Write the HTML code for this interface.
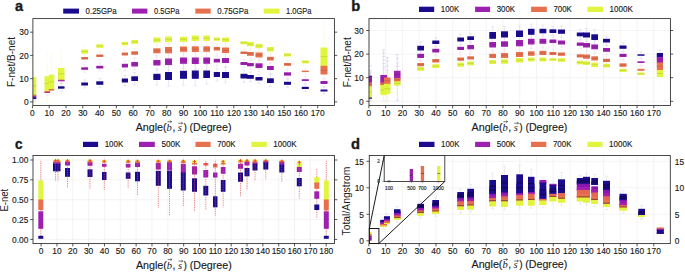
<!DOCTYPE html>
<html><head><meta charset="utf-8"><style>html,body{margin:0;padding:0;background:#fff;width:685px;height:272px;overflow:hidden}svg{display:block}</style></head><body>
<svg width="685" height="272" viewBox="0 0 685 272">
<rect width="685" height="272" fill="#ffffff"/>
<text x="15.10" y="10.90" font-family="Liberation Sans, sans-serif" font-size="13.8" text-anchor="start" fill="#1a1a1a" stroke="#1a1a1a" stroke-width="0.35" font-weight="bold" textLength="8.1" lengthAdjust="spacingAndGlyphs">a</text>
<text x="351.30" y="11.00" font-family="Liberation Sans, sans-serif" font-size="13.8" text-anchor="start" fill="#1a1a1a" stroke="#1a1a1a" stroke-width="0.35" font-weight="bold" textLength="9.0" lengthAdjust="spacingAndGlyphs">b</text>
<text x="15.10" y="148.90" font-family="Liberation Sans, sans-serif" font-size="13.8" text-anchor="start" fill="#1a1a1a" stroke="#1a1a1a" stroke-width="0.35" font-weight="bold" textLength="7.5" lengthAdjust="spacingAndGlyphs">c</text>
<text x="350.90" y="148.60" font-family="Liberation Sans, sans-serif" font-size="13.8" text-anchor="start" fill="#1a1a1a" stroke="#1a1a1a" stroke-width="0.35" font-weight="bold" textLength="9.0" lengthAdjust="spacingAndGlyphs">d</text>
<rect x="63.20" y="8.60" width="15.80" height="5.00" fill="#1b0c8f" />
<text x="85.60" y="13.50" font-family="Liberation Sans, sans-serif" font-size="8.4" text-anchor="start" fill="#1a1a1a" stroke="#1a1a1a" stroke-width="0.14" textLength="31.0" lengthAdjust="spacingAndGlyphs">0.25GPa</text>
<rect x="132.00" y="8.60" width="15.40" height="5.00" fill="#9d21b0" />
<text x="154.00" y="13.50" font-family="Liberation Sans, sans-serif" font-size="8.4" text-anchor="start" fill="#1a1a1a" stroke="#1a1a1a" stroke-width="0.14" textLength="25.4" lengthAdjust="spacingAndGlyphs">0.5GPa</text>
<rect x="195.30" y="8.60" width="15.40" height="5.00" fill="#e7714f" />
<text x="217.30" y="13.50" font-family="Liberation Sans, sans-serif" font-size="8.4" text-anchor="start" fill="#1a1a1a" stroke="#1a1a1a" stroke-width="0.14" textLength="31.0" lengthAdjust="spacingAndGlyphs">0.75GPa</text>
<rect x="263.70" y="8.60" width="15.80" height="5.00" fill="#e2f53e" />
<text x="286.10" y="13.50" font-family="Liberation Sans, sans-serif" font-size="8.4" text-anchor="start" fill="#1a1a1a" stroke="#1a1a1a" stroke-width="0.14" textLength="25.4" lengthAdjust="spacingAndGlyphs">1.0GPa</text>
<rect x="419.00" y="6.70" width="15.20" height="5.30" fill="#1b0c8f" />
<text x="440.80" y="12.30" font-family="Liberation Sans, sans-serif" font-size="8.4" text-anchor="start" fill="#1a1a1a" stroke="#1a1a1a" stroke-width="0.14" textLength="18.4" lengthAdjust="spacingAndGlyphs">100K</text>
<rect x="475.10" y="6.70" width="15.00" height="5.30" fill="#9d21b0" />
<text x="496.70" y="12.30" font-family="Liberation Sans, sans-serif" font-size="8.4" text-anchor="start" fill="#1a1a1a" stroke="#1a1a1a" stroke-width="0.14" textLength="18.4" lengthAdjust="spacingAndGlyphs">300K</text>
<rect x="531.10" y="6.70" width="15.70" height="5.30" fill="#e7714f" />
<text x="553.40" y="12.30" font-family="Liberation Sans, sans-serif" font-size="8.4" text-anchor="start" fill="#1a1a1a" stroke="#1a1a1a" stroke-width="0.14" textLength="18.4" lengthAdjust="spacingAndGlyphs">700K</text>
<rect x="587.40" y="6.70" width="15.60" height="5.30" fill="#e2f53e" />
<text x="609.60" y="12.30" font-family="Liberation Sans, sans-serif" font-size="8.4" text-anchor="start" fill="#1a1a1a" stroke="#1a1a1a" stroke-width="0.14" textLength="23.4" lengthAdjust="spacingAndGlyphs">1000K</text>
<rect x="83.00" y="141.80" width="15.10" height="5.20" fill="#1b0c8f" />
<text x="104.70" y="147.30" font-family="Liberation Sans, sans-serif" font-size="8.4" text-anchor="start" fill="#1a1a1a" stroke="#1a1a1a" stroke-width="0.14" textLength="18.6" lengthAdjust="spacingAndGlyphs">100K</text>
<rect x="139.00" y="141.80" width="15.80" height="5.20" fill="#9d21b0" />
<text x="161.40" y="147.30" font-family="Liberation Sans, sans-serif" font-size="8.4" text-anchor="start" fill="#1a1a1a" stroke="#1a1a1a" stroke-width="0.14" textLength="19.0" lengthAdjust="spacingAndGlyphs">500K</text>
<rect x="195.50" y="141.80" width="15.10" height="5.20" fill="#e7714f" />
<text x="217.20" y="147.30" font-family="Liberation Sans, sans-serif" font-size="8.4" text-anchor="start" fill="#1a1a1a" stroke="#1a1a1a" stroke-width="0.14" textLength="18.4" lengthAdjust="spacingAndGlyphs">700K</text>
<rect x="251.40" y="141.80" width="15.30" height="5.20" fill="#e2f53e" />
<text x="273.30" y="147.30" font-family="Liberation Sans, sans-serif" font-size="8.4" text-anchor="start" fill="#1a1a1a" stroke="#1a1a1a" stroke-width="0.14" textLength="23.3" lengthAdjust="spacingAndGlyphs">1000K</text>
<rect x="419.00" y="141.80" width="15.50" height="5.20" fill="#1b0c8f" />
<text x="441.10" y="147.30" font-family="Liberation Sans, sans-serif" font-size="8.4" text-anchor="start" fill="#1a1a1a" stroke="#1a1a1a" stroke-width="0.14" textLength="18.4" lengthAdjust="spacingAndGlyphs">100K</text>
<rect x="475.10" y="141.80" width="15.00" height="5.20" fill="#9d21b0" />
<text x="496.70" y="147.30" font-family="Liberation Sans, sans-serif" font-size="8.4" text-anchor="start" fill="#1a1a1a" stroke="#1a1a1a" stroke-width="0.14" textLength="18.8" lengthAdjust="spacingAndGlyphs">500K</text>
<rect x="531.00" y="141.80" width="15.30" height="5.20" fill="#e7714f" />
<text x="552.90" y="147.30" font-family="Liberation Sans, sans-serif" font-size="8.4" text-anchor="start" fill="#1a1a1a" stroke="#1a1a1a" stroke-width="0.14" textLength="18.6" lengthAdjust="spacingAndGlyphs">700K</text>
<rect x="587.50" y="141.80" width="15.00" height="5.20" fill="#e2f53e" />
<text x="609.10" y="147.30" font-family="Liberation Sans, sans-serif" font-size="8.4" text-anchor="start" fill="#1a1a1a" stroke="#1a1a1a" stroke-width="0.14" textLength="23.2" lengthAdjust="spacingAndGlyphs">1000K</text>
<line x1="368.90" y1="18.60" x2="368.90" y2="105.50" stroke="#ececec" stroke-width="0.6" />
<line x1="385.66" y1="18.60" x2="385.66" y2="105.50" stroke="#ececec" stroke-width="0.6" />
<line x1="402.42" y1="18.60" x2="402.42" y2="105.50" stroke="#ececec" stroke-width="0.6" />
<line x1="419.18" y1="18.60" x2="419.18" y2="105.50" stroke="#ececec" stroke-width="0.6" />
<line x1="435.94" y1="18.60" x2="435.94" y2="105.50" stroke="#ececec" stroke-width="0.6" />
<line x1="452.70" y1="18.60" x2="452.70" y2="105.50" stroke="#ececec" stroke-width="0.6" />
<line x1="469.46" y1="18.60" x2="469.46" y2="105.50" stroke="#ececec" stroke-width="0.6" />
<line x1="486.22" y1="18.60" x2="486.22" y2="105.50" stroke="#ececec" stroke-width="0.6" />
<line x1="502.98" y1="18.60" x2="502.98" y2="105.50" stroke="#ececec" stroke-width="0.6" />
<line x1="519.74" y1="18.60" x2="519.74" y2="105.50" stroke="#ececec" stroke-width="0.6" />
<line x1="536.50" y1="18.60" x2="536.50" y2="105.50" stroke="#ececec" stroke-width="0.6" />
<line x1="553.26" y1="18.60" x2="553.26" y2="105.50" stroke="#ececec" stroke-width="0.6" />
<line x1="570.02" y1="18.60" x2="570.02" y2="105.50" stroke="#ececec" stroke-width="0.6" />
<line x1="586.78" y1="18.60" x2="586.78" y2="105.50" stroke="#ececec" stroke-width="0.6" />
<line x1="603.54" y1="18.60" x2="603.54" y2="105.50" stroke="#ececec" stroke-width="0.6" />
<line x1="620.30" y1="18.60" x2="620.30" y2="105.50" stroke="#ececec" stroke-width="0.6" />
<line x1="637.06" y1="18.60" x2="637.06" y2="105.50" stroke="#ececec" stroke-width="0.6" />
<line x1="653.82" y1="18.60" x2="653.82" y2="105.50" stroke="#ececec" stroke-width="0.6" />
<line x1="369.00" y1="101.30" x2="670.40" y2="101.30" stroke="#ececec" stroke-width="0.6" />
<line x1="369.00" y1="77.70" x2="670.40" y2="77.70" stroke="#ececec" stroke-width="0.6" />
<line x1="369.00" y1="54.10" x2="670.40" y2="54.10" stroke="#ececec" stroke-width="0.6" />
<line x1="369.00" y1="30.50" x2="670.40" y2="30.50" stroke="#ececec" stroke-width="0.6" />
<line x1="41.10" y1="155.50" x2="41.10" y2="243.60" stroke="#ececec" stroke-width="0.6" />
<line x1="56.94" y1="155.50" x2="56.94" y2="243.60" stroke="#ececec" stroke-width="0.6" />
<line x1="72.78" y1="155.50" x2="72.78" y2="243.60" stroke="#ececec" stroke-width="0.6" />
<line x1="88.62" y1="155.50" x2="88.62" y2="243.60" stroke="#ececec" stroke-width="0.6" />
<line x1="104.46" y1="155.50" x2="104.46" y2="243.60" stroke="#ececec" stroke-width="0.6" />
<line x1="120.30" y1="155.50" x2="120.30" y2="243.60" stroke="#ececec" stroke-width="0.6" />
<line x1="136.14" y1="155.50" x2="136.14" y2="243.60" stroke="#ececec" stroke-width="0.6" />
<line x1="151.98" y1="155.50" x2="151.98" y2="243.60" stroke="#ececec" stroke-width="0.6" />
<line x1="167.82" y1="155.50" x2="167.82" y2="243.60" stroke="#ececec" stroke-width="0.6" />
<line x1="183.66" y1="155.50" x2="183.66" y2="243.60" stroke="#ececec" stroke-width="0.6" />
<line x1="199.50" y1="155.50" x2="199.50" y2="243.60" stroke="#ececec" stroke-width="0.6" />
<line x1="215.34" y1="155.50" x2="215.34" y2="243.60" stroke="#ececec" stroke-width="0.6" />
<line x1="231.18" y1="155.50" x2="231.18" y2="243.60" stroke="#ececec" stroke-width="0.6" />
<line x1="247.02" y1="155.50" x2="247.02" y2="243.60" stroke="#ececec" stroke-width="0.6" />
<line x1="262.86" y1="155.50" x2="262.86" y2="243.60" stroke="#ececec" stroke-width="0.6" />
<line x1="278.70" y1="155.50" x2="278.70" y2="243.60" stroke="#ececec" stroke-width="0.6" />
<line x1="294.54" y1="155.50" x2="294.54" y2="243.60" stroke="#ececec" stroke-width="0.6" />
<line x1="310.38" y1="155.50" x2="310.38" y2="243.60" stroke="#ececec" stroke-width="0.6" />
<line x1="326.22" y1="155.50" x2="326.22" y2="243.60" stroke="#ececec" stroke-width="0.6" />
<line x1="33.00" y1="239.40" x2="334.50" y2="239.40" stroke="#ececec" stroke-width="0.6" />
<line x1="33.00" y1="219.55" x2="334.50" y2="219.55" stroke="#ececec" stroke-width="0.6" />
<line x1="33.00" y1="199.70" x2="334.50" y2="199.70" stroke="#ececec" stroke-width="0.6" />
<line x1="33.00" y1="179.85" x2="334.50" y2="179.85" stroke="#ececec" stroke-width="0.6" />
<line x1="33.00" y1="160.00" x2="334.50" y2="160.00" stroke="#ececec" stroke-width="0.6" />
<line x1="368.90" y1="155.50" x2="368.90" y2="243.60" stroke="#ececec" stroke-width="0.6" />
<line x1="385.66" y1="155.50" x2="385.66" y2="243.60" stroke="#ececec" stroke-width="0.6" />
<line x1="402.42" y1="155.50" x2="402.42" y2="243.60" stroke="#ececec" stroke-width="0.6" />
<line x1="419.18" y1="155.50" x2="419.18" y2="243.60" stroke="#ececec" stroke-width="0.6" />
<line x1="435.94" y1="155.50" x2="435.94" y2="243.60" stroke="#ececec" stroke-width="0.6" />
<line x1="452.70" y1="155.50" x2="452.70" y2="243.60" stroke="#ececec" stroke-width="0.6" />
<line x1="469.46" y1="155.50" x2="469.46" y2="243.60" stroke="#ececec" stroke-width="0.6" />
<line x1="486.22" y1="155.50" x2="486.22" y2="243.60" stroke="#ececec" stroke-width="0.6" />
<line x1="502.98" y1="155.50" x2="502.98" y2="243.60" stroke="#ececec" stroke-width="0.6" />
<line x1="519.74" y1="155.50" x2="519.74" y2="243.60" stroke="#ececec" stroke-width="0.6" />
<line x1="536.50" y1="155.50" x2="536.50" y2="243.60" stroke="#ececec" stroke-width="0.6" />
<line x1="553.26" y1="155.50" x2="553.26" y2="243.60" stroke="#ececec" stroke-width="0.6" />
<line x1="570.02" y1="155.50" x2="570.02" y2="243.60" stroke="#ececec" stroke-width="0.6" />
<line x1="586.78" y1="155.50" x2="586.78" y2="243.60" stroke="#ececec" stroke-width="0.6" />
<line x1="603.54" y1="155.50" x2="603.54" y2="243.60" stroke="#ececec" stroke-width="0.6" />
<line x1="620.30" y1="155.50" x2="620.30" y2="243.60" stroke="#ececec" stroke-width="0.6" />
<line x1="637.06" y1="155.50" x2="637.06" y2="243.60" stroke="#ececec" stroke-width="0.6" />
<line x1="653.82" y1="155.50" x2="653.82" y2="243.60" stroke="#ececec" stroke-width="0.6" />
<line x1="369.30" y1="240.80" x2="670.30" y2="240.80" stroke="#ececec" stroke-width="0.6" />
<line x1="369.30" y1="214.30" x2="670.30" y2="214.30" stroke="#ececec" stroke-width="0.6" />
<line x1="369.30" y1="187.80" x2="670.30" y2="187.80" stroke="#ececec" stroke-width="0.6" />
<line x1="369.30" y1="161.30" x2="670.30" y2="161.30" stroke="#ececec" stroke-width="0.6" />
<line x1="34.60" y1="62.92" x2="34.60" y2="77.00" stroke="#fafde0" stroke-width="0.6" />
<line x1="34.60" y1="94.60" x2="34.60" y2="108.68" stroke="#fafde0" stroke-width="0.6" />
<line x1="33.00" y1="62.92" x2="36.20" y2="62.92" stroke="#fafde0" stroke-width="0.6" />
<line x1="33.00" y1="108.68" x2="36.20" y2="108.68" stroke="#fafde0" stroke-width="0.6" />
<line x1="34.60" y1="92.10" x2="34.60" y2="94.60" stroke="#fbe8e3" stroke-width="0.6" />
<line x1="34.60" y1="96.20" x2="34.60" y2="98.70" stroke="#fbe8e3" stroke-width="0.6" />
<line x1="33.00" y1="92.10" x2="36.20" y2="92.10" stroke="#fbe8e3" stroke-width="0.6" />
<line x1="33.00" y1="98.70" x2="36.20" y2="98.70" stroke="#fbe8e3" stroke-width="0.6" />
<line x1="34.60" y1="93.70" x2="34.60" y2="96.20" stroke="#efdbf2" stroke-width="0.6" />
<line x1="34.60" y1="97.50" x2="34.60" y2="100.00" stroke="#efdbf2" stroke-width="0.6" />
<line x1="33.00" y1="93.70" x2="36.20" y2="93.70" stroke="#efdbf2" stroke-width="0.6" />
<line x1="33.00" y1="100.00" x2="36.20" y2="100.00" stroke="#efdbf2" stroke-width="0.6" />
<line x1="34.60" y1="95.00" x2="34.60" y2="97.50" stroke="#dbd8ed" stroke-width="0.6" />
<line x1="34.60" y1="99.00" x2="34.60" y2="101.50" stroke="#dbd8ed" stroke-width="0.6" />
<line x1="33.00" y1="95.00" x2="36.20" y2="95.00" stroke="#dbd8ed" stroke-width="0.6" />
<line x1="33.00" y1="101.50" x2="36.20" y2="101.50" stroke="#dbd8ed" stroke-width="0.6" />
<line x1="47.25" y1="64.36" x2="47.25" y2="76.20" stroke="#fafde0" stroke-width="0.6" />
<line x1="47.25" y1="91.00" x2="47.25" y2="102.84" stroke="#fafde0" stroke-width="0.6" />
<line x1="45.65" y1="64.36" x2="48.85" y2="64.36" stroke="#fafde0" stroke-width="0.6" />
<line x1="45.65" y1="102.84" x2="48.85" y2="102.84" stroke="#fafde0" stroke-width="0.6" />
<line x1="47.25" y1="88.50" x2="47.25" y2="91.00" stroke="#fbe8e3" stroke-width="0.6" />
<line x1="47.25" y1="92.00" x2="47.25" y2="94.50" stroke="#fbe8e3" stroke-width="0.6" />
<line x1="45.65" y1="88.50" x2="48.85" y2="88.50" stroke="#fbe8e3" stroke-width="0.6" />
<line x1="45.65" y1="94.50" x2="48.85" y2="94.50" stroke="#fbe8e3" stroke-width="0.6" />
<line x1="47.25" y1="89.50" x2="47.25" y2="92.00" stroke="#efdbf2" stroke-width="0.6" />
<line x1="47.25" y1="92.80" x2="47.25" y2="95.30" stroke="#efdbf2" stroke-width="0.6" />
<line x1="45.65" y1="89.50" x2="48.85" y2="89.50" stroke="#efdbf2" stroke-width="0.6" />
<line x1="45.65" y1="95.30" x2="48.85" y2="95.30" stroke="#efdbf2" stroke-width="0.6" />
<line x1="51.55" y1="63.08" x2="51.55" y2="74.60" stroke="#fafde0" stroke-width="0.6" />
<line x1="51.55" y1="89.00" x2="51.55" y2="100.52" stroke="#fafde0" stroke-width="0.6" />
<line x1="49.95" y1="63.08" x2="53.15" y2="63.08" stroke="#fafde0" stroke-width="0.6" />
<line x1="49.95" y1="100.52" x2="53.15" y2="100.52" stroke="#fafde0" stroke-width="0.6" />
<line x1="51.55" y1="86.50" x2="51.55" y2="89.00" stroke="#fbe8e3" stroke-width="0.6" />
<line x1="51.55" y1="90.60" x2="51.55" y2="93.10" stroke="#fbe8e3" stroke-width="0.6" />
<line x1="49.95" y1="86.50" x2="53.15" y2="86.50" stroke="#fbe8e3" stroke-width="0.6" />
<line x1="49.95" y1="93.10" x2="53.15" y2="93.10" stroke="#fbe8e3" stroke-width="0.6" />
<line x1="61.25" y1="58.72" x2="61.25" y2="68.00" stroke="#fafde0" stroke-width="0.6" />
<line x1="61.25" y1="79.60" x2="61.25" y2="88.88" stroke="#fafde0" stroke-width="0.6" />
<line x1="59.65" y1="58.72" x2="62.85" y2="58.72" stroke="#fafde0" stroke-width="0.6" />
<line x1="59.65" y1="88.88" x2="62.85" y2="88.88" stroke="#fafde0" stroke-width="0.6" />
<line x1="61.25" y1="77.10" x2="61.25" y2="79.60" stroke="#fbe8e3" stroke-width="0.6" />
<line x1="61.25" y1="80.20" x2="61.25" y2="82.70" stroke="#fbe8e3" stroke-width="0.6" />
<line x1="59.65" y1="77.10" x2="62.85" y2="77.10" stroke="#fbe8e3" stroke-width="0.6" />
<line x1="59.65" y1="82.70" x2="62.85" y2="82.70" stroke="#fbe8e3" stroke-width="0.6" />
<line x1="61.25" y1="77.70" x2="61.25" y2="80.20" stroke="#efdbf2" stroke-width="0.6" />
<line x1="61.25" y1="81.30" x2="61.25" y2="83.80" stroke="#efdbf2" stroke-width="0.6" />
<line x1="59.65" y1="77.70" x2="62.85" y2="77.70" stroke="#efdbf2" stroke-width="0.6" />
<line x1="59.65" y1="83.80" x2="62.85" y2="83.80" stroke="#efdbf2" stroke-width="0.6" />
<line x1="61.25" y1="83.80" x2="61.25" y2="86.30" stroke="#dbd8ed" stroke-width="0.6" />
<line x1="61.25" y1="88.70" x2="61.25" y2="91.20" stroke="#dbd8ed" stroke-width="0.6" />
<line x1="59.65" y1="83.80" x2="62.85" y2="83.80" stroke="#dbd8ed" stroke-width="0.6" />
<line x1="59.65" y1="91.20" x2="62.85" y2="91.20" stroke="#dbd8ed" stroke-width="0.6" />
<line x1="84.65" y1="46.14" x2="84.65" y2="49.50" stroke="#fafde0" stroke-width="0.6" />
<line x1="84.65" y1="53.70" x2="84.65" y2="57.06" stroke="#fafde0" stroke-width="0.6" />
<line x1="83.05" y1="46.14" x2="86.25" y2="46.14" stroke="#fafde0" stroke-width="0.6" />
<line x1="83.05" y1="57.06" x2="86.25" y2="57.06" stroke="#fafde0" stroke-width="0.6" />
<line x1="84.65" y1="54.50" x2="84.65" y2="57.00" stroke="#fbe8e3" stroke-width="0.6" />
<line x1="84.65" y1="59.50" x2="84.65" y2="62.00" stroke="#fbe8e3" stroke-width="0.6" />
<line x1="83.05" y1="54.50" x2="86.25" y2="54.50" stroke="#fbe8e3" stroke-width="0.6" />
<line x1="83.05" y1="62.00" x2="86.25" y2="62.00" stroke="#fbe8e3" stroke-width="0.6" />
<line x1="84.65" y1="64.80" x2="84.65" y2="67.30" stroke="#efdbf2" stroke-width="0.6" />
<line x1="84.65" y1="69.80" x2="84.65" y2="72.30" stroke="#efdbf2" stroke-width="0.6" />
<line x1="83.05" y1="64.80" x2="86.25" y2="64.80" stroke="#efdbf2" stroke-width="0.6" />
<line x1="83.05" y1="72.30" x2="86.25" y2="72.30" stroke="#efdbf2" stroke-width="0.6" />
<line x1="84.65" y1="80.00" x2="84.65" y2="82.50" stroke="#dbd8ed" stroke-width="0.6" />
<line x1="84.65" y1="85.50" x2="84.65" y2="88.00" stroke="#dbd8ed" stroke-width="0.6" />
<line x1="83.05" y1="80.00" x2="86.25" y2="80.00" stroke="#dbd8ed" stroke-width="0.6" />
<line x1="83.05" y1="88.00" x2="86.25" y2="88.00" stroke="#dbd8ed" stroke-width="0.6" />
<line x1="99.80" y1="41.50" x2="99.80" y2="44.30" stroke="#fafde0" stroke-width="0.6" />
<line x1="99.80" y1="47.80" x2="99.80" y2="50.60" stroke="#fafde0" stroke-width="0.6" />
<line x1="98.20" y1="41.50" x2="101.40" y2="41.50" stroke="#fafde0" stroke-width="0.6" />
<line x1="98.20" y1="50.60" x2="101.40" y2="50.60" stroke="#fafde0" stroke-width="0.6" />
<line x1="99.80" y1="52.00" x2="99.80" y2="54.50" stroke="#fbe8e3" stroke-width="0.6" />
<line x1="99.80" y1="57.00" x2="99.80" y2="59.50" stroke="#fbe8e3" stroke-width="0.6" />
<line x1="98.20" y1="52.00" x2="101.40" y2="52.00" stroke="#fbe8e3" stroke-width="0.6" />
<line x1="98.20" y1="59.50" x2="101.40" y2="59.50" stroke="#fbe8e3" stroke-width="0.6" />
<line x1="99.80" y1="63.30" x2="99.80" y2="65.80" stroke="#efdbf2" stroke-width="0.6" />
<line x1="99.80" y1="68.50" x2="99.80" y2="71.00" stroke="#efdbf2" stroke-width="0.6" />
<line x1="98.20" y1="63.30" x2="101.40" y2="63.30" stroke="#efdbf2" stroke-width="0.6" />
<line x1="98.20" y1="71.00" x2="101.40" y2="71.00" stroke="#efdbf2" stroke-width="0.6" />
<line x1="99.80" y1="78.50" x2="99.80" y2="81.30" stroke="#dbd8ed" stroke-width="0.6" />
<line x1="99.80" y1="84.80" x2="99.80" y2="87.60" stroke="#dbd8ed" stroke-width="0.6" />
<line x1="98.20" y1="78.50" x2="101.40" y2="78.50" stroke="#dbd8ed" stroke-width="0.6" />
<line x1="98.20" y1="87.60" x2="101.40" y2="87.60" stroke="#dbd8ed" stroke-width="0.6" />
<line x1="124.90" y1="39.00" x2="124.90" y2="41.80" stroke="#fafde0" stroke-width="0.6" />
<line x1="124.90" y1="45.30" x2="124.90" y2="48.10" stroke="#fafde0" stroke-width="0.6" />
<line x1="123.30" y1="39.00" x2="126.50" y2="39.00" stroke="#fafde0" stroke-width="0.6" />
<line x1="123.30" y1="48.10" x2="126.50" y2="48.10" stroke="#fafde0" stroke-width="0.6" />
<line x1="124.90" y1="50.00" x2="124.90" y2="52.50" stroke="#fbe8e3" stroke-width="0.6" />
<line x1="124.90" y1="55.50" x2="124.90" y2="58.00" stroke="#fbe8e3" stroke-width="0.6" />
<line x1="123.30" y1="50.00" x2="126.50" y2="50.00" stroke="#fbe8e3" stroke-width="0.6" />
<line x1="123.30" y1="58.00" x2="126.50" y2="58.00" stroke="#fbe8e3" stroke-width="0.6" />
<line x1="124.90" y1="60.84" x2="124.90" y2="63.80" stroke="#efdbf2" stroke-width="0.6" />
<line x1="124.90" y1="67.50" x2="124.90" y2="70.46" stroke="#efdbf2" stroke-width="0.6" />
<line x1="123.30" y1="60.84" x2="126.50" y2="60.84" stroke="#efdbf2" stroke-width="0.6" />
<line x1="123.30" y1="70.46" x2="126.50" y2="70.46" stroke="#efdbf2" stroke-width="0.6" />
<line x1="124.90" y1="75.30" x2="124.90" y2="78.50" stroke="#dbd8ed" stroke-width="0.6" />
<line x1="124.90" y1="82.50" x2="124.90" y2="85.70" stroke="#dbd8ed" stroke-width="0.6" />
<line x1="123.30" y1="75.30" x2="126.50" y2="75.30" stroke="#dbd8ed" stroke-width="0.6" />
<line x1="123.30" y1="85.70" x2="126.50" y2="85.70" stroke="#dbd8ed" stroke-width="0.6" />
<line x1="134.65" y1="36.96" x2="134.65" y2="40.00" stroke="#fafde0" stroke-width="0.6" />
<line x1="134.65" y1="43.80" x2="134.65" y2="46.84" stroke="#fafde0" stroke-width="0.6" />
<line x1="133.05" y1="36.96" x2="136.25" y2="36.96" stroke="#fafde0" stroke-width="0.6" />
<line x1="133.05" y1="46.84" x2="136.25" y2="46.84" stroke="#fafde0" stroke-width="0.6" />
<line x1="134.65" y1="48.50" x2="134.65" y2="51.30" stroke="#fbe8e3" stroke-width="0.6" />
<line x1="134.65" y1="54.80" x2="134.65" y2="57.60" stroke="#fbe8e3" stroke-width="0.6" />
<line x1="133.05" y1="48.50" x2="136.25" y2="48.50" stroke="#fbe8e3" stroke-width="0.6" />
<line x1="133.05" y1="57.60" x2="136.25" y2="57.60" stroke="#fbe8e3" stroke-width="0.6" />
<line x1="134.65" y1="58.40" x2="134.65" y2="62.00" stroke="#efdbf2" stroke-width="0.6" />
<line x1="134.65" y1="66.50" x2="134.65" y2="70.10" stroke="#efdbf2" stroke-width="0.6" />
<line x1="133.05" y1="58.40" x2="136.25" y2="58.40" stroke="#efdbf2" stroke-width="0.6" />
<line x1="133.05" y1="70.10" x2="136.25" y2="70.10" stroke="#efdbf2" stroke-width="0.6" />
<line x1="134.65" y1="72.54" x2="134.65" y2="76.30" stroke="#dbd8ed" stroke-width="0.6" />
<line x1="134.65" y1="81.00" x2="134.65" y2="84.76" stroke="#dbd8ed" stroke-width="0.6" />
<line x1="133.05" y1="72.54" x2="136.25" y2="72.54" stroke="#dbd8ed" stroke-width="0.6" />
<line x1="133.05" y1="84.76" x2="136.25" y2="84.76" stroke="#dbd8ed" stroke-width="0.6" />
<line x1="156.90" y1="33.50" x2="156.90" y2="37.50" stroke="#fafde0" stroke-width="0.6" />
<line x1="156.90" y1="42.50" x2="156.90" y2="46.50" stroke="#fafde0" stroke-width="0.6" />
<line x1="155.30" y1="33.50" x2="158.50" y2="33.50" stroke="#fafde0" stroke-width="0.6" />
<line x1="155.30" y1="46.50" x2="158.50" y2="46.50" stroke="#fafde0" stroke-width="0.6" />
<line x1="156.90" y1="44.30" x2="156.90" y2="48.30" stroke="#fbe8e3" stroke-width="0.6" />
<line x1="156.90" y1="53.30" x2="156.90" y2="57.30" stroke="#fbe8e3" stroke-width="0.6" />
<line x1="155.30" y1="44.30" x2="158.50" y2="44.30" stroke="#fbe8e3" stroke-width="0.6" />
<line x1="155.30" y1="57.30" x2="158.50" y2="57.30" stroke="#fbe8e3" stroke-width="0.6" />
<line x1="156.90" y1="55.60" x2="156.90" y2="60.00" stroke="#efdbf2" stroke-width="0.6" />
<line x1="156.90" y1="65.50" x2="156.90" y2="69.90" stroke="#efdbf2" stroke-width="0.6" />
<line x1="155.30" y1="55.60" x2="158.50" y2="55.60" stroke="#efdbf2" stroke-width="0.6" />
<line x1="155.30" y1="69.90" x2="158.50" y2="69.90" stroke="#efdbf2" stroke-width="0.6" />
<line x1="156.90" y1="68.84" x2="156.90" y2="73.80" stroke="#dbd8ed" stroke-width="0.6" />
<line x1="156.90" y1="80.00" x2="156.90" y2="84.96" stroke="#dbd8ed" stroke-width="0.6" />
<line x1="155.30" y1="68.84" x2="158.50" y2="68.84" stroke="#dbd8ed" stroke-width="0.6" />
<line x1="155.30" y1="84.96" x2="158.50" y2="84.96" stroke="#dbd8ed" stroke-width="0.6" />
<line x1="168.50" y1="32.10" x2="168.50" y2="36.50" stroke="#fafde0" stroke-width="0.6" />
<line x1="168.50" y1="42.00" x2="168.50" y2="46.40" stroke="#fafde0" stroke-width="0.6" />
<line x1="166.90" y1="32.10" x2="170.10" y2="32.10" stroke="#fafde0" stroke-width="0.6" />
<line x1="166.90" y1="46.40" x2="170.10" y2="46.40" stroke="#fafde0" stroke-width="0.6" />
<line x1="168.50" y1="41.96" x2="168.50" y2="47.00" stroke="#fbe8e3" stroke-width="0.6" />
<line x1="168.50" y1="53.30" x2="168.50" y2="58.34" stroke="#fbe8e3" stroke-width="0.6" />
<line x1="166.90" y1="41.96" x2="170.10" y2="41.96" stroke="#fbe8e3" stroke-width="0.6" />
<line x1="166.90" y1="58.34" x2="170.10" y2="58.34" stroke="#fbe8e3" stroke-width="0.6" />
<line x1="168.50" y1="53.30" x2="168.50" y2="58.50" stroke="#efdbf2" stroke-width="0.6" />
<line x1="168.50" y1="65.00" x2="168.50" y2="70.20" stroke="#efdbf2" stroke-width="0.6" />
<line x1="166.90" y1="53.30" x2="170.10" y2="53.30" stroke="#efdbf2" stroke-width="0.6" />
<line x1="166.90" y1="70.20" x2="170.10" y2="70.20" stroke="#efdbf2" stroke-width="0.6" />
<line x1="168.50" y1="65.60" x2="168.50" y2="72.00" stroke="#dbd8ed" stroke-width="0.6" />
<line x1="168.50" y1="80.00" x2="168.50" y2="86.40" stroke="#dbd8ed" stroke-width="0.6" />
<line x1="166.90" y1="65.60" x2="170.10" y2="65.60" stroke="#dbd8ed" stroke-width="0.6" />
<line x1="166.90" y1="86.40" x2="170.10" y2="86.40" stroke="#dbd8ed" stroke-width="0.6" />
<line x1="183.50" y1="32.80" x2="183.50" y2="36.80" stroke="#fafde0" stroke-width="0.6" />
<line x1="183.50" y1="41.80" x2="183.50" y2="45.80" stroke="#fafde0" stroke-width="0.6" />
<line x1="181.90" y1="32.80" x2="185.10" y2="32.80" stroke="#fafde0" stroke-width="0.6" />
<line x1="181.90" y1="45.80" x2="185.10" y2="45.80" stroke="#fafde0" stroke-width="0.6" />
<line x1="183.50" y1="42.26" x2="183.50" y2="46.50" stroke="#fbe8e3" stroke-width="0.6" />
<line x1="183.50" y1="51.80" x2="183.50" y2="56.04" stroke="#fbe8e3" stroke-width="0.6" />
<line x1="181.90" y1="42.26" x2="185.10" y2="42.26" stroke="#fbe8e3" stroke-width="0.6" />
<line x1="181.90" y1="56.04" x2="185.10" y2="56.04" stroke="#fbe8e3" stroke-width="0.6" />
<line x1="183.50" y1="52.46" x2="183.50" y2="57.50" stroke="#efdbf2" stroke-width="0.6" />
<line x1="183.50" y1="63.80" x2="183.50" y2="68.84" stroke="#efdbf2" stroke-width="0.6" />
<line x1="181.90" y1="52.46" x2="185.10" y2="52.46" stroke="#efdbf2" stroke-width="0.6" />
<line x1="181.90" y1="68.84" x2="185.10" y2="68.84" stroke="#efdbf2" stroke-width="0.6" />
<line x1="183.50" y1="64.40" x2="183.50" y2="70.80" stroke="#dbd8ed" stroke-width="0.6" />
<line x1="183.50" y1="78.80" x2="183.50" y2="85.20" stroke="#dbd8ed" stroke-width="0.6" />
<line x1="181.90" y1="64.40" x2="185.10" y2="64.40" stroke="#dbd8ed" stroke-width="0.6" />
<line x1="181.90" y1="85.20" x2="185.10" y2="85.20" stroke="#dbd8ed" stroke-width="0.6" />
<line x1="195.30" y1="31.10" x2="195.30" y2="35.50" stroke="#fafde0" stroke-width="0.6" />
<line x1="195.30" y1="41.00" x2="195.30" y2="45.40" stroke="#fafde0" stroke-width="0.6" />
<line x1="193.70" y1="31.10" x2="196.90" y2="31.10" stroke="#fafde0" stroke-width="0.6" />
<line x1="193.70" y1="45.40" x2="196.90" y2="45.40" stroke="#fafde0" stroke-width="0.6" />
<line x1="195.30" y1="41.74" x2="195.30" y2="46.30" stroke="#fbe8e3" stroke-width="0.6" />
<line x1="195.30" y1="52.00" x2="195.30" y2="56.56" stroke="#fbe8e3" stroke-width="0.6" />
<line x1="193.70" y1="41.74" x2="196.90" y2="41.74" stroke="#fbe8e3" stroke-width="0.6" />
<line x1="193.70" y1="56.56" x2="196.90" y2="56.56" stroke="#fbe8e3" stroke-width="0.6" />
<line x1="195.30" y1="52.30" x2="195.30" y2="57.50" stroke="#efdbf2" stroke-width="0.6" />
<line x1="195.30" y1="64.00" x2="195.30" y2="69.20" stroke="#efdbf2" stroke-width="0.6" />
<line x1="193.70" y1="52.30" x2="196.90" y2="52.30" stroke="#efdbf2" stroke-width="0.6" />
<line x1="193.70" y1="69.20" x2="196.90" y2="69.20" stroke="#efdbf2" stroke-width="0.6" />
<line x1="195.30" y1="63.86" x2="195.30" y2="70.50" stroke="#dbd8ed" stroke-width="0.6" />
<line x1="195.30" y1="78.80" x2="195.30" y2="85.44" stroke="#dbd8ed" stroke-width="0.6" />
<line x1="193.70" y1="63.86" x2="196.90" y2="63.86" stroke="#dbd8ed" stroke-width="0.6" />
<line x1="193.70" y1="85.44" x2="196.90" y2="85.44" stroke="#dbd8ed" stroke-width="0.6" />
<line x1="206.65" y1="31.10" x2="206.65" y2="35.50" stroke="#fafde0" stroke-width="0.6" />
<line x1="206.65" y1="41.00" x2="206.65" y2="45.40" stroke="#fafde0" stroke-width="0.6" />
<line x1="205.05" y1="31.10" x2="208.25" y2="31.10" stroke="#fafde0" stroke-width="0.6" />
<line x1="205.05" y1="45.40" x2="208.25" y2="45.40" stroke="#fafde0" stroke-width="0.6" />
<line x1="206.65" y1="41.90" x2="206.65" y2="46.30" stroke="#fbe8e3" stroke-width="0.6" />
<line x1="206.65" y1="51.80" x2="206.65" y2="56.20" stroke="#fbe8e3" stroke-width="0.6" />
<line x1="205.05" y1="41.90" x2="208.25" y2="41.90" stroke="#fbe8e3" stroke-width="0.6" />
<line x1="205.05" y1="56.20" x2="208.25" y2="56.20" stroke="#fbe8e3" stroke-width="0.6" />
<line x1="206.65" y1="52.46" x2="206.65" y2="57.50" stroke="#efdbf2" stroke-width="0.6" />
<line x1="206.65" y1="63.80" x2="206.65" y2="68.84" stroke="#efdbf2" stroke-width="0.6" />
<line x1="205.05" y1="52.46" x2="208.25" y2="52.46" stroke="#efdbf2" stroke-width="0.6" />
<line x1="205.05" y1="68.84" x2="208.25" y2="68.84" stroke="#efdbf2" stroke-width="0.6" />
<line x1="206.65" y1="64.50" x2="206.65" y2="70.50" stroke="#dbd8ed" stroke-width="0.6" />
<line x1="206.65" y1="78.00" x2="206.65" y2="84.00" stroke="#dbd8ed" stroke-width="0.6" />
<line x1="205.05" y1="64.50" x2="208.25" y2="64.50" stroke="#dbd8ed" stroke-width="0.6" />
<line x1="205.05" y1="84.00" x2="208.25" y2="84.00" stroke="#dbd8ed" stroke-width="0.6" />
<line x1="216.90" y1="34.86" x2="216.90" y2="37.50" stroke="#fafde0" stroke-width="0.6" />
<line x1="216.90" y1="40.80" x2="216.90" y2="43.44" stroke="#fafde0" stroke-width="0.6" />
<line x1="215.30" y1="34.86" x2="218.50" y2="34.86" stroke="#fafde0" stroke-width="0.6" />
<line x1="215.30" y1="43.44" x2="218.50" y2="43.44" stroke="#fafde0" stroke-width="0.6" />
<line x1="216.90" y1="44.20" x2="216.90" y2="47.00" stroke="#fbe8e3" stroke-width="0.6" />
<line x1="216.90" y1="50.50" x2="216.90" y2="53.30" stroke="#fbe8e3" stroke-width="0.6" />
<line x1="215.30" y1="44.20" x2="218.50" y2="44.20" stroke="#fbe8e3" stroke-width="0.6" />
<line x1="215.30" y1="53.30" x2="218.50" y2="53.30" stroke="#fbe8e3" stroke-width="0.6" />
<line x1="216.90" y1="55.84" x2="216.90" y2="58.80" stroke="#efdbf2" stroke-width="0.6" />
<line x1="216.90" y1="62.50" x2="216.90" y2="65.46" stroke="#efdbf2" stroke-width="0.6" />
<line x1="215.30" y1="55.84" x2="218.50" y2="55.84" stroke="#efdbf2" stroke-width="0.6" />
<line x1="215.30" y1="65.46" x2="218.50" y2="65.46" stroke="#efdbf2" stroke-width="0.6" />
<line x1="216.90" y1="68.00" x2="216.90" y2="72.00" stroke="#dbd8ed" stroke-width="0.6" />
<line x1="216.90" y1="77.00" x2="216.90" y2="81.00" stroke="#dbd8ed" stroke-width="0.6" />
<line x1="215.30" y1="68.00" x2="218.50" y2="68.00" stroke="#dbd8ed" stroke-width="0.6" />
<line x1="215.30" y1="81.00" x2="218.50" y2="81.00" stroke="#dbd8ed" stroke-width="0.6" />
<line x1="225.50" y1="33.90" x2="225.50" y2="37.50" stroke="#fafde0" stroke-width="0.6" />
<line x1="225.50" y1="42.00" x2="225.50" y2="45.60" stroke="#fafde0" stroke-width="0.6" />
<line x1="223.90" y1="33.90" x2="227.10" y2="33.90" stroke="#fafde0" stroke-width="0.6" />
<line x1="223.90" y1="45.60" x2="227.10" y2="45.60" stroke="#fafde0" stroke-width="0.6" />
<line x1="225.50" y1="43.10" x2="225.50" y2="47.50" stroke="#fbe8e3" stroke-width="0.6" />
<line x1="225.50" y1="53.00" x2="225.50" y2="57.40" stroke="#fbe8e3" stroke-width="0.6" />
<line x1="223.90" y1="43.10" x2="227.10" y2="43.10" stroke="#fbe8e3" stroke-width="0.6" />
<line x1="223.90" y1="57.40" x2="227.10" y2="57.40" stroke="#fbe8e3" stroke-width="0.6" />
<line x1="225.50" y1="54.00" x2="225.50" y2="58.00" stroke="#efdbf2" stroke-width="0.6" />
<line x1="225.50" y1="63.00" x2="225.50" y2="67.00" stroke="#efdbf2" stroke-width="0.6" />
<line x1="223.90" y1="54.00" x2="227.10" y2="54.00" stroke="#efdbf2" stroke-width="0.6" />
<line x1="223.90" y1="67.00" x2="227.10" y2="67.00" stroke="#efdbf2" stroke-width="0.6" />
<line x1="225.50" y1="67.20" x2="225.50" y2="72.00" stroke="#dbd8ed" stroke-width="0.6" />
<line x1="225.50" y1="78.00" x2="225.50" y2="82.80" stroke="#dbd8ed" stroke-width="0.6" />
<line x1="223.90" y1="67.20" x2="227.10" y2="67.20" stroke="#dbd8ed" stroke-width="0.6" />
<line x1="223.90" y1="82.80" x2="227.10" y2="82.80" stroke="#dbd8ed" stroke-width="0.6" />
<line x1="244.00" y1="38.80" x2="244.00" y2="41.30" stroke="#fafde0" stroke-width="0.6" />
<line x1="244.00" y1="44.30" x2="244.00" y2="46.80" stroke="#fafde0" stroke-width="0.6" />
<line x1="242.40" y1="38.80" x2="245.60" y2="38.80" stroke="#fafde0" stroke-width="0.6" />
<line x1="242.40" y1="46.80" x2="245.60" y2="46.80" stroke="#fafde0" stroke-width="0.6" />
<line x1="244.00" y1="49.00" x2="244.00" y2="51.50" stroke="#fbe8e3" stroke-width="0.6" />
<line x1="244.00" y1="54.00" x2="244.00" y2="56.50" stroke="#fbe8e3" stroke-width="0.6" />
<line x1="242.40" y1="49.00" x2="245.60" y2="49.00" stroke="#fbe8e3" stroke-width="0.6" />
<line x1="242.40" y1="56.50" x2="245.60" y2="56.50" stroke="#fbe8e3" stroke-width="0.6" />
<line x1="244.00" y1="59.50" x2="244.00" y2="62.00" stroke="#efdbf2" stroke-width="0.6" />
<line x1="244.00" y1="65.00" x2="244.00" y2="67.50" stroke="#efdbf2" stroke-width="0.6" />
<line x1="242.40" y1="59.50" x2="245.60" y2="59.50" stroke="#efdbf2" stroke-width="0.6" />
<line x1="242.40" y1="67.50" x2="245.60" y2="67.50" stroke="#efdbf2" stroke-width="0.6" />
<line x1="244.00" y1="70.04" x2="244.00" y2="73.80" stroke="#dbd8ed" stroke-width="0.6" />
<line x1="244.00" y1="78.50" x2="244.00" y2="82.26" stroke="#dbd8ed" stroke-width="0.6" />
<line x1="242.40" y1="70.04" x2="245.60" y2="70.04" stroke="#dbd8ed" stroke-width="0.6" />
<line x1="242.40" y1="82.26" x2="245.60" y2="82.26" stroke="#dbd8ed" stroke-width="0.6" />
<line x1="250.40" y1="38.56" x2="250.40" y2="42.00" stroke="#fafde0" stroke-width="0.6" />
<line x1="250.40" y1="46.30" x2="250.40" y2="49.74" stroke="#fafde0" stroke-width="0.6" />
<line x1="248.80" y1="38.56" x2="252.00" y2="38.56" stroke="#fafde0" stroke-width="0.6" />
<line x1="248.80" y1="49.74" x2="252.00" y2="49.74" stroke="#fafde0" stroke-width="0.6" />
<line x1="250.40" y1="48.96" x2="250.40" y2="52.00" stroke="#fbe8e3" stroke-width="0.6" />
<line x1="250.40" y1="55.80" x2="250.40" y2="58.84" stroke="#fbe8e3" stroke-width="0.6" />
<line x1="248.80" y1="48.96" x2="252.00" y2="48.96" stroke="#fbe8e3" stroke-width="0.6" />
<line x1="248.80" y1="58.84" x2="252.00" y2="58.84" stroke="#fbe8e3" stroke-width="0.6" />
<line x1="250.40" y1="60.36" x2="250.40" y2="63.00" stroke="#efdbf2" stroke-width="0.6" />
<line x1="250.40" y1="66.30" x2="250.40" y2="68.94" stroke="#efdbf2" stroke-width="0.6" />
<line x1="248.80" y1="60.36" x2="252.00" y2="60.36" stroke="#efdbf2" stroke-width="0.6" />
<line x1="248.80" y1="68.94" x2="252.00" y2="68.94" stroke="#efdbf2" stroke-width="0.6" />
<line x1="250.40" y1="71.96" x2="250.40" y2="75.00" stroke="#dbd8ed" stroke-width="0.6" />
<line x1="250.40" y1="78.80" x2="250.40" y2="81.84" stroke="#dbd8ed" stroke-width="0.6" />
<line x1="248.80" y1="71.96" x2="252.00" y2="71.96" stroke="#dbd8ed" stroke-width="0.6" />
<line x1="248.80" y1="81.84" x2="252.00" y2="81.84" stroke="#dbd8ed" stroke-width="0.6" />
<line x1="259.00" y1="40.44" x2="259.00" y2="43.80" stroke="#fafde0" stroke-width="0.6" />
<line x1="259.00" y1="48.00" x2="259.00" y2="51.36" stroke="#fafde0" stroke-width="0.6" />
<line x1="257.40" y1="40.44" x2="260.60" y2="40.44" stroke="#fafde0" stroke-width="0.6" />
<line x1="257.40" y1="51.36" x2="260.60" y2="51.36" stroke="#fafde0" stroke-width="0.6" />
<line x1="259.00" y1="48.50" x2="259.00" y2="52.50" stroke="#fbe8e3" stroke-width="0.6" />
<line x1="259.00" y1="57.50" x2="259.00" y2="61.50" stroke="#fbe8e3" stroke-width="0.6" />
<line x1="257.40" y1="48.50" x2="260.60" y2="48.50" stroke="#fbe8e3" stroke-width="0.6" />
<line x1="257.40" y1="61.50" x2="260.60" y2="61.50" stroke="#fbe8e3" stroke-width="0.6" />
<line x1="259.00" y1="59.54" x2="259.00" y2="63.30" stroke="#efdbf2" stroke-width="0.6" />
<line x1="259.00" y1="68.00" x2="259.00" y2="71.76" stroke="#efdbf2" stroke-width="0.6" />
<line x1="257.40" y1="59.54" x2="260.60" y2="59.54" stroke="#efdbf2" stroke-width="0.6" />
<line x1="257.40" y1="71.76" x2="260.60" y2="71.76" stroke="#efdbf2" stroke-width="0.6" />
<line x1="259.00" y1="74.20" x2="259.00" y2="77.00" stroke="#dbd8ed" stroke-width="0.6" />
<line x1="259.00" y1="80.50" x2="259.00" y2="83.30" stroke="#dbd8ed" stroke-width="0.6" />
<line x1="257.40" y1="74.20" x2="260.60" y2="74.20" stroke="#dbd8ed" stroke-width="0.6" />
<line x1="257.40" y1="83.30" x2="260.60" y2="83.30" stroke="#dbd8ed" stroke-width="0.6" />
<line x1="270.40" y1="43.40" x2="270.40" y2="47.00" stroke="#fafde0" stroke-width="0.6" />
<line x1="270.40" y1="51.50" x2="270.40" y2="55.10" stroke="#fafde0" stroke-width="0.6" />
<line x1="268.80" y1="43.40" x2="272.00" y2="43.40" stroke="#fafde0" stroke-width="0.6" />
<line x1="268.80" y1="55.10" x2="272.00" y2="55.10" stroke="#fafde0" stroke-width="0.6" />
<line x1="270.40" y1="53.84" x2="270.40" y2="56.80" stroke="#fbe8e3" stroke-width="0.6" />
<line x1="270.40" y1="60.50" x2="270.40" y2="63.46" stroke="#fbe8e3" stroke-width="0.6" />
<line x1="268.80" y1="53.84" x2="272.00" y2="53.84" stroke="#fbe8e3" stroke-width="0.6" />
<line x1="268.80" y1="63.46" x2="272.00" y2="63.46" stroke="#fbe8e3" stroke-width="0.6" />
<line x1="270.40" y1="62.80" x2="270.40" y2="66.00" stroke="#efdbf2" stroke-width="0.6" />
<line x1="270.40" y1="70.00" x2="270.40" y2="73.20" stroke="#efdbf2" stroke-width="0.6" />
<line x1="268.80" y1="62.80" x2="272.00" y2="62.80" stroke="#efdbf2" stroke-width="0.6" />
<line x1="268.80" y1="73.20" x2="272.00" y2="73.20" stroke="#efdbf2" stroke-width="0.6" />
<line x1="270.40" y1="74.54" x2="270.40" y2="78.30" stroke="#dbd8ed" stroke-width="0.6" />
<line x1="270.40" y1="83.00" x2="270.40" y2="86.76" stroke="#dbd8ed" stroke-width="0.6" />
<line x1="268.80" y1="74.54" x2="272.00" y2="74.54" stroke="#dbd8ed" stroke-width="0.6" />
<line x1="268.80" y1="86.76" x2="272.00" y2="86.76" stroke="#dbd8ed" stroke-width="0.6" />
<line x1="287.50" y1="50.74" x2="287.50" y2="53.30" stroke="#fafde0" stroke-width="0.6" />
<line x1="287.50" y1="56.50" x2="287.50" y2="59.06" stroke="#fafde0" stroke-width="0.6" />
<line x1="285.90" y1="50.74" x2="289.10" y2="50.74" stroke="#fafde0" stroke-width="0.6" />
<line x1="285.90" y1="59.06" x2="289.10" y2="59.06" stroke="#fafde0" stroke-width="0.6" />
<line x1="287.50" y1="60.50" x2="287.50" y2="63.00" stroke="#fbe8e3" stroke-width="0.6" />
<line x1="287.50" y1="65.80" x2="287.50" y2="68.30" stroke="#fbe8e3" stroke-width="0.6" />
<line x1="285.90" y1="60.50" x2="289.10" y2="60.50" stroke="#fbe8e3" stroke-width="0.6" />
<line x1="285.90" y1="68.30" x2="289.10" y2="68.30" stroke="#fbe8e3" stroke-width="0.6" />
<line x1="287.50" y1="69.66" x2="287.50" y2="72.30" stroke="#efdbf2" stroke-width="0.6" />
<line x1="287.50" y1="75.60" x2="287.50" y2="78.24" stroke="#efdbf2" stroke-width="0.6" />
<line x1="285.90" y1="69.66" x2="289.10" y2="69.66" stroke="#efdbf2" stroke-width="0.6" />
<line x1="285.90" y1="78.24" x2="289.10" y2="78.24" stroke="#efdbf2" stroke-width="0.6" />
<line x1="287.50" y1="79.30" x2="287.50" y2="81.80" stroke="#dbd8ed" stroke-width="0.6" />
<line x1="287.50" y1="84.80" x2="287.50" y2="87.30" stroke="#dbd8ed" stroke-width="0.6" />
<line x1="285.90" y1="79.30" x2="289.10" y2="79.30" stroke="#dbd8ed" stroke-width="0.6" />
<line x1="285.90" y1="87.30" x2="289.10" y2="87.30" stroke="#dbd8ed" stroke-width="0.6" />
<line x1="305.30" y1="57.90" x2="305.30" y2="60.40" stroke="#fafde0" stroke-width="0.6" />
<line x1="305.30" y1="63.40" x2="305.30" y2="65.90" stroke="#fafde0" stroke-width="0.6" />
<line x1="303.70" y1="57.90" x2="306.90" y2="57.90" stroke="#fafde0" stroke-width="0.6" />
<line x1="303.70" y1="65.90" x2="306.90" y2="65.90" stroke="#fafde0" stroke-width="0.6" />
<line x1="305.30" y1="68.10" x2="305.30" y2="70.60" stroke="#fbe8e3" stroke-width="0.6" />
<line x1="305.30" y1="72.10" x2="305.30" y2="74.60" stroke="#fbe8e3" stroke-width="0.6" />
<line x1="303.70" y1="68.10" x2="306.90" y2="68.10" stroke="#fbe8e3" stroke-width="0.6" />
<line x1="303.70" y1="74.60" x2="306.90" y2="74.60" stroke="#fbe8e3" stroke-width="0.6" />
<line x1="305.30" y1="76.70" x2="305.30" y2="79.20" stroke="#efdbf2" stroke-width="0.6" />
<line x1="305.30" y1="81.00" x2="305.30" y2="83.50" stroke="#efdbf2" stroke-width="0.6" />
<line x1="303.70" y1="76.70" x2="306.90" y2="76.70" stroke="#efdbf2" stroke-width="0.6" />
<line x1="303.70" y1="83.50" x2="306.90" y2="83.50" stroke="#efdbf2" stroke-width="0.6" />
<line x1="305.30" y1="84.30" x2="305.30" y2="86.80" stroke="#dbd8ed" stroke-width="0.6" />
<line x1="305.30" y1="89.00" x2="305.30" y2="91.50" stroke="#dbd8ed" stroke-width="0.6" />
<line x1="303.70" y1="84.30" x2="306.90" y2="84.30" stroke="#dbd8ed" stroke-width="0.6" />
<line x1="303.70" y1="91.50" x2="306.90" y2="91.50" stroke="#dbd8ed" stroke-width="0.6" />
<line x1="324.00" y1="32.86" x2="324.00" y2="47.50" stroke="#fafde0" stroke-width="0.6" />
<line x1="324.00" y1="65.80" x2="324.00" y2="80.44" stroke="#fafde0" stroke-width="0.6" />
<line x1="322.40" y1="32.86" x2="325.60" y2="32.86" stroke="#fafde0" stroke-width="0.6" />
<line x1="322.40" y1="80.44" x2="325.60" y2="80.44" stroke="#fafde0" stroke-width="0.6" />
<line x1="324.00" y1="58.84" x2="324.00" y2="65.80" stroke="#fbe8e3" stroke-width="0.6" />
<line x1="324.00" y1="74.50" x2="324.00" y2="81.46" stroke="#fbe8e3" stroke-width="0.6" />
<line x1="322.40" y1="58.84" x2="325.60" y2="58.84" stroke="#fbe8e3" stroke-width="0.6" />
<line x1="322.40" y1="81.46" x2="325.60" y2="81.46" stroke="#fbe8e3" stroke-width="0.6" />
<line x1="324.00" y1="78.50" x2="324.00" y2="81.00" stroke="#efdbf2" stroke-width="0.6" />
<line x1="324.00" y1="84.00" x2="324.00" y2="86.50" stroke="#efdbf2" stroke-width="0.6" />
<line x1="322.40" y1="78.50" x2="325.60" y2="78.50" stroke="#efdbf2" stroke-width="0.6" />
<line x1="322.40" y1="86.50" x2="325.60" y2="86.50" stroke="#efdbf2" stroke-width="0.6" />
<line x1="324.00" y1="87.00" x2="324.00" y2="89.50" stroke="#dbd8ed" stroke-width="0.6" />
<line x1="324.00" y1="91.50" x2="324.00" y2="94.00" stroke="#dbd8ed" stroke-width="0.6" />
<line x1="322.40" y1="87.00" x2="325.60" y2="87.00" stroke="#dbd8ed" stroke-width="0.6" />
<line x1="322.40" y1="94.00" x2="325.60" y2="94.00" stroke="#dbd8ed" stroke-width="0.6" />
<line x1="370.45" y1="73.30" x2="370.45" y2="75.80" stroke="#dbd8ed" stroke-width="0.6" />
<line x1="370.45" y1="76.60" x2="370.45" y2="79.10" stroke="#dbd8ed" stroke-width="0.6" />
<line x1="368.85" y1="73.30" x2="372.05" y2="73.30" stroke="#dbd8ed" stroke-width="0.6" />
<line x1="368.85" y1="79.10" x2="372.05" y2="79.10" stroke="#dbd8ed" stroke-width="0.6" />
<line x1="370.45" y1="71.88" x2="370.45" y2="76.60" stroke="#efdbf2" stroke-width="0.6" />
<line x1="370.45" y1="82.50" x2="370.45" y2="87.22" stroke="#efdbf2" stroke-width="0.6" />
<line x1="368.85" y1="71.88" x2="372.05" y2="71.88" stroke="#efdbf2" stroke-width="0.6" />
<line x1="368.85" y1="87.22" x2="372.05" y2="87.22" stroke="#efdbf2" stroke-width="0.6" />
<line x1="370.45" y1="79.46" x2="370.45" y2="82.50" stroke="#fbe8e3" stroke-width="0.6" />
<line x1="370.45" y1="86.30" x2="370.45" y2="89.34" stroke="#fbe8e3" stroke-width="0.6" />
<line x1="368.85" y1="79.46" x2="372.05" y2="79.46" stroke="#fbe8e3" stroke-width="0.6" />
<line x1="368.85" y1="89.34" x2="372.05" y2="89.34" stroke="#fbe8e3" stroke-width="0.6" />
<line x1="370.45" y1="77.34" x2="370.45" y2="86.30" stroke="#fafde0" stroke-width="0.6" />
<line x1="370.45" y1="97.50" x2="370.45" y2="106.46" stroke="#fafde0" stroke-width="0.6" />
<line x1="368.85" y1="77.34" x2="372.05" y2="77.34" stroke="#fafde0" stroke-width="0.6" />
<line x1="368.85" y1="106.46" x2="372.05" y2="106.46" stroke="#fafde0" stroke-width="0.6" />
<line x1="370.45" y1="95.00" x2="370.45" y2="97.50" stroke="#dbd8ed" stroke-width="0.6" />
<line x1="370.45" y1="98.70" x2="370.45" y2="101.20" stroke="#dbd8ed" stroke-width="0.6" />
<line x1="368.85" y1="95.00" x2="372.05" y2="95.00" stroke="#dbd8ed" stroke-width="0.6" />
<line x1="368.85" y1="101.20" x2="372.05" y2="101.20" stroke="#dbd8ed" stroke-width="0.6" />
<line x1="383.65" y1="69.00" x2="383.65" y2="75.00" stroke="#efdbf2" stroke-width="0.6" />
<line x1="383.65" y1="82.50" x2="383.65" y2="88.50" stroke="#efdbf2" stroke-width="0.6" />
<line x1="382.05" y1="69.00" x2="385.25" y2="69.00" stroke="#efdbf2" stroke-width="0.6" />
<line x1="382.05" y1="88.50" x2="385.25" y2="88.50" stroke="#efdbf2" stroke-width="0.6" />
<line x1="383.65" y1="80.00" x2="383.65" y2="82.50" stroke="#fbe8e3" stroke-width="0.6" />
<line x1="383.65" y1="85.00" x2="383.65" y2="87.50" stroke="#fbe8e3" stroke-width="0.6" />
<line x1="382.05" y1="80.00" x2="385.25" y2="80.00" stroke="#fbe8e3" stroke-width="0.6" />
<line x1="382.05" y1="87.50" x2="385.25" y2="87.50" stroke="#fbe8e3" stroke-width="0.6" />
<line x1="383.65" y1="77.00" x2="383.65" y2="85.00" stroke="#fafde0" stroke-width="0.6" />
<line x1="383.65" y1="95.00" x2="383.65" y2="103.00" stroke="#fafde0" stroke-width="0.6" />
<line x1="382.05" y1="77.00" x2="385.25" y2="77.00" stroke="#fafde0" stroke-width="0.6" />
<line x1="382.05" y1="103.00" x2="385.25" y2="103.00" stroke="#fafde0" stroke-width="0.6" />
<line x1="387.25" y1="72.46" x2="387.25" y2="77.50" stroke="#fbe8e3" stroke-width="0.6" />
<line x1="387.25" y1="83.80" x2="387.25" y2="88.84" stroke="#fbe8e3" stroke-width="0.6" />
<line x1="385.65" y1="72.46" x2="388.85" y2="72.46" stroke="#fbe8e3" stroke-width="0.6" />
<line x1="385.65" y1="88.84" x2="388.85" y2="88.84" stroke="#fbe8e3" stroke-width="0.6" />
<line x1="387.25" y1="75.80" x2="387.25" y2="83.80" stroke="#fafde0" stroke-width="0.6" />
<line x1="387.25" y1="93.80" x2="387.25" y2="101.80" stroke="#fafde0" stroke-width="0.6" />
<line x1="385.65" y1="75.80" x2="388.85" y2="75.80" stroke="#fafde0" stroke-width="0.6" />
<line x1="385.65" y1="101.80" x2="388.85" y2="101.80" stroke="#fafde0" stroke-width="0.6" />
<line x1="397.25" y1="65.04" x2="397.25" y2="70.80" stroke="#efdbf2" stroke-width="0.6" />
<line x1="397.25" y1="78.00" x2="397.25" y2="83.76" stroke="#efdbf2" stroke-width="0.6" />
<line x1="395.65" y1="65.04" x2="398.85" y2="65.04" stroke="#efdbf2" stroke-width="0.6" />
<line x1="395.65" y1="83.76" x2="398.85" y2="83.76" stroke="#efdbf2" stroke-width="0.6" />
<line x1="397.25" y1="75.36" x2="397.25" y2="78.00" stroke="#fbe8e3" stroke-width="0.6" />
<line x1="397.25" y1="81.30" x2="397.25" y2="83.94" stroke="#fbe8e3" stroke-width="0.6" />
<line x1="395.65" y1="75.36" x2="398.85" y2="75.36" stroke="#fbe8e3" stroke-width="0.6" />
<line x1="395.65" y1="83.94" x2="398.85" y2="83.94" stroke="#fbe8e3" stroke-width="0.6" />
<line x1="397.25" y1="77.94" x2="397.25" y2="81.30" stroke="#fafde0" stroke-width="0.6" />
<line x1="397.25" y1="85.50" x2="397.25" y2="88.86" stroke="#fafde0" stroke-width="0.6" />
<line x1="395.65" y1="77.94" x2="398.85" y2="77.94" stroke="#fafde0" stroke-width="0.6" />
<line x1="395.65" y1="88.86" x2="398.85" y2="88.86" stroke="#fafde0" stroke-width="0.6" />
<line x1="420.65" y1="42.04" x2="420.65" y2="45.80" stroke="#dbd8ed" stroke-width="0.6" />
<line x1="420.65" y1="50.50" x2="420.65" y2="54.26" stroke="#dbd8ed" stroke-width="0.6" />
<line x1="419.05" y1="42.04" x2="422.25" y2="42.04" stroke="#dbd8ed" stroke-width="0.6" />
<line x1="419.05" y1="54.26" x2="422.25" y2="54.26" stroke="#dbd8ed" stroke-width="0.6" />
<line x1="420.65" y1="50.44" x2="420.65" y2="53.80" stroke="#efdbf2" stroke-width="0.6" />
<line x1="420.65" y1="58.00" x2="420.65" y2="61.36" stroke="#efdbf2" stroke-width="0.6" />
<line x1="419.05" y1="50.44" x2="422.25" y2="50.44" stroke="#efdbf2" stroke-width="0.6" />
<line x1="419.05" y1="61.36" x2="422.25" y2="61.36" stroke="#efdbf2" stroke-width="0.6" />
<line x1="420.65" y1="60.36" x2="420.65" y2="63.00" stroke="#fbe8e3" stroke-width="0.6" />
<line x1="420.65" y1="66.30" x2="420.65" y2="68.94" stroke="#fbe8e3" stroke-width="0.6" />
<line x1="419.05" y1="60.36" x2="422.25" y2="60.36" stroke="#fbe8e3" stroke-width="0.6" />
<line x1="419.05" y1="68.94" x2="422.25" y2="68.94" stroke="#fbe8e3" stroke-width="0.6" />
<line x1="420.65" y1="63.96" x2="420.65" y2="67.00" stroke="#fafde0" stroke-width="0.6" />
<line x1="420.65" y1="70.80" x2="420.65" y2="73.84" stroke="#fafde0" stroke-width="0.6" />
<line x1="419.05" y1="63.96" x2="422.25" y2="63.96" stroke="#fafde0" stroke-width="0.6" />
<line x1="419.05" y1="73.84" x2="422.25" y2="73.84" stroke="#fafde0" stroke-width="0.6" />
<line x1="435.80" y1="37.70" x2="435.80" y2="40.50" stroke="#dbd8ed" stroke-width="0.6" />
<line x1="435.80" y1="44.00" x2="435.80" y2="46.80" stroke="#dbd8ed" stroke-width="0.6" />
<line x1="434.20" y1="37.70" x2="437.40" y2="37.70" stroke="#dbd8ed" stroke-width="0.6" />
<line x1="434.20" y1="46.80" x2="437.40" y2="46.80" stroke="#dbd8ed" stroke-width="0.6" />
<line x1="435.80" y1="45.84" x2="435.80" y2="48.80" stroke="#efdbf2" stroke-width="0.6" />
<line x1="435.80" y1="52.50" x2="435.80" y2="55.46" stroke="#efdbf2" stroke-width="0.6" />
<line x1="434.20" y1="45.84" x2="437.40" y2="45.84" stroke="#efdbf2" stroke-width="0.6" />
<line x1="434.20" y1="55.46" x2="437.40" y2="55.46" stroke="#efdbf2" stroke-width="0.6" />
<line x1="435.80" y1="56.20" x2="435.80" y2="59.00" stroke="#fbe8e3" stroke-width="0.6" />
<line x1="435.80" y1="62.50" x2="435.80" y2="65.30" stroke="#fbe8e3" stroke-width="0.6" />
<line x1="434.20" y1="56.20" x2="437.40" y2="56.20" stroke="#fbe8e3" stroke-width="0.6" />
<line x1="434.20" y1="65.30" x2="437.40" y2="65.30" stroke="#fbe8e3" stroke-width="0.6" />
<line x1="435.80" y1="61.34" x2="435.80" y2="64.30" stroke="#fafde0" stroke-width="0.6" />
<line x1="435.80" y1="68.00" x2="435.80" y2="70.96" stroke="#fafde0" stroke-width="0.6" />
<line x1="434.20" y1="61.34" x2="437.40" y2="61.34" stroke="#fafde0" stroke-width="0.6" />
<line x1="434.20" y1="70.96" x2="437.40" y2="70.96" stroke="#fafde0" stroke-width="0.6" />
<line x1="460.65" y1="34.30" x2="460.65" y2="37.50" stroke="#dbd8ed" stroke-width="0.6" />
<line x1="460.65" y1="41.50" x2="460.65" y2="44.70" stroke="#dbd8ed" stroke-width="0.6" />
<line x1="459.05" y1="34.30" x2="462.25" y2="34.30" stroke="#dbd8ed" stroke-width="0.6" />
<line x1="459.05" y1="44.70" x2="462.25" y2="44.70" stroke="#dbd8ed" stroke-width="0.6" />
<line x1="460.65" y1="44.24" x2="460.65" y2="46.80" stroke="#efdbf2" stroke-width="0.6" />
<line x1="460.65" y1="50.00" x2="460.65" y2="52.56" stroke="#efdbf2" stroke-width="0.6" />
<line x1="459.05" y1="44.24" x2="462.25" y2="44.24" stroke="#efdbf2" stroke-width="0.6" />
<line x1="459.05" y1="52.56" x2="462.25" y2="52.56" stroke="#efdbf2" stroke-width="0.6" />
<line x1="460.65" y1="54.86" x2="460.65" y2="57.50" stroke="#fbe8e3" stroke-width="0.6" />
<line x1="460.65" y1="60.80" x2="460.65" y2="63.44" stroke="#fbe8e3" stroke-width="0.6" />
<line x1="459.05" y1="54.86" x2="462.25" y2="54.86" stroke="#fbe8e3" stroke-width="0.6" />
<line x1="459.05" y1="63.44" x2="462.25" y2="63.44" stroke="#fbe8e3" stroke-width="0.6" />
<line x1="460.65" y1="59.06" x2="460.65" y2="62.50" stroke="#fafde0" stroke-width="0.6" />
<line x1="460.65" y1="66.80" x2="460.65" y2="70.24" stroke="#fafde0" stroke-width="0.6" />
<line x1="459.05" y1="59.06" x2="462.25" y2="59.06" stroke="#fafde0" stroke-width="0.6" />
<line x1="459.05" y1="70.24" x2="462.25" y2="70.24" stroke="#fafde0" stroke-width="0.6" />
<line x1="470.65" y1="33.34" x2="470.65" y2="36.30" stroke="#dbd8ed" stroke-width="0.6" />
<line x1="470.65" y1="40.00" x2="470.65" y2="42.96" stroke="#dbd8ed" stroke-width="0.6" />
<line x1="469.05" y1="33.34" x2="472.25" y2="33.34" stroke="#dbd8ed" stroke-width="0.6" />
<line x1="469.05" y1="42.96" x2="472.25" y2="42.96" stroke="#dbd8ed" stroke-width="0.6" />
<line x1="470.65" y1="41.56" x2="470.65" y2="45.00" stroke="#efdbf2" stroke-width="0.6" />
<line x1="470.65" y1="49.30" x2="470.65" y2="52.74" stroke="#efdbf2" stroke-width="0.6" />
<line x1="469.05" y1="41.56" x2="472.25" y2="41.56" stroke="#efdbf2" stroke-width="0.6" />
<line x1="469.05" y1="52.74" x2="472.25" y2="52.74" stroke="#efdbf2" stroke-width="0.6" />
<line x1="470.65" y1="53.74" x2="470.65" y2="56.30" stroke="#fbe8e3" stroke-width="0.6" />
<line x1="470.65" y1="59.50" x2="470.65" y2="62.06" stroke="#fbe8e3" stroke-width="0.6" />
<line x1="469.05" y1="53.74" x2="472.25" y2="53.74" stroke="#fbe8e3" stroke-width="0.6" />
<line x1="469.05" y1="62.06" x2="472.25" y2="62.06" stroke="#fbe8e3" stroke-width="0.6" />
<line x1="470.65" y1="58.46" x2="470.65" y2="61.50" stroke="#fafde0" stroke-width="0.6" />
<line x1="470.65" y1="65.30" x2="470.65" y2="68.34" stroke="#fafde0" stroke-width="0.6" />
<line x1="469.05" y1="58.46" x2="472.25" y2="58.46" stroke="#fafde0" stroke-width="0.6" />
<line x1="469.05" y1="68.34" x2="472.25" y2="68.34" stroke="#fafde0" stroke-width="0.6" />
<line x1="492.65" y1="26.56" x2="492.65" y2="32.00" stroke="#dbd8ed" stroke-width="0.6" />
<line x1="492.65" y1="38.80" x2="492.65" y2="44.24" stroke="#dbd8ed" stroke-width="0.6" />
<line x1="491.05" y1="26.56" x2="494.25" y2="26.56" stroke="#dbd8ed" stroke-width="0.6" />
<line x1="491.05" y1="44.24" x2="494.25" y2="44.24" stroke="#dbd8ed" stroke-width="0.6" />
<line x1="492.65" y1="37.60" x2="492.65" y2="42.00" stroke="#efdbf2" stroke-width="0.6" />
<line x1="492.65" y1="47.50" x2="492.65" y2="51.90" stroke="#efdbf2" stroke-width="0.6" />
<line x1="491.05" y1="37.60" x2="494.25" y2="37.60" stroke="#efdbf2" stroke-width="0.6" />
<line x1="491.05" y1="51.90" x2="494.25" y2="51.90" stroke="#efdbf2" stroke-width="0.6" />
<line x1="492.65" y1="50.44" x2="492.65" y2="53.80" stroke="#fbe8e3" stroke-width="0.6" />
<line x1="492.65" y1="58.00" x2="492.65" y2="61.36" stroke="#fbe8e3" stroke-width="0.6" />
<line x1="491.05" y1="50.44" x2="494.25" y2="50.44" stroke="#fbe8e3" stroke-width="0.6" />
<line x1="491.05" y1="61.36" x2="494.25" y2="61.36" stroke="#fbe8e3" stroke-width="0.6" />
<line x1="492.65" y1="56.80" x2="492.65" y2="60.00" stroke="#fafde0" stroke-width="0.6" />
<line x1="492.65" y1="64.00" x2="492.65" y2="67.20" stroke="#fafde0" stroke-width="0.6" />
<line x1="491.05" y1="56.80" x2="494.25" y2="56.80" stroke="#fafde0" stroke-width="0.6" />
<line x1="491.05" y1="67.20" x2="494.25" y2="67.20" stroke="#fafde0" stroke-width="0.6" />
<line x1="504.50" y1="26.34" x2="504.50" y2="31.30" stroke="#dbd8ed" stroke-width="0.6" />
<line x1="504.50" y1="37.50" x2="504.50" y2="42.46" stroke="#dbd8ed" stroke-width="0.6" />
<line x1="502.90" y1="26.34" x2="506.10" y2="26.34" stroke="#dbd8ed" stroke-width="0.6" />
<line x1="502.90" y1="42.46" x2="506.10" y2="42.46" stroke="#dbd8ed" stroke-width="0.6" />
<line x1="504.50" y1="36.90" x2="504.50" y2="41.30" stroke="#efdbf2" stroke-width="0.6" />
<line x1="504.50" y1="46.80" x2="504.50" y2="51.20" stroke="#efdbf2" stroke-width="0.6" />
<line x1="502.90" y1="36.90" x2="506.10" y2="36.90" stroke="#efdbf2" stroke-width="0.6" />
<line x1="502.90" y1="51.20" x2="506.10" y2="51.20" stroke="#efdbf2" stroke-width="0.6" />
<line x1="504.50" y1="49.00" x2="504.50" y2="53.00" stroke="#fbe8e3" stroke-width="0.6" />
<line x1="504.50" y1="58.00" x2="504.50" y2="62.00" stroke="#fbe8e3" stroke-width="0.6" />
<line x1="502.90" y1="49.00" x2="506.10" y2="49.00" stroke="#fbe8e3" stroke-width="0.6" />
<line x1="502.90" y1="62.00" x2="506.10" y2="62.00" stroke="#fbe8e3" stroke-width="0.6" />
<line x1="504.50" y1="55.70" x2="504.50" y2="59.30" stroke="#fafde0" stroke-width="0.6" />
<line x1="504.50" y1="63.80" x2="504.50" y2="67.40" stroke="#fafde0" stroke-width="0.6" />
<line x1="502.90" y1="55.70" x2="506.10" y2="55.70" stroke="#fafde0" stroke-width="0.6" />
<line x1="502.90" y1="67.40" x2="506.10" y2="67.40" stroke="#fafde0" stroke-width="0.6" />
<line x1="519.50" y1="25.30" x2="519.50" y2="30.50" stroke="#dbd8ed" stroke-width="0.6" />
<line x1="519.50" y1="37.00" x2="519.50" y2="42.20" stroke="#dbd8ed" stroke-width="0.6" />
<line x1="517.90" y1="25.30" x2="521.10" y2="25.30" stroke="#dbd8ed" stroke-width="0.6" />
<line x1="517.90" y1="42.20" x2="521.10" y2="42.20" stroke="#dbd8ed" stroke-width="0.6" />
<line x1="519.50" y1="34.96" x2="519.50" y2="40.00" stroke="#efdbf2" stroke-width="0.6" />
<line x1="519.50" y1="46.30" x2="519.50" y2="51.34" stroke="#efdbf2" stroke-width="0.6" />
<line x1="517.90" y1="34.96" x2="521.10" y2="34.96" stroke="#efdbf2" stroke-width="0.6" />
<line x1="517.90" y1="51.34" x2="521.10" y2="51.34" stroke="#efdbf2" stroke-width="0.6" />
<line x1="519.50" y1="48.00" x2="519.50" y2="52.00" stroke="#fbe8e3" stroke-width="0.6" />
<line x1="519.50" y1="57.00" x2="519.50" y2="61.00" stroke="#fbe8e3" stroke-width="0.6" />
<line x1="517.90" y1="48.00" x2="521.10" y2="48.00" stroke="#fbe8e3" stroke-width="0.6" />
<line x1="517.90" y1="61.00" x2="521.10" y2="61.00" stroke="#fbe8e3" stroke-width="0.6" />
<line x1="519.50" y1="54.40" x2="519.50" y2="58.00" stroke="#fafde0" stroke-width="0.6" />
<line x1="519.50" y1="62.50" x2="519.50" y2="66.10" stroke="#fafde0" stroke-width="0.6" />
<line x1="517.90" y1="54.40" x2="521.10" y2="54.40" stroke="#fafde0" stroke-width="0.6" />
<line x1="517.90" y1="66.10" x2="521.10" y2="66.10" stroke="#fafde0" stroke-width="0.6" />
<line x1="531.25" y1="24.00" x2="531.25" y2="28.80" stroke="#dbd8ed" stroke-width="0.6" />
<line x1="531.25" y1="34.80" x2="531.25" y2="39.60" stroke="#dbd8ed" stroke-width="0.6" />
<line x1="529.65" y1="24.00" x2="532.85" y2="24.00" stroke="#dbd8ed" stroke-width="0.6" />
<line x1="529.65" y1="39.60" x2="532.85" y2="39.60" stroke="#dbd8ed" stroke-width="0.6" />
<line x1="531.25" y1="34.24" x2="531.25" y2="38.80" stroke="#efdbf2" stroke-width="0.6" />
<line x1="531.25" y1="44.50" x2="531.25" y2="49.06" stroke="#efdbf2" stroke-width="0.6" />
<line x1="529.65" y1="34.24" x2="532.85" y2="34.24" stroke="#efdbf2" stroke-width="0.6" />
<line x1="529.65" y1="49.06" x2="532.85" y2="49.06" stroke="#efdbf2" stroke-width="0.6" />
<line x1="531.25" y1="47.70" x2="531.25" y2="51.30" stroke="#fbe8e3" stroke-width="0.6" />
<line x1="531.25" y1="55.80" x2="531.25" y2="59.40" stroke="#fbe8e3" stroke-width="0.6" />
<line x1="529.65" y1="47.70" x2="532.85" y2="47.70" stroke="#fbe8e3" stroke-width="0.6" />
<line x1="529.65" y1="59.40" x2="532.85" y2="59.40" stroke="#fbe8e3" stroke-width="0.6" />
<line x1="531.25" y1="54.30" x2="531.25" y2="57.50" stroke="#fafde0" stroke-width="0.6" />
<line x1="531.25" y1="61.50" x2="531.25" y2="64.70" stroke="#fafde0" stroke-width="0.6" />
<line x1="529.65" y1="54.30" x2="532.85" y2="54.30" stroke="#fafde0" stroke-width="0.6" />
<line x1="529.65" y1="64.70" x2="532.85" y2="64.70" stroke="#fafde0" stroke-width="0.6" />
<line x1="542.90" y1="25.20" x2="542.90" y2="28.80" stroke="#dbd8ed" stroke-width="0.6" />
<line x1="542.90" y1="33.30" x2="542.90" y2="36.90" stroke="#dbd8ed" stroke-width="0.6" />
<line x1="541.30" y1="25.20" x2="544.50" y2="25.20" stroke="#dbd8ed" stroke-width="0.6" />
<line x1="541.30" y1="36.90" x2="544.50" y2="36.90" stroke="#dbd8ed" stroke-width="0.6" />
<line x1="542.90" y1="34.80" x2="542.90" y2="38.80" stroke="#efdbf2" stroke-width="0.6" />
<line x1="542.90" y1="43.80" x2="542.90" y2="47.80" stroke="#efdbf2" stroke-width="0.6" />
<line x1="541.30" y1="34.80" x2="544.50" y2="34.80" stroke="#efdbf2" stroke-width="0.6" />
<line x1="541.30" y1="47.80" x2="544.50" y2="47.80" stroke="#efdbf2" stroke-width="0.6" />
<line x1="542.90" y1="47.44" x2="542.90" y2="50.80" stroke="#fbe8e3" stroke-width="0.6" />
<line x1="542.90" y1="55.00" x2="542.90" y2="58.36" stroke="#fbe8e3" stroke-width="0.6" />
<line x1="541.30" y1="47.44" x2="544.50" y2="47.44" stroke="#fbe8e3" stroke-width="0.6" />
<line x1="541.30" y1="58.36" x2="544.50" y2="58.36" stroke="#fbe8e3" stroke-width="0.6" />
<line x1="542.90" y1="54.30" x2="542.90" y2="57.50" stroke="#fafde0" stroke-width="0.6" />
<line x1="542.90" y1="61.50" x2="542.90" y2="64.70" stroke="#fafde0" stroke-width="0.6" />
<line x1="541.30" y1="54.30" x2="544.50" y2="54.30" stroke="#fafde0" stroke-width="0.6" />
<line x1="541.30" y1="64.70" x2="544.50" y2="64.70" stroke="#fafde0" stroke-width="0.6" />
<line x1="552.90" y1="26.34" x2="552.90" y2="29.30" stroke="#dbd8ed" stroke-width="0.6" />
<line x1="552.90" y1="33.00" x2="552.90" y2="35.96" stroke="#dbd8ed" stroke-width="0.6" />
<line x1="551.30" y1="26.34" x2="554.50" y2="26.34" stroke="#dbd8ed" stroke-width="0.6" />
<line x1="551.30" y1="35.96" x2="554.50" y2="35.96" stroke="#dbd8ed" stroke-width="0.6" />
<line x1="552.90" y1="36.70" x2="552.90" y2="39.50" stroke="#efdbf2" stroke-width="0.6" />
<line x1="552.90" y1="43.00" x2="552.90" y2="45.80" stroke="#efdbf2" stroke-width="0.6" />
<line x1="551.30" y1="36.70" x2="554.50" y2="36.70" stroke="#efdbf2" stroke-width="0.6" />
<line x1="551.30" y1="45.80" x2="554.50" y2="45.80" stroke="#efdbf2" stroke-width="0.6" />
<line x1="552.90" y1="49.50" x2="552.90" y2="52.00" stroke="#fbe8e3" stroke-width="0.6" />
<line x1="552.90" y1="55.00" x2="552.90" y2="57.50" stroke="#fbe8e3" stroke-width="0.6" />
<line x1="551.30" y1="49.50" x2="554.50" y2="49.50" stroke="#fbe8e3" stroke-width="0.6" />
<line x1="551.30" y1="57.50" x2="554.50" y2="57.50" stroke="#fbe8e3" stroke-width="0.6" />
<line x1="552.90" y1="55.80" x2="552.90" y2="58.30" stroke="#fafde0" stroke-width="0.6" />
<line x1="552.90" y1="60.80" x2="552.90" y2="63.30" stroke="#fafde0" stroke-width="0.6" />
<line x1="551.30" y1="55.80" x2="554.50" y2="55.80" stroke="#fafde0" stroke-width="0.6" />
<line x1="551.30" y1="63.30" x2="554.50" y2="63.30" stroke="#fafde0" stroke-width="0.6" />
<line x1="561.50" y1="26.06" x2="561.50" y2="29.50" stroke="#dbd8ed" stroke-width="0.6" />
<line x1="561.50" y1="33.80" x2="561.50" y2="37.24" stroke="#dbd8ed" stroke-width="0.6" />
<line x1="559.90" y1="26.06" x2="563.10" y2="26.06" stroke="#dbd8ed" stroke-width="0.6" />
<line x1="559.90" y1="37.24" x2="563.10" y2="37.24" stroke="#dbd8ed" stroke-width="0.6" />
<line x1="561.50" y1="37.30" x2="561.50" y2="40.50" stroke="#efdbf2" stroke-width="0.6" />
<line x1="561.50" y1="44.50" x2="561.50" y2="47.70" stroke="#efdbf2" stroke-width="0.6" />
<line x1="559.90" y1="37.30" x2="563.10" y2="37.30" stroke="#efdbf2" stroke-width="0.6" />
<line x1="559.90" y1="47.70" x2="563.10" y2="47.70" stroke="#efdbf2" stroke-width="0.6" />
<line x1="561.50" y1="49.86" x2="561.50" y2="52.50" stroke="#fbe8e3" stroke-width="0.6" />
<line x1="561.50" y1="55.80" x2="561.50" y2="58.44" stroke="#fbe8e3" stroke-width="0.6" />
<line x1="559.90" y1="49.86" x2="563.10" y2="49.86" stroke="#fbe8e3" stroke-width="0.6" />
<line x1="559.90" y1="58.44" x2="563.10" y2="58.44" stroke="#fbe8e3" stroke-width="0.6" />
<line x1="561.50" y1="55.50" x2="561.50" y2="58.30" stroke="#fafde0" stroke-width="0.6" />
<line x1="561.50" y1="61.80" x2="561.50" y2="64.60" stroke="#fafde0" stroke-width="0.6" />
<line x1="559.90" y1="55.50" x2="563.10" y2="55.50" stroke="#fafde0" stroke-width="0.6" />
<line x1="559.90" y1="64.60" x2="563.10" y2="64.60" stroke="#fafde0" stroke-width="0.6" />
<line x1="580.30" y1="29.46" x2="580.30" y2="32.50" stroke="#dbd8ed" stroke-width="0.6" />
<line x1="580.30" y1="36.30" x2="580.30" y2="39.34" stroke="#dbd8ed" stroke-width="0.6" />
<line x1="578.70" y1="29.46" x2="581.90" y2="29.46" stroke="#dbd8ed" stroke-width="0.6" />
<line x1="578.70" y1="39.34" x2="581.90" y2="39.34" stroke="#dbd8ed" stroke-width="0.6" />
<line x1="580.30" y1="39.86" x2="580.30" y2="42.50" stroke="#efdbf2" stroke-width="0.6" />
<line x1="580.30" y1="45.80" x2="580.30" y2="48.44" stroke="#efdbf2" stroke-width="0.6" />
<line x1="578.70" y1="39.86" x2="581.90" y2="39.86" stroke="#efdbf2" stroke-width="0.6" />
<line x1="578.70" y1="48.44" x2="581.90" y2="48.44" stroke="#efdbf2" stroke-width="0.6" />
<line x1="580.30" y1="51.74" x2="580.30" y2="54.30" stroke="#fbe8e3" stroke-width="0.6" />
<line x1="580.30" y1="57.50" x2="580.30" y2="60.06" stroke="#fbe8e3" stroke-width="0.6" />
<line x1="578.70" y1="51.74" x2="581.90" y2="51.74" stroke="#fbe8e3" stroke-width="0.6" />
<line x1="578.70" y1="60.06" x2="581.90" y2="60.06" stroke="#fbe8e3" stroke-width="0.6" />
<line x1="580.30" y1="58.00" x2="580.30" y2="60.80" stroke="#fafde0" stroke-width="0.6" />
<line x1="580.30" y1="64.30" x2="580.30" y2="67.10" stroke="#fafde0" stroke-width="0.6" />
<line x1="578.70" y1="58.00" x2="581.90" y2="58.00" stroke="#fafde0" stroke-width="0.6" />
<line x1="578.70" y1="67.10" x2="581.90" y2="67.10" stroke="#fafde0" stroke-width="0.6" />
<line x1="586.50" y1="28.50" x2="586.50" y2="32.50" stroke="#dbd8ed" stroke-width="0.6" />
<line x1="586.50" y1="37.50" x2="586.50" y2="41.50" stroke="#dbd8ed" stroke-width="0.6" />
<line x1="584.90" y1="28.50" x2="588.10" y2="28.50" stroke="#dbd8ed" stroke-width="0.6" />
<line x1="584.90" y1="41.50" x2="588.10" y2="41.50" stroke="#dbd8ed" stroke-width="0.6" />
<line x1="586.50" y1="39.40" x2="586.50" y2="43.00" stroke="#efdbf2" stroke-width="0.6" />
<line x1="586.50" y1="47.50" x2="586.50" y2="51.10" stroke="#efdbf2" stroke-width="0.6" />
<line x1="584.90" y1="39.40" x2="588.10" y2="39.40" stroke="#efdbf2" stroke-width="0.6" />
<line x1="584.90" y1="51.10" x2="588.10" y2="51.10" stroke="#efdbf2" stroke-width="0.6" />
<line x1="586.50" y1="51.06" x2="586.50" y2="54.50" stroke="#fbe8e3" stroke-width="0.6" />
<line x1="586.50" y1="58.80" x2="586.50" y2="62.24" stroke="#fbe8e3" stroke-width="0.6" />
<line x1="584.90" y1="51.06" x2="588.10" y2="51.06" stroke="#fbe8e3" stroke-width="0.6" />
<line x1="584.90" y1="62.24" x2="588.10" y2="62.24" stroke="#fbe8e3" stroke-width="0.6" />
<line x1="586.50" y1="58.34" x2="586.50" y2="61.30" stroke="#fafde0" stroke-width="0.6" />
<line x1="586.50" y1="65.00" x2="586.50" y2="67.96" stroke="#fafde0" stroke-width="0.6" />
<line x1="584.90" y1="58.34" x2="588.10" y2="58.34" stroke="#fafde0" stroke-width="0.6" />
<line x1="584.90" y1="67.96" x2="588.10" y2="67.96" stroke="#fafde0" stroke-width="0.6" />
<line x1="594.65" y1="29.74" x2="594.65" y2="34.30" stroke="#dbd8ed" stroke-width="0.6" />
<line x1="594.65" y1="40.00" x2="594.65" y2="44.56" stroke="#dbd8ed" stroke-width="0.6" />
<line x1="593.05" y1="29.74" x2="596.25" y2="29.74" stroke="#dbd8ed" stroke-width="0.6" />
<line x1="593.05" y1="44.56" x2="596.25" y2="44.56" stroke="#dbd8ed" stroke-width="0.6" />
<line x1="594.65" y1="40.66" x2="594.65" y2="44.50" stroke="#efdbf2" stroke-width="0.6" />
<line x1="594.65" y1="49.30" x2="594.65" y2="53.14" stroke="#efdbf2" stroke-width="0.6" />
<line x1="593.05" y1="40.66" x2="596.25" y2="40.66" stroke="#efdbf2" stroke-width="0.6" />
<line x1="593.05" y1="53.14" x2="596.25" y2="53.14" stroke="#efdbf2" stroke-width="0.6" />
<line x1="594.65" y1="52.94" x2="594.65" y2="56.30" stroke="#fbe8e3" stroke-width="0.6" />
<line x1="594.65" y1="60.50" x2="594.65" y2="63.86" stroke="#fbe8e3" stroke-width="0.6" />
<line x1="593.05" y1="52.94" x2="596.25" y2="52.94" stroke="#fbe8e3" stroke-width="0.6" />
<line x1="593.05" y1="63.86" x2="596.25" y2="63.86" stroke="#fbe8e3" stroke-width="0.6" />
<line x1="594.65" y1="58.90" x2="594.65" y2="62.50" stroke="#fafde0" stroke-width="0.6" />
<line x1="594.65" y1="67.00" x2="594.65" y2="70.60" stroke="#fafde0" stroke-width="0.6" />
<line x1="593.05" y1="58.90" x2="596.25" y2="58.90" stroke="#fafde0" stroke-width="0.6" />
<line x1="593.05" y1="70.60" x2="596.25" y2="70.60" stroke="#fafde0" stroke-width="0.6" />
<line x1="606.50" y1="35.84" x2="606.50" y2="38.80" stroke="#dbd8ed" stroke-width="0.6" />
<line x1="606.50" y1="42.50" x2="606.50" y2="45.46" stroke="#dbd8ed" stroke-width="0.6" />
<line x1="604.90" y1="35.84" x2="608.10" y2="35.84" stroke="#dbd8ed" stroke-width="0.6" />
<line x1="604.90" y1="45.46" x2="608.10" y2="45.46" stroke="#dbd8ed" stroke-width="0.6" />
<line x1="606.50" y1="44.96" x2="606.50" y2="48.00" stroke="#efdbf2" stroke-width="0.6" />
<line x1="606.50" y1="51.80" x2="606.50" y2="54.84" stroke="#efdbf2" stroke-width="0.6" />
<line x1="604.90" y1="44.96" x2="608.10" y2="44.96" stroke="#efdbf2" stroke-width="0.6" />
<line x1="604.90" y1="54.84" x2="608.10" y2="54.84" stroke="#efdbf2" stroke-width="0.6" />
<line x1="606.50" y1="56.24" x2="606.50" y2="58.80" stroke="#fbe8e3" stroke-width="0.6" />
<line x1="606.50" y1="62.00" x2="606.50" y2="64.56" stroke="#fbe8e3" stroke-width="0.6" />
<line x1="604.90" y1="56.24" x2="608.10" y2="56.24" stroke="#fbe8e3" stroke-width="0.6" />
<line x1="604.90" y1="64.56" x2="608.10" y2="64.56" stroke="#fbe8e3" stroke-width="0.6" />
<line x1="606.50" y1="60.84" x2="606.50" y2="63.80" stroke="#fafde0" stroke-width="0.6" />
<line x1="606.50" y1="67.50" x2="606.50" y2="70.46" stroke="#fafde0" stroke-width="0.6" />
<line x1="604.90" y1="60.84" x2="608.10" y2="60.84" stroke="#fafde0" stroke-width="0.6" />
<line x1="604.90" y1="70.46" x2="608.10" y2="70.46" stroke="#fafde0" stroke-width="0.6" />
<line x1="623.00" y1="42.86" x2="623.00" y2="45.50" stroke="#dbd8ed" stroke-width="0.6" />
<line x1="623.00" y1="48.80" x2="623.00" y2="51.44" stroke="#dbd8ed" stroke-width="0.6" />
<line x1="621.40" y1="42.86" x2="624.60" y2="42.86" stroke="#dbd8ed" stroke-width="0.6" />
<line x1="621.40" y1="51.44" x2="624.60" y2="51.44" stroke="#dbd8ed" stroke-width="0.6" />
<line x1="623.00" y1="51.24" x2="623.00" y2="53.80" stroke="#efdbf2" stroke-width="0.6" />
<line x1="623.00" y1="57.00" x2="623.00" y2="59.56" stroke="#efdbf2" stroke-width="0.6" />
<line x1="621.40" y1="51.24" x2="624.60" y2="51.24" stroke="#efdbf2" stroke-width="0.6" />
<line x1="621.40" y1="59.56" x2="624.60" y2="59.56" stroke="#efdbf2" stroke-width="0.6" />
<line x1="623.00" y1="60.50" x2="623.00" y2="63.30" stroke="#fbe8e3" stroke-width="0.6" />
<line x1="623.00" y1="66.80" x2="623.00" y2="69.60" stroke="#fbe8e3" stroke-width="0.6" />
<line x1="621.40" y1="60.50" x2="624.60" y2="60.50" stroke="#fbe8e3" stroke-width="0.6" />
<line x1="621.40" y1="69.60" x2="624.60" y2="69.60" stroke="#fbe8e3" stroke-width="0.6" />
<line x1="623.00" y1="66.24" x2="623.00" y2="68.80" stroke="#fafde0" stroke-width="0.6" />
<line x1="623.00" y1="72.00" x2="623.00" y2="74.56" stroke="#fafde0" stroke-width="0.6" />
<line x1="621.40" y1="66.24" x2="624.60" y2="66.24" stroke="#fafde0" stroke-width="0.6" />
<line x1="621.40" y1="74.56" x2="624.60" y2="74.56" stroke="#fafde0" stroke-width="0.6" />
<line x1="641.00" y1="51.80" x2="641.00" y2="54.30" stroke="#dbd8ed" stroke-width="0.6" />
<line x1="641.00" y1="55.80" x2="641.00" y2="58.30" stroke="#dbd8ed" stroke-width="0.6" />
<line x1="639.40" y1="51.80" x2="642.60" y2="51.80" stroke="#dbd8ed" stroke-width="0.6" />
<line x1="639.40" y1="58.30" x2="642.60" y2="58.30" stroke="#dbd8ed" stroke-width="0.6" />
<line x1="641.00" y1="58.80" x2="641.00" y2="61.30" stroke="#efdbf2" stroke-width="0.6" />
<line x1="641.00" y1="63.00" x2="641.00" y2="65.50" stroke="#efdbf2" stroke-width="0.6" />
<line x1="639.40" y1="58.80" x2="642.60" y2="58.80" stroke="#efdbf2" stroke-width="0.6" />
<line x1="639.40" y1="65.50" x2="642.60" y2="65.50" stroke="#efdbf2" stroke-width="0.6" />
<line x1="641.00" y1="66.30" x2="641.00" y2="68.80" stroke="#fbe8e3" stroke-width="0.6" />
<line x1="641.00" y1="70.80" x2="641.00" y2="73.30" stroke="#fbe8e3" stroke-width="0.6" />
<line x1="639.40" y1="66.30" x2="642.60" y2="66.30" stroke="#fbe8e3" stroke-width="0.6" />
<line x1="639.40" y1="73.30" x2="642.60" y2="73.30" stroke="#fbe8e3" stroke-width="0.6" />
<line x1="641.00" y1="70.00" x2="641.00" y2="72.50" stroke="#fafde0" stroke-width="0.6" />
<line x1="641.00" y1="75.00" x2="641.00" y2="77.50" stroke="#fafde0" stroke-width="0.6" />
<line x1="639.40" y1="70.00" x2="642.60" y2="70.00" stroke="#fafde0" stroke-width="0.6" />
<line x1="639.40" y1="77.50" x2="642.60" y2="77.50" stroke="#fafde0" stroke-width="0.6" />
<line x1="659.90" y1="49.80" x2="659.90" y2="53.00" stroke="#dbd8ed" stroke-width="0.6" />
<line x1="659.90" y1="57.00" x2="659.90" y2="60.20" stroke="#dbd8ed" stroke-width="0.6" />
<line x1="658.30" y1="49.80" x2="661.50" y2="49.80" stroke="#dbd8ed" stroke-width="0.6" />
<line x1="658.30" y1="60.20" x2="661.50" y2="60.20" stroke="#dbd8ed" stroke-width="0.6" />
<line x1="659.90" y1="52.60" x2="659.90" y2="57.00" stroke="#efdbf2" stroke-width="0.6" />
<line x1="659.90" y1="62.50" x2="659.90" y2="66.90" stroke="#efdbf2" stroke-width="0.6" />
<line x1="658.30" y1="52.60" x2="661.50" y2="52.60" stroke="#efdbf2" stroke-width="0.6" />
<line x1="658.30" y1="66.90" x2="661.50" y2="66.90" stroke="#efdbf2" stroke-width="0.6" />
<line x1="659.90" y1="56.50" x2="659.90" y2="62.50" stroke="#fbe8e3" stroke-width="0.6" />
<line x1="659.90" y1="70.00" x2="659.90" y2="76.00" stroke="#fbe8e3" stroke-width="0.6" />
<line x1="658.30" y1="56.50" x2="661.50" y2="56.50" stroke="#fbe8e3" stroke-width="0.6" />
<line x1="658.30" y1="76.00" x2="661.50" y2="76.00" stroke="#fbe8e3" stroke-width="0.6" />
<line x1="659.90" y1="64.40" x2="659.90" y2="70.00" stroke="#fafde0" stroke-width="0.6" />
<line x1="659.90" y1="77.00" x2="659.90" y2="82.60" stroke="#fafde0" stroke-width="0.6" />
<line x1="658.30" y1="64.40" x2="661.50" y2="64.40" stroke="#fafde0" stroke-width="0.6" />
<line x1="658.30" y1="82.60" x2="661.50" y2="82.60" stroke="#fafde0" stroke-width="0.6" />
<line x1="382.00" y1="53.00" x2="385.20" y2="53.00" stroke="#d1cee9" stroke-width="0.6" />
<line x1="382.00" y1="56.50" x2="385.20" y2="56.50" stroke="#d1cee9" stroke-width="0.6" />
<line x1="382.00" y1="60.00" x2="385.20" y2="60.00" stroke="#d1cee9" stroke-width="0.6" />
<line x1="382.00" y1="63.50" x2="385.20" y2="63.50" stroke="#d1cee9" stroke-width="0.6" />
<line x1="382.00" y1="67.00" x2="385.20" y2="67.00" stroke="#d1cee9" stroke-width="0.6" />
<line x1="385.70" y1="61.00" x2="388.90" y2="61.00" stroke="#d1cee9" stroke-width="0.6" />
<line x1="385.70" y1="66.00" x2="388.90" y2="66.00" stroke="#d1cee9" stroke-width="0.6" />
<line x1="385.70" y1="70.50" x2="388.90" y2="70.50" stroke="#d1cee9" stroke-width="0.6" />
<line x1="395.70" y1="58.50" x2="398.90" y2="58.50" stroke="#d1cee9" stroke-width="0.6" />
<line x1="395.70" y1="63.00" x2="398.90" y2="63.00" stroke="#d1cee9" stroke-width="0.6" />
<line x1="395.70" y1="66.50" x2="398.90" y2="66.50" stroke="#d1cee9" stroke-width="0.6" />
<line x1="368.80" y1="66.00" x2="372.00" y2="66.00" stroke="#d1cee9" stroke-width="0.6" />
<line x1="383.60" y1="49.70" x2="383.60" y2="75.00" stroke="#d1cee9" stroke-width="0.6" />
<line x1="382.00" y1="49.70" x2="385.20" y2="49.70" stroke="#d1cee9" stroke-width="0.6" />
<line x1="382.00" y1="75.00" x2="385.20" y2="75.00" stroke="#d1cee9" stroke-width="0.6" />
<line x1="383.60" y1="95.00" x2="383.60" y2="100.80" stroke="#fae3dc" stroke-width="0.6" />
<line x1="382.00" y1="95.00" x2="385.20" y2="95.00" stroke="#fae3dc" stroke-width="0.6" />
<line x1="382.00" y1="100.80" x2="385.20" y2="100.80" stroke="#fae3dc" stroke-width="0.6" />
<line x1="387.30" y1="57.50" x2="387.30" y2="77.50" stroke="#d1cee9" stroke-width="0.6" />
<line x1="385.70" y1="57.50" x2="388.90" y2="57.50" stroke="#d1cee9" stroke-width="0.6" />
<line x1="385.70" y1="77.50" x2="388.90" y2="77.50" stroke="#d1cee9" stroke-width="0.6" />
<line x1="387.30" y1="93.80" x2="387.30" y2="100.80" stroke="#fae3dc" stroke-width="0.6" />
<line x1="385.70" y1="93.80" x2="388.90" y2="93.80" stroke="#fae3dc" stroke-width="0.6" />
<line x1="385.70" y1="100.80" x2="388.90" y2="100.80" stroke="#fae3dc" stroke-width="0.6" />
<line x1="397.30" y1="54.60" x2="397.30" y2="70.80" stroke="#d1cee9" stroke-width="0.6" />
<line x1="395.70" y1="54.60" x2="398.90" y2="54.60" stroke="#d1cee9" stroke-width="0.6" />
<line x1="395.70" y1="70.80" x2="398.90" y2="70.80" stroke="#d1cee9" stroke-width="0.6" />
<line x1="397.30" y1="85.50" x2="397.30" y2="100.50" stroke="#d1cee9" stroke-width="0.6" />
<line x1="395.70" y1="85.50" x2="398.90" y2="85.50" stroke="#d1cee9" stroke-width="0.6" />
<line x1="395.70" y1="100.50" x2="398.90" y2="100.50" stroke="#d1cee9" stroke-width="0.6" />
<line x1="370.40" y1="70.00" x2="370.40" y2="75.80" stroke="#d1cee9" stroke-width="0.6" />
<line x1="368.80" y1="70.00" x2="372.00" y2="70.00" stroke="#d1cee9" stroke-width="0.6" />
<line x1="368.80" y1="75.80" x2="372.00" y2="75.80" stroke="#d1cee9" stroke-width="0.6" />
<line x1="47.20" y1="52.50" x2="47.20" y2="76.20" stroke="#f9fdd8" stroke-width="0.6" />
<line x1="45.60" y1="52.50" x2="48.80" y2="52.50" stroke="#f9fdd8" stroke-width="0.6" />
<line x1="45.60" y1="76.20" x2="48.80" y2="76.20" stroke="#f9fdd8" stroke-width="0.6" />
<line x1="51.50" y1="55.00" x2="51.50" y2="74.60" stroke="#f9fdd8" stroke-width="0.6" />
<line x1="49.90" y1="55.00" x2="53.10" y2="55.00" stroke="#f9fdd8" stroke-width="0.6" />
<line x1="49.90" y1="74.60" x2="53.10" y2="74.60" stroke="#f9fdd8" stroke-width="0.6" />
<line x1="47.20" y1="92.80" x2="47.20" y2="101.00" stroke="#f9fdd8" stroke-width="0.6" />
<line x1="45.60" y1="92.80" x2="48.80" y2="92.80" stroke="#f9fdd8" stroke-width="0.6" />
<line x1="45.60" y1="101.00" x2="48.80" y2="101.00" stroke="#f9fdd8" stroke-width="0.6" />
<line x1="61.20" y1="52.00" x2="61.20" y2="68.00" stroke="#f9fdd8" stroke-width="0.6" />
<line x1="59.60" y1="52.00" x2="62.80" y2="52.00" stroke="#f9fdd8" stroke-width="0.6" />
<line x1="59.60" y1="68.00" x2="62.80" y2="68.00" stroke="#f9fdd8" stroke-width="0.6" />
<line x1="61.20" y1="88.70" x2="61.20" y2="94.00" stroke="#f9fdd8" stroke-width="0.6" />
<line x1="59.60" y1="88.70" x2="62.80" y2="88.70" stroke="#f9fdd8" stroke-width="0.6" />
<line x1="59.60" y1="94.00" x2="62.80" y2="94.00" stroke="#f9fdd8" stroke-width="0.6" />
<line x1="324.00" y1="22.00" x2="324.00" y2="47.50" stroke="#f9fdd8" stroke-width="0.6" />
<line x1="322.40" y1="22.00" x2="325.60" y2="22.00" stroke="#f9fdd8" stroke-width="0.6" />
<line x1="322.40" y1="47.50" x2="325.60" y2="47.50" stroke="#f9fdd8" stroke-width="0.6" />
<rect x="32.90" y="77.00" width="3.40" height="18.40" fill="#e2f53e" />
<line x1="32.90" y1="85.80" x2="36.30" y2="85.80" stroke="#aab82e" stroke-width="0.45" />
<rect x="32.90" y="94.60" width="3.40" height="2.40" fill="#e7714f" />
<rect x="32.90" y="96.20" width="3.40" height="2.10" fill="#9d21b0" />
<rect x="32.90" y="97.50" width="3.40" height="1.50" fill="#1b0c8f" />
<rect x="44.50" y="76.20" width="5.50" height="15.60" fill="#e2f53e" />
<line x1="44.50" y1="83.60" x2="50.00" y2="83.60" stroke="#aab82e" stroke-width="0.45" />
<rect x="44.50" y="91.00" width="5.50" height="1.80" fill="#e7714f" />
<rect x="44.50" y="92.00" width="5.50" height="0.80" fill="#9d21b0" />
<rect x="48.80" y="74.60" width="5.50" height="15.20" fill="#e2f53e" />
<line x1="48.80" y1="81.80" x2="54.30" y2="81.80" stroke="#aab82e" stroke-width="0.45" />
<rect x="48.80" y="89.00" width="5.50" height="1.60" fill="#e7714f" />
<rect x="58.00" y="68.00" width="6.50" height="12.40" fill="#e2f53e" />
<line x1="58.00" y1="73.80" x2="64.50" y2="73.80" stroke="#aab82e" stroke-width="0.45" />
<rect x="58.00" y="79.60" width="6.50" height="1.40" fill="#e7714f" />
<rect x="58.00" y="80.20" width="6.50" height="1.10" fill="#9d21b0" />
<rect x="58.00" y="86.30" width="6.50" height="2.40" fill="#1b0c8f" />
<line x1="58.00" y1="87.50" x2="64.50" y2="87.50" stroke="#14096b" stroke-width="0.45" />
<rect x="81.30" y="49.50" width="6.70" height="4.20" fill="#e2f53e" />
<line x1="81.30" y1="51.60" x2="88.00" y2="51.60" stroke="#aab82e" stroke-width="0.45" />
<rect x="81.30" y="57.00" width="6.70" height="2.50" fill="#e7714f" />
<line x1="81.30" y1="58.25" x2="88.00" y2="58.25" stroke="#ad553b" stroke-width="0.45" />
<rect x="81.30" y="67.30" width="6.70" height="2.50" fill="#9d21b0" />
<line x1="81.30" y1="68.55" x2="88.00" y2="68.55" stroke="#761984" stroke-width="0.45" />
<rect x="81.30" y="82.50" width="6.70" height="3.00" fill="#1b0c8f" />
<line x1="81.30" y1="84.00" x2="88.00" y2="84.00" stroke="#14096b" stroke-width="0.45" />
<rect x="96.30" y="44.30" width="7.00" height="3.50" fill="#e2f53e" />
<line x1="96.30" y1="46.05" x2="103.30" y2="46.05" stroke="#aab82e" stroke-width="0.45" />
<rect x="96.30" y="54.50" width="7.00" height="2.50" fill="#e7714f" />
<line x1="96.30" y1="55.75" x2="103.30" y2="55.75" stroke="#ad553b" stroke-width="0.45" />
<rect x="96.30" y="65.80" width="7.00" height="2.70" fill="#9d21b0" />
<line x1="96.30" y1="67.15" x2="103.30" y2="67.15" stroke="#761984" stroke-width="0.45" />
<rect x="96.30" y="81.30" width="7.00" height="3.50" fill="#1b0c8f" />
<line x1="96.30" y1="83.05" x2="103.30" y2="83.05" stroke="#14096b" stroke-width="0.45" />
<rect x="121.80" y="41.80" width="6.20" height="3.50" fill="#e2f53e" />
<line x1="121.80" y1="43.55" x2="128.00" y2="43.55" stroke="#aab82e" stroke-width="0.45" />
<rect x="121.80" y="52.50" width="6.20" height="3.00" fill="#e7714f" />
<line x1="121.80" y1="54.00" x2="128.00" y2="54.00" stroke="#ad553b" stroke-width="0.45" />
<rect x="121.80" y="63.80" width="6.20" height="3.70" fill="#9d21b0" />
<line x1="121.80" y1="65.65" x2="128.00" y2="65.65" stroke="#761984" stroke-width="0.45" />
<rect x="121.80" y="78.50" width="6.20" height="4.00" fill="#1b0c8f" />
<line x1="121.80" y1="80.50" x2="128.00" y2="80.50" stroke="#14096b" stroke-width="0.45" />
<rect x="131.30" y="40.00" width="6.70" height="3.80" fill="#e2f53e" />
<line x1="131.30" y1="41.90" x2="138.00" y2="41.90" stroke="#aab82e" stroke-width="0.45" />
<rect x="131.30" y="51.30" width="6.70" height="3.50" fill="#e7714f" />
<line x1="131.30" y1="53.05" x2="138.00" y2="53.05" stroke="#ad553b" stroke-width="0.45" />
<rect x="131.30" y="62.00" width="6.70" height="4.50" fill="#9d21b0" />
<line x1="131.30" y1="64.25" x2="138.00" y2="64.25" stroke="#761984" stroke-width="0.45" />
<rect x="131.30" y="76.30" width="6.70" height="4.70" fill="#1b0c8f" />
<line x1="131.30" y1="78.65" x2="138.00" y2="78.65" stroke="#14096b" stroke-width="0.45" />
<rect x="153.30" y="37.50" width="7.20" height="5.00" fill="#e2f53e" />
<line x1="153.30" y1="40.00" x2="160.50" y2="40.00" stroke="#aab82e" stroke-width="0.45" />
<rect x="153.30" y="48.30" width="7.20" height="5.00" fill="#e7714f" />
<line x1="153.30" y1="50.80" x2="160.50" y2="50.80" stroke="#ad553b" stroke-width="0.45" />
<rect x="153.30" y="60.00" width="7.20" height="5.50" fill="#9d21b0" />
<line x1="153.30" y1="62.75" x2="160.50" y2="62.75" stroke="#761984" stroke-width="0.45" />
<rect x="153.30" y="73.80" width="7.20" height="6.20" fill="#1b0c8f" />
<line x1="153.30" y1="76.90" x2="160.50" y2="76.90" stroke="#14096b" stroke-width="0.45" />
<rect x="165.00" y="36.50" width="7.00" height="5.50" fill="#e2f53e" />
<line x1="165.00" y1="39.25" x2="172.00" y2="39.25" stroke="#aab82e" stroke-width="0.45" />
<rect x="165.00" y="47.00" width="7.00" height="6.30" fill="#e7714f" />
<line x1="165.00" y1="50.15" x2="172.00" y2="50.15" stroke="#ad553b" stroke-width="0.45" />
<rect x="165.00" y="58.50" width="7.00" height="6.50" fill="#9d21b0" />
<line x1="165.00" y1="61.75" x2="172.00" y2="61.75" stroke="#761984" stroke-width="0.45" />
<rect x="165.00" y="72.00" width="7.00" height="8.00" fill="#1b0c8f" />
<line x1="165.00" y1="76.00" x2="172.00" y2="76.00" stroke="#14096b" stroke-width="0.45" />
<rect x="180.00" y="36.80" width="7.00" height="5.00" fill="#e2f53e" />
<line x1="180.00" y1="39.30" x2="187.00" y2="39.30" stroke="#aab82e" stroke-width="0.45" />
<rect x="180.00" y="46.50" width="7.00" height="5.30" fill="#e7714f" />
<line x1="180.00" y1="49.15" x2="187.00" y2="49.15" stroke="#ad553b" stroke-width="0.45" />
<rect x="180.00" y="57.50" width="7.00" height="6.30" fill="#9d21b0" />
<line x1="180.00" y1="60.65" x2="187.00" y2="60.65" stroke="#761984" stroke-width="0.45" />
<rect x="180.00" y="70.80" width="7.00" height="8.00" fill="#1b0c8f" />
<line x1="180.00" y1="74.80" x2="187.00" y2="74.80" stroke="#14096b" stroke-width="0.45" />
<rect x="191.80" y="35.50" width="7.00" height="5.50" fill="#e2f53e" />
<line x1="191.80" y1="38.25" x2="198.80" y2="38.25" stroke="#aab82e" stroke-width="0.45" />
<rect x="191.80" y="46.30" width="7.00" height="5.70" fill="#e7714f" />
<line x1="191.80" y1="49.15" x2="198.80" y2="49.15" stroke="#ad553b" stroke-width="0.45" />
<rect x="191.80" y="57.50" width="7.00" height="6.50" fill="#9d21b0" />
<line x1="191.80" y1="60.75" x2="198.80" y2="60.75" stroke="#761984" stroke-width="0.45" />
<rect x="191.80" y="70.50" width="7.00" height="8.30" fill="#1b0c8f" />
<line x1="191.80" y1="74.65" x2="198.80" y2="74.65" stroke="#14096b" stroke-width="0.45" />
<rect x="203.30" y="35.50" width="6.70" height="5.50" fill="#e2f53e" />
<line x1="203.30" y1="38.25" x2="210.00" y2="38.25" stroke="#aab82e" stroke-width="0.45" />
<rect x="203.30" y="46.30" width="6.70" height="5.50" fill="#e7714f" />
<line x1="203.30" y1="49.05" x2="210.00" y2="49.05" stroke="#ad553b" stroke-width="0.45" />
<rect x="203.30" y="57.50" width="6.70" height="6.30" fill="#9d21b0" />
<line x1="203.30" y1="60.65" x2="210.00" y2="60.65" stroke="#761984" stroke-width="0.45" />
<rect x="203.30" y="70.50" width="6.70" height="7.50" fill="#1b0c8f" />
<line x1="203.30" y1="74.25" x2="210.00" y2="74.25" stroke="#14096b" stroke-width="0.45" />
<rect x="213.80" y="37.50" width="6.20" height="3.30" fill="#e2f53e" />
<line x1="213.80" y1="39.15" x2="220.00" y2="39.15" stroke="#aab82e" stroke-width="0.45" />
<rect x="213.80" y="47.00" width="6.20" height="3.50" fill="#e7714f" />
<line x1="213.80" y1="48.75" x2="220.00" y2="48.75" stroke="#ad553b" stroke-width="0.45" />
<rect x="213.80" y="58.80" width="6.20" height="3.70" fill="#9d21b0" />
<line x1="213.80" y1="60.65" x2="220.00" y2="60.65" stroke="#761984" stroke-width="0.45" />
<rect x="213.80" y="72.00" width="6.20" height="5.00" fill="#1b0c8f" />
<line x1="213.80" y1="74.50" x2="220.00" y2="74.50" stroke="#14096b" stroke-width="0.45" />
<rect x="222.00" y="37.50" width="7.00" height="4.50" fill="#e2f53e" />
<line x1="222.00" y1="39.75" x2="229.00" y2="39.75" stroke="#aab82e" stroke-width="0.45" />
<rect x="222.00" y="47.50" width="7.00" height="5.50" fill="#e7714f" />
<line x1="222.00" y1="50.25" x2="229.00" y2="50.25" stroke="#ad553b" stroke-width="0.45" />
<rect x="222.00" y="58.00" width="7.00" height="5.00" fill="#9d21b0" />
<line x1="222.00" y1="60.50" x2="229.00" y2="60.50" stroke="#761984" stroke-width="0.45" />
<rect x="222.00" y="72.00" width="7.00" height="6.00" fill="#1b0c8f" />
<line x1="222.00" y1="75.00" x2="229.00" y2="75.00" stroke="#14096b" stroke-width="0.45" />
<rect x="240.50" y="41.30" width="7.00" height="3.00" fill="#e2f53e" />
<line x1="240.50" y1="42.80" x2="247.50" y2="42.80" stroke="#aab82e" stroke-width="0.45" />
<rect x="240.50" y="51.50" width="7.00" height="2.50" fill="#e7714f" />
<line x1="240.50" y1="52.75" x2="247.50" y2="52.75" stroke="#ad553b" stroke-width="0.45" />
<rect x="240.50" y="62.00" width="7.00" height="3.00" fill="#9d21b0" />
<line x1="240.50" y1="63.50" x2="247.50" y2="63.50" stroke="#761984" stroke-width="0.45" />
<rect x="240.50" y="73.80" width="7.00" height="4.70" fill="#1b0c8f" />
<line x1="240.50" y1="76.15" x2="247.50" y2="76.15" stroke="#14096b" stroke-width="0.45" />
<rect x="247.00" y="42.00" width="6.80" height="4.30" fill="#e2f53e" />
<line x1="247.00" y1="44.15" x2="253.80" y2="44.15" stroke="#aab82e" stroke-width="0.45" />
<rect x="247.00" y="52.00" width="6.80" height="3.80" fill="#e7714f" />
<line x1="247.00" y1="53.90" x2="253.80" y2="53.90" stroke="#ad553b" stroke-width="0.45" />
<rect x="247.00" y="63.00" width="6.80" height="3.30" fill="#9d21b0" />
<line x1="247.00" y1="64.65" x2="253.80" y2="64.65" stroke="#761984" stroke-width="0.45" />
<rect x="247.00" y="75.00" width="6.80" height="3.80" fill="#1b0c8f" />
<line x1="247.00" y1="76.90" x2="253.80" y2="76.90" stroke="#14096b" stroke-width="0.45" />
<rect x="255.50" y="43.80" width="7.00" height="4.20" fill="#e2f53e" />
<line x1="255.50" y1="45.90" x2="262.50" y2="45.90" stroke="#aab82e" stroke-width="0.45" />
<rect x="255.50" y="52.50" width="7.00" height="5.00" fill="#e7714f" />
<line x1="255.50" y1="55.00" x2="262.50" y2="55.00" stroke="#ad553b" stroke-width="0.45" />
<rect x="255.50" y="63.30" width="7.00" height="4.70" fill="#9d21b0" />
<line x1="255.50" y1="65.65" x2="262.50" y2="65.65" stroke="#761984" stroke-width="0.45" />
<rect x="255.50" y="77.00" width="7.00" height="3.50" fill="#1b0c8f" />
<line x1="255.50" y1="78.75" x2="262.50" y2="78.75" stroke="#14096b" stroke-width="0.45" />
<rect x="267.00" y="47.00" width="6.80" height="4.50" fill="#e2f53e" />
<line x1="267.00" y1="49.25" x2="273.80" y2="49.25" stroke="#aab82e" stroke-width="0.45" />
<rect x="267.00" y="56.80" width="6.80" height="3.70" fill="#e7714f" />
<line x1="267.00" y1="58.65" x2="273.80" y2="58.65" stroke="#ad553b" stroke-width="0.45" />
<rect x="267.00" y="66.00" width="6.80" height="4.00" fill="#9d21b0" />
<line x1="267.00" y1="68.00" x2="273.80" y2="68.00" stroke="#761984" stroke-width="0.45" />
<rect x="267.00" y="78.30" width="6.80" height="4.70" fill="#1b0c8f" />
<line x1="267.00" y1="80.65" x2="273.80" y2="80.65" stroke="#14096b" stroke-width="0.45" />
<rect x="284.00" y="53.30" width="7.00" height="3.20" fill="#e2f53e" />
<line x1="284.00" y1="54.90" x2="291.00" y2="54.90" stroke="#aab82e" stroke-width="0.45" />
<rect x="284.00" y="63.00" width="7.00" height="2.80" fill="#e7714f" />
<line x1="284.00" y1="64.40" x2="291.00" y2="64.40" stroke="#ad553b" stroke-width="0.45" />
<rect x="284.00" y="72.30" width="7.00" height="3.30" fill="#9d21b0" />
<line x1="284.00" y1="73.95" x2="291.00" y2="73.95" stroke="#761984" stroke-width="0.45" />
<rect x="284.00" y="81.80" width="7.00" height="3.00" fill="#1b0c8f" />
<line x1="284.00" y1="83.30" x2="291.00" y2="83.30" stroke="#14096b" stroke-width="0.45" />
<rect x="301.80" y="60.40" width="7.00" height="3.00" fill="#e2f53e" />
<line x1="301.80" y1="61.90" x2="308.80" y2="61.90" stroke="#aab82e" stroke-width="0.45" />
<rect x="301.80" y="70.60" width="7.00" height="1.50" fill="#e7714f" />
<rect x="301.80" y="79.20" width="7.00" height="1.80" fill="#9d21b0" />
<rect x="301.80" y="86.80" width="7.00" height="2.20" fill="#1b0c8f" />
<line x1="301.80" y1="87.90" x2="308.80" y2="87.90" stroke="#14096b" stroke-width="0.45" />
<rect x="320.50" y="47.50" width="7.00" height="19.10" fill="#e2f53e" />
<line x1="320.50" y1="56.65" x2="327.50" y2="56.65" stroke="#aab82e" stroke-width="0.45" />
<rect x="320.50" y="65.80" width="7.00" height="8.70" fill="#e7714f" />
<line x1="320.50" y1="70.15" x2="327.50" y2="70.15" stroke="#ad553b" stroke-width="0.45" />
<rect x="320.50" y="81.00" width="7.00" height="3.00" fill="#9d21b0" />
<line x1="320.50" y1="82.50" x2="327.50" y2="82.50" stroke="#761984" stroke-width="0.45" />
<rect x="320.50" y="89.50" width="7.00" height="2.00" fill="#1b0c8f" />
<rect x="368.90" y="75.80" width="3.10" height="1.60" fill="#1b0c8f" />
<rect x="368.90" y="76.60" width="3.10" height="6.70" fill="#9d21b0" />
<line x1="368.90" y1="79.55" x2="372.00" y2="79.55" stroke="#761984" stroke-width="0.45" />
<rect x="368.90" y="82.50" width="3.10" height="4.60" fill="#e7714f" />
<line x1="368.90" y1="84.40" x2="372.00" y2="84.40" stroke="#ad553b" stroke-width="0.45" />
<rect x="368.90" y="86.30" width="3.10" height="12.00" fill="#e2f53e" />
<line x1="368.90" y1="91.90" x2="372.00" y2="91.90" stroke="#aab82e" stroke-width="0.45" />
<rect x="368.90" y="97.50" width="3.10" height="1.20" fill="#1b0c8f" />
<rect x="380.30" y="75.00" width="6.70" height="8.30" fill="#9d21b0" />
<line x1="380.30" y1="78.75" x2="387.00" y2="78.75" stroke="#761984" stroke-width="0.45" />
<rect x="380.30" y="82.50" width="6.70" height="3.30" fill="#e7714f" />
<line x1="380.30" y1="83.75" x2="387.00" y2="83.75" stroke="#ad553b" stroke-width="0.45" />
<rect x="380.30" y="85.00" width="6.70" height="10.00" fill="#e2f53e" />
<line x1="380.30" y1="90.00" x2="387.00" y2="90.00" stroke="#aab82e" stroke-width="0.45" />
<rect x="384.00" y="77.50" width="6.50" height="7.10" fill="#e7714f" />
<line x1="384.00" y1="80.65" x2="390.50" y2="80.65" stroke="#ad553b" stroke-width="0.45" />
<rect x="384.00" y="83.80" width="6.50" height="10.00" fill="#e2f53e" />
<line x1="384.00" y1="88.80" x2="390.50" y2="88.80" stroke="#aab82e" stroke-width="0.45" />
<rect x="394.00" y="70.80" width="6.50" height="8.00" fill="#9d21b0" />
<line x1="394.00" y1="74.40" x2="400.50" y2="74.40" stroke="#761984" stroke-width="0.45" />
<rect x="394.00" y="78.00" width="6.50" height="4.10" fill="#e7714f" />
<line x1="394.00" y1="79.65" x2="400.50" y2="79.65" stroke="#ad553b" stroke-width="0.45" />
<rect x="394.00" y="81.30" width="6.50" height="4.20" fill="#e2f53e" />
<line x1="394.00" y1="83.40" x2="400.50" y2="83.40" stroke="#aab82e" stroke-width="0.45" />
<rect x="417.30" y="45.80" width="6.70" height="4.70" fill="#1b0c8f" />
<line x1="417.30" y1="48.15" x2="424.00" y2="48.15" stroke="#14096b" stroke-width="0.45" />
<rect x="417.30" y="53.80" width="6.70" height="4.20" fill="#9d21b0" />
<line x1="417.30" y1="55.90" x2="424.00" y2="55.90" stroke="#761984" stroke-width="0.45" />
<rect x="417.30" y="63.00" width="6.70" height="3.30" fill="#e7714f" />
<line x1="417.30" y1="64.65" x2="424.00" y2="64.65" stroke="#ad553b" stroke-width="0.45" />
<rect x="417.30" y="67.00" width="6.70" height="3.80" fill="#e2f53e" />
<line x1="417.30" y1="68.90" x2="424.00" y2="68.90" stroke="#aab82e" stroke-width="0.45" />
<rect x="432.30" y="40.50" width="7.00" height="3.50" fill="#1b0c8f" />
<line x1="432.30" y1="42.25" x2="439.30" y2="42.25" stroke="#14096b" stroke-width="0.45" />
<rect x="432.30" y="48.80" width="7.00" height="3.70" fill="#9d21b0" />
<line x1="432.30" y1="50.65" x2="439.30" y2="50.65" stroke="#761984" stroke-width="0.45" />
<rect x="432.30" y="59.00" width="7.00" height="3.50" fill="#e7714f" />
<line x1="432.30" y1="60.75" x2="439.30" y2="60.75" stroke="#ad553b" stroke-width="0.45" />
<rect x="432.30" y="64.30" width="7.00" height="3.70" fill="#e2f53e" />
<line x1="432.30" y1="66.15" x2="439.30" y2="66.15" stroke="#aab82e" stroke-width="0.45" />
<rect x="457.30" y="37.50" width="6.70" height="4.00" fill="#1b0c8f" />
<line x1="457.30" y1="39.50" x2="464.00" y2="39.50" stroke="#14096b" stroke-width="0.45" />
<rect x="457.30" y="46.80" width="6.70" height="3.20" fill="#9d21b0" />
<line x1="457.30" y1="48.40" x2="464.00" y2="48.40" stroke="#761984" stroke-width="0.45" />
<rect x="457.30" y="57.50" width="6.70" height="3.30" fill="#e7714f" />
<line x1="457.30" y1="59.15" x2="464.00" y2="59.15" stroke="#ad553b" stroke-width="0.45" />
<rect x="457.30" y="62.50" width="6.70" height="4.30" fill="#e2f53e" />
<line x1="457.30" y1="64.65" x2="464.00" y2="64.65" stroke="#aab82e" stroke-width="0.45" />
<rect x="467.30" y="36.30" width="6.70" height="3.70" fill="#1b0c8f" />
<line x1="467.30" y1="38.15" x2="474.00" y2="38.15" stroke="#14096b" stroke-width="0.45" />
<rect x="467.30" y="45.00" width="6.70" height="4.30" fill="#9d21b0" />
<line x1="467.30" y1="47.15" x2="474.00" y2="47.15" stroke="#761984" stroke-width="0.45" />
<rect x="467.30" y="56.30" width="6.70" height="3.20" fill="#e7714f" />
<line x1="467.30" y1="57.90" x2="474.00" y2="57.90" stroke="#ad553b" stroke-width="0.45" />
<rect x="467.30" y="61.50" width="6.70" height="3.80" fill="#e2f53e" />
<line x1="467.30" y1="63.40" x2="474.00" y2="63.40" stroke="#aab82e" stroke-width="0.45" />
<rect x="489.30" y="32.00" width="6.70" height="6.80" fill="#1b0c8f" />
<line x1="489.30" y1="35.40" x2="496.00" y2="35.40" stroke="#14096b" stroke-width="0.45" />
<rect x="489.30" y="42.00" width="6.70" height="5.50" fill="#9d21b0" />
<line x1="489.30" y1="44.75" x2="496.00" y2="44.75" stroke="#761984" stroke-width="0.45" />
<rect x="489.30" y="53.80" width="6.70" height="4.20" fill="#e7714f" />
<line x1="489.30" y1="55.90" x2="496.00" y2="55.90" stroke="#ad553b" stroke-width="0.45" />
<rect x="489.30" y="60.00" width="6.70" height="4.00" fill="#e2f53e" />
<line x1="489.30" y1="62.00" x2="496.00" y2="62.00" stroke="#aab82e" stroke-width="0.45" />
<rect x="501.00" y="31.30" width="7.00" height="6.20" fill="#1b0c8f" />
<line x1="501.00" y1="34.40" x2="508.00" y2="34.40" stroke="#14096b" stroke-width="0.45" />
<rect x="501.00" y="41.30" width="7.00" height="5.50" fill="#9d21b0" />
<line x1="501.00" y1="44.05" x2="508.00" y2="44.05" stroke="#761984" stroke-width="0.45" />
<rect x="501.00" y="53.00" width="7.00" height="5.00" fill="#e7714f" />
<line x1="501.00" y1="55.50" x2="508.00" y2="55.50" stroke="#ad553b" stroke-width="0.45" />
<rect x="501.00" y="59.30" width="7.00" height="4.50" fill="#e2f53e" />
<line x1="501.00" y1="61.55" x2="508.00" y2="61.55" stroke="#aab82e" stroke-width="0.45" />
<rect x="516.00" y="30.50" width="7.00" height="6.50" fill="#1b0c8f" />
<line x1="516.00" y1="33.75" x2="523.00" y2="33.75" stroke="#14096b" stroke-width="0.45" />
<rect x="516.00" y="40.00" width="7.00" height="6.30" fill="#9d21b0" />
<line x1="516.00" y1="43.15" x2="523.00" y2="43.15" stroke="#761984" stroke-width="0.45" />
<rect x="516.00" y="52.00" width="7.00" height="5.00" fill="#e7714f" />
<line x1="516.00" y1="54.50" x2="523.00" y2="54.50" stroke="#ad553b" stroke-width="0.45" />
<rect x="516.00" y="58.00" width="7.00" height="4.50" fill="#e2f53e" />
<line x1="516.00" y1="60.25" x2="523.00" y2="60.25" stroke="#aab82e" stroke-width="0.45" />
<rect x="528.00" y="28.80" width="6.50" height="6.00" fill="#1b0c8f" />
<line x1="528.00" y1="31.80" x2="534.50" y2="31.80" stroke="#14096b" stroke-width="0.45" />
<rect x="528.00" y="38.80" width="6.50" height="5.70" fill="#9d21b0" />
<line x1="528.00" y1="41.65" x2="534.50" y2="41.65" stroke="#761984" stroke-width="0.45" />
<rect x="528.00" y="51.30" width="6.50" height="4.50" fill="#e7714f" />
<line x1="528.00" y1="53.55" x2="534.50" y2="53.55" stroke="#ad553b" stroke-width="0.45" />
<rect x="528.00" y="57.50" width="6.50" height="4.00" fill="#e2f53e" />
<line x1="528.00" y1="59.50" x2="534.50" y2="59.50" stroke="#aab82e" stroke-width="0.45" />
<rect x="539.50" y="28.80" width="6.80" height="4.50" fill="#1b0c8f" />
<line x1="539.50" y1="31.05" x2="546.30" y2="31.05" stroke="#14096b" stroke-width="0.45" />
<rect x="539.50" y="38.80" width="6.80" height="5.00" fill="#9d21b0" />
<line x1="539.50" y1="41.30" x2="546.30" y2="41.30" stroke="#761984" stroke-width="0.45" />
<rect x="539.50" y="50.80" width="6.80" height="4.20" fill="#e7714f" />
<line x1="539.50" y1="52.90" x2="546.30" y2="52.90" stroke="#ad553b" stroke-width="0.45" />
<rect x="539.50" y="57.50" width="6.80" height="4.00" fill="#e2f53e" />
<line x1="539.50" y1="59.50" x2="546.30" y2="59.50" stroke="#aab82e" stroke-width="0.45" />
<rect x="549.50" y="29.30" width="6.80" height="3.70" fill="#1b0c8f" />
<line x1="549.50" y1="31.15" x2="556.30" y2="31.15" stroke="#14096b" stroke-width="0.45" />
<rect x="549.50" y="39.50" width="6.80" height="3.50" fill="#9d21b0" />
<line x1="549.50" y1="41.25" x2="556.30" y2="41.25" stroke="#761984" stroke-width="0.45" />
<rect x="549.50" y="52.00" width="6.80" height="3.00" fill="#e7714f" />
<line x1="549.50" y1="53.50" x2="556.30" y2="53.50" stroke="#ad553b" stroke-width="0.45" />
<rect x="549.50" y="58.30" width="6.80" height="2.50" fill="#e2f53e" />
<line x1="549.50" y1="59.55" x2="556.30" y2="59.55" stroke="#aab82e" stroke-width="0.45" />
<rect x="558.00" y="29.50" width="7.00" height="4.30" fill="#1b0c8f" />
<line x1="558.00" y1="31.65" x2="565.00" y2="31.65" stroke="#14096b" stroke-width="0.45" />
<rect x="558.00" y="40.50" width="7.00" height="4.00" fill="#9d21b0" />
<line x1="558.00" y1="42.50" x2="565.00" y2="42.50" stroke="#761984" stroke-width="0.45" />
<rect x="558.00" y="52.50" width="7.00" height="3.30" fill="#e7714f" />
<line x1="558.00" y1="54.15" x2="565.00" y2="54.15" stroke="#ad553b" stroke-width="0.45" />
<rect x="558.00" y="58.30" width="7.00" height="3.50" fill="#e2f53e" />
<line x1="558.00" y1="60.05" x2="565.00" y2="60.05" stroke="#aab82e" stroke-width="0.45" />
<rect x="576.80" y="32.50" width="7.00" height="3.80" fill="#1b0c8f" />
<line x1="576.80" y1="34.40" x2="583.80" y2="34.40" stroke="#14096b" stroke-width="0.45" />
<rect x="576.80" y="42.50" width="7.00" height="3.30" fill="#9d21b0" />
<line x1="576.80" y1="44.15" x2="583.80" y2="44.15" stroke="#761984" stroke-width="0.45" />
<rect x="576.80" y="54.30" width="7.00" height="3.20" fill="#e7714f" />
<line x1="576.80" y1="55.90" x2="583.80" y2="55.90" stroke="#ad553b" stroke-width="0.45" />
<rect x="576.80" y="60.80" width="7.00" height="3.50" fill="#e2f53e" />
<line x1="576.80" y1="62.55" x2="583.80" y2="62.55" stroke="#aab82e" stroke-width="0.45" />
<rect x="583.00" y="32.50" width="7.00" height="5.00" fill="#1b0c8f" />
<line x1="583.00" y1="35.00" x2="590.00" y2="35.00" stroke="#14096b" stroke-width="0.45" />
<rect x="583.00" y="43.00" width="7.00" height="4.50" fill="#9d21b0" />
<line x1="583.00" y1="45.25" x2="590.00" y2="45.25" stroke="#761984" stroke-width="0.45" />
<rect x="583.00" y="54.50" width="7.00" height="4.30" fill="#e7714f" />
<line x1="583.00" y1="56.65" x2="590.00" y2="56.65" stroke="#ad553b" stroke-width="0.45" />
<rect x="583.00" y="61.30" width="7.00" height="3.70" fill="#e2f53e" />
<line x1="583.00" y1="63.15" x2="590.00" y2="63.15" stroke="#aab82e" stroke-width="0.45" />
<rect x="591.30" y="34.30" width="6.70" height="5.70" fill="#1b0c8f" />
<line x1="591.30" y1="37.15" x2="598.00" y2="37.15" stroke="#14096b" stroke-width="0.45" />
<rect x="591.30" y="44.50" width="6.70" height="4.80" fill="#9d21b0" />
<line x1="591.30" y1="46.90" x2="598.00" y2="46.90" stroke="#761984" stroke-width="0.45" />
<rect x="591.30" y="56.30" width="6.70" height="4.20" fill="#e7714f" />
<line x1="591.30" y1="58.40" x2="598.00" y2="58.40" stroke="#ad553b" stroke-width="0.45" />
<rect x="591.30" y="62.50" width="6.70" height="4.50" fill="#e2f53e" />
<line x1="591.30" y1="64.75" x2="598.00" y2="64.75" stroke="#aab82e" stroke-width="0.45" />
<rect x="603.00" y="38.80" width="7.00" height="3.70" fill="#1b0c8f" />
<line x1="603.00" y1="40.65" x2="610.00" y2="40.65" stroke="#14096b" stroke-width="0.45" />
<rect x="603.00" y="48.00" width="7.00" height="3.80" fill="#9d21b0" />
<line x1="603.00" y1="49.90" x2="610.00" y2="49.90" stroke="#761984" stroke-width="0.45" />
<rect x="603.00" y="58.80" width="7.00" height="3.20" fill="#e7714f" />
<line x1="603.00" y1="60.40" x2="610.00" y2="60.40" stroke="#ad553b" stroke-width="0.45" />
<rect x="603.00" y="63.80" width="7.00" height="3.70" fill="#e2f53e" />
<line x1="603.00" y1="65.65" x2="610.00" y2="65.65" stroke="#aab82e" stroke-width="0.45" />
<rect x="619.50" y="45.50" width="7.00" height="3.30" fill="#1b0c8f" />
<line x1="619.50" y1="47.15" x2="626.50" y2="47.15" stroke="#14096b" stroke-width="0.45" />
<rect x="619.50" y="53.80" width="7.00" height="3.20" fill="#9d21b0" />
<line x1="619.50" y1="55.40" x2="626.50" y2="55.40" stroke="#761984" stroke-width="0.45" />
<rect x="619.50" y="63.30" width="7.00" height="3.50" fill="#e7714f" />
<line x1="619.50" y1="65.05" x2="626.50" y2="65.05" stroke="#ad553b" stroke-width="0.45" />
<rect x="619.50" y="68.80" width="7.00" height="3.20" fill="#e2f53e" />
<line x1="619.50" y1="70.40" x2="626.50" y2="70.40" stroke="#aab82e" stroke-width="0.45" />
<rect x="637.50" y="54.30" width="7.00" height="1.50" fill="#1b0c8f" />
<rect x="637.50" y="61.30" width="7.00" height="1.70" fill="#9d21b0" />
<rect x="637.50" y="68.80" width="7.00" height="2.00" fill="#e7714f" />
<rect x="637.50" y="72.50" width="7.00" height="2.50" fill="#e2f53e" />
<line x1="637.50" y1="73.75" x2="644.50" y2="73.75" stroke="#aab82e" stroke-width="0.45" />
<rect x="656.80" y="53.00" width="6.20" height="4.80" fill="#1b0c8f" />
<line x1="656.80" y1="55.00" x2="663.00" y2="55.00" stroke="#14096b" stroke-width="0.45" />
<rect x="656.80" y="57.00" width="6.20" height="6.30" fill="#9d21b0" />
<line x1="656.80" y1="59.75" x2="663.00" y2="59.75" stroke="#761984" stroke-width="0.45" />
<rect x="656.80" y="62.50" width="6.20" height="8.30" fill="#e7714f" />
<line x1="656.80" y1="66.25" x2="663.00" y2="66.25" stroke="#ad553b" stroke-width="0.45" />
<rect x="656.80" y="70.00" width="6.20" height="7.00" fill="#e2f53e" />
<line x1="656.80" y1="73.50" x2="663.00" y2="73.50" stroke="#aab82e" stroke-width="0.45" />
<line x1="40.80" y1="161.30" x2="40.80" y2="238.00" stroke="#e4474c" stroke-width="0.75" stroke-dasharray="0.9 0.9"/>
<line x1="316.80" y1="168.80" x2="316.80" y2="218.00" stroke="#e4474c" stroke-width="0.75" stroke-dasharray="0.9 0.9"/>
<line x1="326.30" y1="161.30" x2="326.30" y2="238.00" stroke="#e4474c" stroke-width="0.75" stroke-dasharray="0.9 0.9"/>
<rect x="38.30" y="180.50" width="5.00" height="19.80" fill="#e2f53e" />
<rect x="38.30" y="199.50" width="5.00" height="10.50" fill="#e7714f" />
<rect x="38.30" y="211.30" width="5.00" height="17.50" fill="#9d21b0" />
<rect x="38.30" y="235.80" width="5.00" height="3.00" fill="#1b0c8f" />
<rect x="53.00" y="159.60" width="5.00" height="2.40" fill="#e2f53e" />
<rect x="53.00" y="161.20" width="5.00" height="1.90" fill="#e7714f" />
<rect x="53.00" y="162.30" width="5.00" height="2.30" fill="#9d21b0" />
<rect x="53.00" y="163.80" width="5.00" height="7.50" fill="#1b0c8f" />
<rect x="55.50" y="159.60" width="5.00" height="2.40" fill="#e2f53e" />
<rect x="55.50" y="161.20" width="5.00" height="1.90" fill="#e7714f" />
<rect x="55.50" y="162.30" width="5.00" height="2.30" fill="#9d21b0" />
<rect x="55.50" y="163.80" width="5.00" height="7.50" fill="#1b0c8f" />
<rect x="65.00" y="159.60" width="5.00" height="2.20" fill="#e2f53e" />
<rect x="65.00" y="161.00" width="5.00" height="1.80" fill="#e7714f" />
<rect x="65.00" y="162.00" width="5.00" height="3.50" fill="#9d21b0" />
<rect x="65.00" y="168.00" width="5.00" height="8.80" fill="#1b0c8f" />
<rect x="87.50" y="159.60" width="5.00" height="2.40" fill="#e2f53e" />
<rect x="87.50" y="161.20" width="5.00" height="1.90" fill="#e7714f" />
<rect x="87.50" y="162.50" width="5.00" height="3.30" fill="#9d21b0" />
<rect x="87.50" y="169.30" width="5.00" height="7.70" fill="#1b0c8f" />
<rect x="102.00" y="160.00" width="4.50" height="2.30" fill="#e2f53e" />
<rect x="102.00" y="161.50" width="4.50" height="1.00" fill="#e7714f" />
<rect x="102.00" y="163.80" width="4.50" height="3.00" fill="#9d21b0" />
<rect x="102.00" y="172.00" width="4.50" height="8.00" fill="#1b0c8f" />
<rect x="125.80" y="160.00" width="4.70" height="2.30" fill="#e2f53e" />
<rect x="125.80" y="161.50" width="4.70" height="1.30" fill="#e7714f" />
<rect x="125.80" y="163.80" width="4.70" height="3.70" fill="#9d21b0" />
<rect x="125.80" y="172.50" width="4.70" height="6.30" fill="#1b0c8f" />
<rect x="135.00" y="160.00" width="5.00" height="2.30" fill="#e2f53e" />
<rect x="135.00" y="161.50" width="5.00" height="2.10" fill="#e7714f" />
<rect x="135.00" y="163.00" width="5.00" height="4.00" fill="#9d21b0" />
<rect x="135.00" y="171.80" width="5.00" height="9.50" fill="#1b0c8f" />
<rect x="155.80" y="160.00" width="5.00" height="2.30" fill="#e2f53e" />
<rect x="155.80" y="161.50" width="5.00" height="1.00" fill="#e7714f" />
<rect x="155.80" y="163.00" width="5.00" height="6.50" fill="#9d21b0" />
<rect x="155.80" y="170.80" width="5.00" height="15.00" fill="#1b0c8f" />
<rect x="167.00" y="160.00" width="5.00" height="2.10" fill="#e2f53e" />
<rect x="167.00" y="161.30" width="5.00" height="2.00" fill="#e7714f" />
<rect x="167.00" y="162.50" width="5.00" height="8.00" fill="#9d21b0" />
<rect x="167.00" y="170.80" width="5.00" height="18.00" fill="#1b0c8f" />
<rect x="180.80" y="160.00" width="5.00" height="2.30" fill="#e2f53e" />
<rect x="180.80" y="161.50" width="5.00" height="1.50" fill="#e7714f" />
<rect x="180.80" y="163.80" width="5.00" height="9.50" fill="#9d21b0" />
<rect x="180.80" y="172.50" width="5.00" height="18.00" fill="#1b0c8f" />
<rect x="192.00" y="160.50" width="5.00" height="3.30" fill="#e2f53e" />
<rect x="192.00" y="163.00" width="5.00" height="1.50" fill="#e7714f" />
<rect x="192.00" y="166.30" width="5.00" height="8.20" fill="#9d21b0" />
<rect x="192.00" y="178.30" width="5.00" height="13.50" fill="#1b0c8f" />
<rect x="203.30" y="163.00" width="5.00" height="2.50" fill="#e7714f" />
<rect x="203.30" y="170.00" width="5.00" height="7.50" fill="#9d21b0" />
<rect x="203.30" y="185.80" width="5.00" height="9.70" fill="#1b0c8f" />
<rect x="213.00" y="163.80" width="4.50" height="3.70" fill="#e7714f" />
<rect x="213.00" y="172.50" width="4.50" height="5.00" fill="#9d21b0" />
<rect x="213.00" y="196.30" width="4.50" height="11.00" fill="#1b0c8f" />
<rect x="220.80" y="160.50" width="4.70" height="3.30" fill="#e2f53e" />
<rect x="220.80" y="163.00" width="4.70" height="1.50" fill="#e7714f" />
<rect x="220.80" y="167.00" width="4.70" height="6.80" fill="#9d21b0" />
<rect x="220.80" y="180.00" width="4.70" height="11.80" fill="#1b0c8f" />
<rect x="238.00" y="159.60" width="5.00" height="2.50" fill="#e2f53e" />
<rect x="238.00" y="161.30" width="5.00" height="1.20" fill="#e7714f" />
<rect x="238.00" y="163.80" width="5.00" height="5.00" fill="#9d21b0" />
<rect x="238.00" y="172.50" width="5.00" height="9.30" fill="#1b0c8f" />
<rect x="244.50" y="159.60" width="5.00" height="2.20" fill="#e2f53e" />
<rect x="244.50" y="161.00" width="5.00" height="1.80" fill="#e7714f" />
<rect x="244.50" y="162.00" width="5.00" height="3.50" fill="#9d21b0" />
<rect x="244.50" y="168.00" width="5.00" height="8.30" fill="#1b0c8f" />
<rect x="252.50" y="159.60" width="5.00" height="2.50" fill="#e2f53e" />
<rect x="252.50" y="161.30" width="5.00" height="2.00" fill="#e7714f" />
<rect x="252.50" y="162.50" width="5.00" height="2.10" fill="#9d21b0" />
<rect x="252.50" y="163.80" width="5.00" height="6.70" fill="#1b0c8f" />
<rect x="263.30" y="159.60" width="5.00" height="1.70" fill="#e2f53e" />
<rect x="263.30" y="160.50" width="5.00" height="1.60" fill="#e7714f" />
<rect x="263.30" y="161.30" width="5.00" height="2.00" fill="#9d21b0" />
<rect x="263.30" y="162.50" width="5.00" height="7.00" fill="#1b0c8f" />
<rect x="279.30" y="160.00" width="5.00" height="1.80" fill="#e2f53e" />
<rect x="279.30" y="161.00" width="5.00" height="1.80" fill="#e7714f" />
<rect x="279.30" y="162.00" width="5.00" height="3.30" fill="#9d21b0" />
<rect x="279.30" y="164.50" width="5.00" height="8.00" fill="#1b0c8f" />
<rect x="296.80" y="161.30" width="5.00" height="6.50" fill="#e2f53e" />
<rect x="296.80" y="167.00" width="5.00" height="5.00" fill="#9d21b0" />
<rect x="296.80" y="178.00" width="5.00" height="8.30" fill="#1b0c8f" />
<rect x="314.30" y="177.00" width="5.00" height="6.30" fill="#e2f53e" />
<rect x="314.30" y="182.50" width="5.00" height="6.30" fill="#e7714f" />
<rect x="314.30" y="191.30" width="5.00" height="7.50" fill="#9d21b0" />
<rect x="314.30" y="204.50" width="5.00" height="5.50" fill="#1b0c8f" />
<rect x="323.80" y="180.50" width="5.00" height="19.80" fill="#e2f53e" />
<rect x="323.80" y="199.50" width="5.00" height="11.00" fill="#e7714f" />
<rect x="323.80" y="211.30" width="5.00" height="17.50" fill="#9d21b0" />
<rect x="323.80" y="235.80" width="5.00" height="3.00" fill="#1b0c8f" />
<line x1="55.50" y1="159.50" x2="55.50" y2="181.30" stroke="#e4474c" stroke-width="0.75" stroke-dasharray="0.9 0.9"/>
<path d="M54.00 160.60 h3 M55.50 159.10 v3" stroke="#e8403c" stroke-width="0.8"/>
<line x1="58.00" y1="159.50" x2="58.00" y2="181.30" stroke="#e4474c" stroke-width="0.75" stroke-dasharray="0.9 0.9"/>
<path d="M56.50 160.60 h3 M58.00 159.10 v3" stroke="#e8403c" stroke-width="0.8"/>
<line x1="67.50" y1="159.50" x2="67.50" y2="187.50" stroke="#e4474c" stroke-width="0.75" stroke-dasharray="0.9 0.9"/>
<path d="M66.00 160.60 h3 M67.50 159.10 v3" stroke="#e8403c" stroke-width="0.8"/>
<line x1="90.00" y1="159.50" x2="90.00" y2="188.80" stroke="#e4474c" stroke-width="0.75" stroke-dasharray="0.9 0.9"/>
<path d="M88.50 160.60 h3 M90.00 159.10 v3" stroke="#e8403c" stroke-width="0.8"/>
<line x1="104.25" y1="160.00" x2="104.25" y2="190.00" stroke="#e4474c" stroke-width="0.75" stroke-dasharray="0.9 0.9"/>
<path d="M102.75 161.00 h3 M104.25 159.50 v3" stroke="#e8403c" stroke-width="0.8"/>
<line x1="128.15" y1="160.00" x2="128.15" y2="188.80" stroke="#e4474c" stroke-width="0.75" stroke-dasharray="0.9 0.9"/>
<path d="M126.65 161.00 h3 M128.15 159.50 v3" stroke="#e8403c" stroke-width="0.8"/>
<line x1="137.50" y1="160.00" x2="137.50" y2="195.50" stroke="#e4474c" stroke-width="0.75" stroke-dasharray="0.9 0.9"/>
<path d="M136.00 161.00 h3 M137.50 159.50 v3" stroke="#e8403c" stroke-width="0.8"/>
<line x1="158.30" y1="160.00" x2="158.30" y2="207.50" stroke="#e4474c" stroke-width="0.75" stroke-dasharray="0.9 0.9"/>
<path d="M156.80 161.00 h3 M158.30 159.50 v3" stroke="#e8403c" stroke-width="0.8"/>
<line x1="169.50" y1="160.00" x2="169.50" y2="215.50" stroke="#e4474c" stroke-width="0.75" stroke-dasharray="0.9 0.9"/>
<path d="M168.00 161.00 h3 M169.50 159.50 v3" stroke="#e8403c" stroke-width="0.8"/>
<line x1="183.30" y1="160.00" x2="183.30" y2="206.30" stroke="#e4474c" stroke-width="0.75" stroke-dasharray="0.9 0.9"/>
<path d="M181.80 161.00 h3 M183.30 159.50 v3" stroke="#e8403c" stroke-width="0.8"/>
<line x1="194.50" y1="160.30" x2="194.50" y2="211.30" stroke="#e4474c" stroke-width="0.75" stroke-dasharray="0.9 0.9"/>
<path d="M193.00 161.50 h3 M194.50 160.00 v3" stroke="#e8403c" stroke-width="0.8"/>
<line x1="205.80" y1="161.00" x2="205.80" y2="210.00" stroke="#e4474c" stroke-width="0.75" stroke-dasharray="0.9 0.9"/>
<path d="M204.30 164.00 h3 M205.80 162.50 v3" stroke="#e8403c" stroke-width="0.8"/>
<line x1="215.25" y1="160.80" x2="215.25" y2="216.50" stroke="#e4474c" stroke-width="0.75" stroke-dasharray="0.9 0.9"/>
<path d="M213.75 164.80 h3 M215.25 163.30 v3" stroke="#e8403c" stroke-width="0.8"/>
<line x1="223.15" y1="160.30" x2="223.15" y2="207.50" stroke="#e4474c" stroke-width="0.75" stroke-dasharray="0.9 0.9"/>
<path d="M221.65 161.50 h3 M223.15 160.00 v3" stroke="#e8403c" stroke-width="0.8"/>
<line x1="240.50" y1="159.50" x2="240.50" y2="196.30" stroke="#e4474c" stroke-width="0.75" stroke-dasharray="0.9 0.9"/>
<path d="M239.00 160.60 h3 M240.50 159.10 v3" stroke="#e8403c" stroke-width="0.8"/>
<line x1="247.00" y1="159.50" x2="247.00" y2="190.00" stroke="#e4474c" stroke-width="0.75" stroke-dasharray="0.9 0.9"/>
<path d="M245.50 160.60 h3 M247.00 159.10 v3" stroke="#e8403c" stroke-width="0.8"/>
<line x1="255.00" y1="159.50" x2="255.00" y2="181.30" stroke="#e4474c" stroke-width="0.75" stroke-dasharray="0.9 0.9"/>
<path d="M253.50 160.60 h3 M255.00 159.10 v3" stroke="#e8403c" stroke-width="0.8"/>
<line x1="265.80" y1="159.50" x2="265.80" y2="179.50" stroke="#e4474c" stroke-width="0.75" stroke-dasharray="0.9 0.9"/>
<path d="M264.30 160.60 h3 M265.80 159.10 v3" stroke="#e8403c" stroke-width="0.8"/>
<line x1="281.80" y1="160.00" x2="281.80" y2="182.00" stroke="#e4474c" stroke-width="0.75" stroke-dasharray="0.9 0.9"/>
<path d="M280.30 161.00 h3 M281.80 159.50 v3" stroke="#e8403c" stroke-width="0.8"/>
<line x1="299.30" y1="160.50" x2="299.30" y2="198.80" stroke="#e4474c" stroke-width="0.75" stroke-dasharray="0.9 0.9"/>
<path d="M297.80 162.30 h3 M299.30 160.80 v3" stroke="#e8403c" stroke-width="0.8"/>
<line x1="370.50" y1="229.50" x2="370.50" y2="232.00" stroke="#fbfee4" stroke-width="0.6" />
<line x1="370.50" y1="234.00" x2="370.50" y2="236.50" stroke="#fbfee4" stroke-width="0.6" />
<line x1="368.90" y1="229.50" x2="372.10" y2="229.50" stroke="#fbfee4" stroke-width="0.6" />
<line x1="368.90" y1="236.50" x2="372.10" y2="236.50" stroke="#fbfee4" stroke-width="0.6" />
<line x1="370.50" y1="233.50" x2="370.50" y2="236.00" stroke="#fbfee4" stroke-width="0.6" />
<line x1="370.50" y1="240.40" x2="370.50" y2="242.90" stroke="#fbfee4" stroke-width="0.6" />
<line x1="368.90" y1="233.50" x2="372.10" y2="233.50" stroke="#fbfee4" stroke-width="0.6" />
<line x1="368.90" y1="242.90" x2="372.10" y2="242.90" stroke="#fbfee4" stroke-width="0.6" />
<line x1="383.50" y1="217.30" x2="383.50" y2="219.80" stroke="#dfddef" stroke-width="0.6" />
<line x1="383.50" y1="222.00" x2="383.50" y2="224.50" stroke="#dfddef" stroke-width="0.6" />
<line x1="381.90" y1="217.30" x2="385.10" y2="217.30" stroke="#dfddef" stroke-width="0.6" />
<line x1="381.90" y1="224.50" x2="385.10" y2="224.50" stroke="#dfddef" stroke-width="0.6" />
<line x1="383.50" y1="223.00" x2="383.50" y2="225.50" stroke="#dfddef" stroke-width="0.6" />
<line x1="383.50" y1="226.60" x2="383.50" y2="229.10" stroke="#dfddef" stroke-width="0.6" />
<line x1="381.90" y1="223.00" x2="385.10" y2="223.00" stroke="#dfddef" stroke-width="0.6" />
<line x1="381.90" y1="229.10" x2="385.10" y2="229.10" stroke="#dfddef" stroke-width="0.6" />
<line x1="387.00" y1="213.70" x2="387.00" y2="216.20" stroke="#dfddef" stroke-width="0.6" />
<line x1="387.00" y1="219.00" x2="387.00" y2="221.50" stroke="#dfddef" stroke-width="0.6" />
<line x1="385.40" y1="213.70" x2="388.60" y2="213.70" stroke="#dfddef" stroke-width="0.6" />
<line x1="385.40" y1="221.50" x2="388.60" y2="221.50" stroke="#dfddef" stroke-width="0.6" />
<line x1="387.00" y1="220.50" x2="387.00" y2="223.00" stroke="#dfddef" stroke-width="0.6" />
<line x1="387.00" y1="223.90" x2="387.00" y2="226.40" stroke="#dfddef" stroke-width="0.6" />
<line x1="385.40" y1="220.50" x2="388.60" y2="220.50" stroke="#dfddef" stroke-width="0.6" />
<line x1="385.40" y1="226.40" x2="388.60" y2="226.40" stroke="#dfddef" stroke-width="0.6" />
<line x1="397.25" y1="206.70" x2="397.25" y2="209.20" stroke="#dfddef" stroke-width="0.6" />
<line x1="397.25" y1="213.00" x2="397.25" y2="215.50" stroke="#dfddef" stroke-width="0.6" />
<line x1="395.65" y1="206.70" x2="398.85" y2="206.70" stroke="#dfddef" stroke-width="0.6" />
<line x1="395.65" y1="215.50" x2="398.85" y2="215.50" stroke="#dfddef" stroke-width="0.6" />
<line x1="397.25" y1="215.50" x2="397.25" y2="218.00" stroke="#dfddef" stroke-width="0.6" />
<line x1="397.25" y1="219.80" x2="397.25" y2="222.30" stroke="#dfddef" stroke-width="0.6" />
<line x1="395.65" y1="215.50" x2="398.85" y2="215.50" stroke="#dfddef" stroke-width="0.6" />
<line x1="395.65" y1="222.30" x2="398.85" y2="222.30" stroke="#dfddef" stroke-width="0.6" />
<line x1="420.65" y1="201.30" x2="420.65" y2="203.80" stroke="#dfddef" stroke-width="0.6" />
<line x1="420.65" y1="208.00" x2="420.65" y2="210.50" stroke="#dfddef" stroke-width="0.6" />
<line x1="419.05" y1="201.30" x2="422.25" y2="201.30" stroke="#dfddef" stroke-width="0.6" />
<line x1="419.05" y1="210.50" x2="422.25" y2="210.50" stroke="#dfddef" stroke-width="0.6" />
<line x1="420.65" y1="210.50" x2="420.65" y2="213.00" stroke="#dfddef" stroke-width="0.6" />
<line x1="420.65" y1="215.50" x2="420.65" y2="218.00" stroke="#dfddef" stroke-width="0.6" />
<line x1="419.05" y1="210.50" x2="422.25" y2="210.50" stroke="#dfddef" stroke-width="0.6" />
<line x1="419.05" y1="218.00" x2="422.25" y2="218.00" stroke="#dfddef" stroke-width="0.6" />
<line x1="435.65" y1="196.85" x2="435.65" y2="200.00" stroke="#dfddef" stroke-width="0.6" />
<line x1="435.65" y1="206.30" x2="435.65" y2="209.45" stroke="#dfddef" stroke-width="0.6" />
<line x1="434.05" y1="196.85" x2="437.25" y2="196.85" stroke="#dfddef" stroke-width="0.6" />
<line x1="434.05" y1="209.45" x2="437.25" y2="209.45" stroke="#dfddef" stroke-width="0.6" />
<line x1="435.65" y1="209.00" x2="435.65" y2="211.50" stroke="#dfddef" stroke-width="0.6" />
<line x1="435.65" y1="213.80" x2="435.65" y2="216.30" stroke="#dfddef" stroke-width="0.6" />
<line x1="434.05" y1="209.00" x2="437.25" y2="209.00" stroke="#dfddef" stroke-width="0.6" />
<line x1="434.05" y1="216.30" x2="437.25" y2="216.30" stroke="#dfddef" stroke-width="0.6" />
<line x1="460.65" y1="189.00" x2="460.65" y2="192.00" stroke="#dfddef" stroke-width="0.6" />
<line x1="460.65" y1="198.00" x2="460.65" y2="201.00" stroke="#dfddef" stroke-width="0.6" />
<line x1="459.05" y1="189.00" x2="462.25" y2="189.00" stroke="#dfddef" stroke-width="0.6" />
<line x1="459.05" y1="201.00" x2="462.25" y2="201.00" stroke="#dfddef" stroke-width="0.6" />
<line x1="460.65" y1="203.80" x2="460.65" y2="206.30" stroke="#dfddef" stroke-width="0.6" />
<line x1="460.65" y1="210.00" x2="460.65" y2="212.50" stroke="#dfddef" stroke-width="0.6" />
<line x1="459.05" y1="203.80" x2="462.25" y2="203.80" stroke="#dfddef" stroke-width="0.6" />
<line x1="459.05" y1="212.50" x2="462.25" y2="212.50" stroke="#dfddef" stroke-width="0.6" />
<line x1="470.65" y1="184.45" x2="470.65" y2="188.80" stroke="#dfddef" stroke-width="0.6" />
<line x1="470.65" y1="197.50" x2="470.65" y2="201.85" stroke="#dfddef" stroke-width="0.6" />
<line x1="469.05" y1="184.45" x2="472.25" y2="184.45" stroke="#dfddef" stroke-width="0.6" />
<line x1="469.05" y1="201.85" x2="472.25" y2="201.85" stroke="#dfddef" stroke-width="0.6" />
<line x1="470.65" y1="203.00" x2="470.65" y2="205.50" stroke="#dfddef" stroke-width="0.6" />
<line x1="470.65" y1="209.50" x2="470.65" y2="212.00" stroke="#dfddef" stroke-width="0.6" />
<line x1="469.05" y1="203.00" x2="472.25" y2="203.00" stroke="#dfddef" stroke-width="0.6" />
<line x1="469.05" y1="212.00" x2="472.25" y2="212.00" stroke="#dfddef" stroke-width="0.6" />
<line x1="492.65" y1="173.10" x2="492.65" y2="180.00" stroke="#dfddef" stroke-width="0.6" />
<line x1="492.65" y1="193.80" x2="492.65" y2="200.70" stroke="#dfddef" stroke-width="0.6" />
<line x1="491.05" y1="173.10" x2="494.25" y2="173.10" stroke="#dfddef" stroke-width="0.6" />
<line x1="491.05" y1="200.70" x2="494.25" y2="200.70" stroke="#dfddef" stroke-width="0.6" />
<line x1="492.65" y1="198.80" x2="492.65" y2="201.30" stroke="#dfddef" stroke-width="0.6" />
<line x1="492.65" y1="206.30" x2="492.65" y2="208.80" stroke="#dfddef" stroke-width="0.6" />
<line x1="491.05" y1="198.80" x2="494.25" y2="198.80" stroke="#dfddef" stroke-width="0.6" />
<line x1="491.05" y1="208.80" x2="494.25" y2="208.80" stroke="#dfddef" stroke-width="0.6" />
<line x1="504.50" y1="166.25" x2="504.50" y2="175.00" stroke="#dfddef" stroke-width="0.6" />
<line x1="504.50" y1="192.50" x2="504.50" y2="201.25" stroke="#dfddef" stroke-width="0.6" />
<line x1="502.90" y1="166.25" x2="506.10" y2="166.25" stroke="#dfddef" stroke-width="0.6" />
<line x1="502.90" y1="201.25" x2="506.10" y2="201.25" stroke="#dfddef" stroke-width="0.6" />
<line x1="504.50" y1="198.45" x2="504.50" y2="201.30" stroke="#dfddef" stroke-width="0.6" />
<line x1="504.50" y1="207.00" x2="504.50" y2="209.85" stroke="#dfddef" stroke-width="0.6" />
<line x1="502.90" y1="198.45" x2="506.10" y2="198.45" stroke="#dfddef" stroke-width="0.6" />
<line x1="502.90" y1="209.85" x2="506.10" y2="209.85" stroke="#dfddef" stroke-width="0.6" />
<line x1="519.65" y1="164.95" x2="519.65" y2="174.30" stroke="#dfddef" stroke-width="0.6" />
<line x1="519.65" y1="193.00" x2="519.65" y2="202.35" stroke="#dfddef" stroke-width="0.6" />
<line x1="518.05" y1="164.95" x2="521.25" y2="164.95" stroke="#dfddef" stroke-width="0.6" />
<line x1="518.05" y1="202.35" x2="521.25" y2="202.35" stroke="#dfddef" stroke-width="0.6" />
<line x1="519.65" y1="198.00" x2="519.65" y2="200.50" stroke="#dfddef" stroke-width="0.6" />
<line x1="519.65" y1="205.50" x2="519.65" y2="208.00" stroke="#dfddef" stroke-width="0.6" />
<line x1="518.05" y1="198.00" x2="521.25" y2="198.00" stroke="#dfddef" stroke-width="0.6" />
<line x1="518.05" y1="208.00" x2="521.25" y2="208.00" stroke="#dfddef" stroke-width="0.6" />
<line x1="531.25" y1="169.20" x2="531.25" y2="176.80" stroke="#dfddef" stroke-width="0.6" />
<line x1="531.25" y1="192.00" x2="531.25" y2="199.60" stroke="#dfddef" stroke-width="0.6" />
<line x1="529.65" y1="169.20" x2="532.85" y2="169.20" stroke="#dfddef" stroke-width="0.6" />
<line x1="529.65" y1="199.60" x2="532.85" y2="199.60" stroke="#dfddef" stroke-width="0.6" />
<line x1="531.25" y1="197.25" x2="531.25" y2="200.00" stroke="#dfddef" stroke-width="0.6" />
<line x1="531.25" y1="205.50" x2="531.25" y2="208.25" stroke="#dfddef" stroke-width="0.6" />
<line x1="529.65" y1="197.25" x2="532.85" y2="197.25" stroke="#dfddef" stroke-width="0.6" />
<line x1="529.65" y1="208.25" x2="532.85" y2="208.25" stroke="#dfddef" stroke-width="0.6" />
<line x1="542.90" y1="177.50" x2="542.90" y2="180.00" stroke="#f1e0f4" stroke-width="0.6" />
<line x1="542.90" y1="182.50" x2="542.90" y2="185.00" stroke="#f1e0f4" stroke-width="0.6" />
<line x1="541.30" y1="177.50" x2="544.50" y2="177.50" stroke="#f1e0f4" stroke-width="0.6" />
<line x1="541.30" y1="185.00" x2="544.50" y2="185.00" stroke="#f1e0f4" stroke-width="0.6" />
<line x1="542.90" y1="198.00" x2="542.90" y2="200.50" stroke="#f1e0f4" stroke-width="0.6" />
<line x1="542.90" y1="205.00" x2="542.90" y2="207.50" stroke="#f1e0f4" stroke-width="0.6" />
<line x1="541.30" y1="198.00" x2="544.50" y2="198.00" stroke="#f1e0f4" stroke-width="0.6" />
<line x1="541.30" y1="207.50" x2="544.50" y2="207.50" stroke="#f1e0f4" stroke-width="0.6" />
<line x1="552.90" y1="181.30" x2="552.90" y2="183.80" stroke="#f1e0f4" stroke-width="0.6" />
<line x1="552.90" y1="185.00" x2="552.90" y2="187.50" stroke="#f1e0f4" stroke-width="0.6" />
<line x1="551.30" y1="181.30" x2="554.50" y2="181.30" stroke="#f1e0f4" stroke-width="0.6" />
<line x1="551.30" y1="187.50" x2="554.50" y2="187.50" stroke="#f1e0f4" stroke-width="0.6" />
<line x1="552.90" y1="194.50" x2="552.90" y2="197.00" stroke="#f1e0f4" stroke-width="0.6" />
<line x1="552.90" y1="201.30" x2="552.90" y2="203.80" stroke="#f1e0f4" stroke-width="0.6" />
<line x1="551.30" y1="194.50" x2="554.50" y2="194.50" stroke="#f1e0f4" stroke-width="0.6" />
<line x1="551.30" y1="203.80" x2="554.50" y2="203.80" stroke="#f1e0f4" stroke-width="0.6" />
<line x1="561.50" y1="172.45" x2="561.50" y2="179.30" stroke="#dfddef" stroke-width="0.6" />
<line x1="561.50" y1="193.00" x2="561.50" y2="199.85" stroke="#dfddef" stroke-width="0.6" />
<line x1="559.90" y1="172.45" x2="563.10" y2="172.45" stroke="#dfddef" stroke-width="0.6" />
<line x1="559.90" y1="199.85" x2="563.10" y2="199.85" stroke="#dfddef" stroke-width="0.6" />
<line x1="561.50" y1="196.30" x2="561.50" y2="198.80" stroke="#dfddef" stroke-width="0.6" />
<line x1="561.50" y1="202.50" x2="561.50" y2="205.00" stroke="#dfddef" stroke-width="0.6" />
<line x1="559.90" y1="196.30" x2="563.10" y2="196.30" stroke="#dfddef" stroke-width="0.6" />
<line x1="559.90" y1="205.00" x2="563.10" y2="205.00" stroke="#dfddef" stroke-width="0.6" />
<line x1="580.30" y1="175.10" x2="580.30" y2="178.00" stroke="#dfddef" stroke-width="0.6" />
<line x1="580.30" y1="183.80" x2="580.30" y2="186.70" stroke="#dfddef" stroke-width="0.6" />
<line x1="578.70" y1="175.10" x2="581.90" y2="175.10" stroke="#dfddef" stroke-width="0.6" />
<line x1="578.70" y1="186.70" x2="581.90" y2="186.70" stroke="#dfddef" stroke-width="0.6" />
<line x1="580.30" y1="195.00" x2="580.30" y2="197.50" stroke="#dfddef" stroke-width="0.6" />
<line x1="580.30" y1="201.30" x2="580.30" y2="203.80" stroke="#dfddef" stroke-width="0.6" />
<line x1="578.70" y1="195.00" x2="581.90" y2="195.00" stroke="#dfddef" stroke-width="0.6" />
<line x1="578.70" y1="203.80" x2="581.90" y2="203.80" stroke="#dfddef" stroke-width="0.6" />
<line x1="586.50" y1="173.30" x2="586.50" y2="176.80" stroke="#dfddef" stroke-width="0.6" />
<line x1="586.50" y1="183.80" x2="586.50" y2="187.30" stroke="#dfddef" stroke-width="0.6" />
<line x1="584.90" y1="173.30" x2="588.10" y2="173.30" stroke="#dfddef" stroke-width="0.6" />
<line x1="584.90" y1="187.30" x2="588.10" y2="187.30" stroke="#dfddef" stroke-width="0.6" />
<line x1="586.50" y1="195.00" x2="586.50" y2="197.50" stroke="#dfddef" stroke-width="0.6" />
<line x1="586.50" y1="202.50" x2="586.50" y2="205.00" stroke="#dfddef" stroke-width="0.6" />
<line x1="584.90" y1="195.00" x2="588.10" y2="195.00" stroke="#dfddef" stroke-width="0.6" />
<line x1="584.90" y1="205.00" x2="588.10" y2="205.00" stroke="#dfddef" stroke-width="0.6" />
<line x1="594.65" y1="174.50" x2="594.65" y2="178.00" stroke="#dfddef" stroke-width="0.6" />
<line x1="594.65" y1="185.00" x2="594.65" y2="188.50" stroke="#dfddef" stroke-width="0.6" />
<line x1="593.05" y1="174.50" x2="596.25" y2="174.50" stroke="#dfddef" stroke-width="0.6" />
<line x1="593.05" y1="188.50" x2="596.25" y2="188.50" stroke="#dfddef" stroke-width="0.6" />
<line x1="594.65" y1="197.50" x2="594.65" y2="200.00" stroke="#dfddef" stroke-width="0.6" />
<line x1="594.65" y1="203.80" x2="594.65" y2="206.30" stroke="#dfddef" stroke-width="0.6" />
<line x1="593.05" y1="197.50" x2="596.25" y2="197.50" stroke="#dfddef" stroke-width="0.6" />
<line x1="593.05" y1="206.30" x2="596.25" y2="206.30" stroke="#dfddef" stroke-width="0.6" />
<line x1="606.50" y1="176.20" x2="606.50" y2="180.80" stroke="#dfddef" stroke-width="0.6" />
<line x1="606.50" y1="190.00" x2="606.50" y2="194.60" stroke="#dfddef" stroke-width="0.6" />
<line x1="604.90" y1="176.20" x2="608.10" y2="176.20" stroke="#dfddef" stroke-width="0.6" />
<line x1="604.90" y1="194.60" x2="608.10" y2="194.60" stroke="#dfddef" stroke-width="0.6" />
<line x1="606.50" y1="201.30" x2="606.50" y2="203.80" stroke="#dfddef" stroke-width="0.6" />
<line x1="606.50" y1="207.00" x2="606.50" y2="209.50" stroke="#dfddef" stroke-width="0.6" />
<line x1="604.90" y1="201.30" x2="608.10" y2="201.30" stroke="#dfddef" stroke-width="0.6" />
<line x1="604.90" y1="209.50" x2="608.10" y2="209.50" stroke="#dfddef" stroke-width="0.6" />
<line x1="623.15" y1="190.70" x2="623.15" y2="193.80" stroke="#dfddef" stroke-width="0.6" />
<line x1="623.15" y1="200.00" x2="623.15" y2="203.10" stroke="#dfddef" stroke-width="0.6" />
<line x1="621.55" y1="190.70" x2="624.75" y2="190.70" stroke="#dfddef" stroke-width="0.6" />
<line x1="621.55" y1="203.10" x2="624.75" y2="203.10" stroke="#dfddef" stroke-width="0.6" />
<line x1="623.15" y1="205.00" x2="623.15" y2="207.50" stroke="#dfddef" stroke-width="0.6" />
<line x1="623.15" y1="210.50" x2="623.15" y2="213.00" stroke="#dfddef" stroke-width="0.6" />
<line x1="621.55" y1="205.00" x2="624.75" y2="205.00" stroke="#dfddef" stroke-width="0.6" />
<line x1="621.55" y1="213.00" x2="624.75" y2="213.00" stroke="#dfddef" stroke-width="0.6" />
<line x1="641.65" y1="205.70" x2="641.65" y2="208.80" stroke="#dfddef" stroke-width="0.6" />
<line x1="641.65" y1="215.00" x2="641.65" y2="218.10" stroke="#dfddef" stroke-width="0.6" />
<line x1="640.05" y1="205.70" x2="643.25" y2="205.70" stroke="#dfddef" stroke-width="0.6" />
<line x1="640.05" y1="218.10" x2="643.25" y2="218.10" stroke="#dfddef" stroke-width="0.6" />
<line x1="641.65" y1="212.50" x2="641.65" y2="215.00" stroke="#dfddef" stroke-width="0.6" />
<line x1="641.65" y1="217.00" x2="641.65" y2="219.50" stroke="#dfddef" stroke-width="0.6" />
<line x1="640.05" y1="212.50" x2="643.25" y2="212.50" stroke="#dfddef" stroke-width="0.6" />
<line x1="640.05" y1="219.50" x2="643.25" y2="219.50" stroke="#dfddef" stroke-width="0.6" />
<line x1="660.30" y1="225.00" x2="660.30" y2="227.50" stroke="#fcebe6" stroke-width="0.6" />
<line x1="660.30" y1="228.80" x2="660.30" y2="231.30" stroke="#fcebe6" stroke-width="0.6" />
<line x1="658.70" y1="225.00" x2="661.90" y2="225.00" stroke="#fcebe6" stroke-width="0.6" />
<line x1="658.70" y1="231.30" x2="661.90" y2="231.30" stroke="#fcebe6" stroke-width="0.6" />
<line x1="660.30" y1="227.50" x2="660.30" y2="230.00" stroke="#fcebe6" stroke-width="0.6" />
<line x1="660.30" y1="233.80" x2="660.30" y2="236.30" stroke="#fcebe6" stroke-width="0.6" />
<line x1="658.70" y1="227.50" x2="661.90" y2="227.50" stroke="#fcebe6" stroke-width="0.6" />
<line x1="658.70" y1="236.30" x2="661.90" y2="236.30" stroke="#fcebe6" stroke-width="0.6" />
<rect x="369.40" y="232.00" width="2.20" height="2.80" fill="#e4f23e" />
<rect x="369.40" y="233.00" width="2.20" height="1.80" fill="#e2f53e" />
<rect x="369.40" y="234.00" width="2.20" height="2.80" fill="#e4684f" />
<rect x="369.40" y="235.00" width="2.20" height="1.80" fill="#e9744c" />
<rect x="369.40" y="236.00" width="2.20" height="4.40" fill="#8a16b2" />
<rect x="369.40" y="238.20" width="2.20" height="2.20" fill="#a31fae" />
<rect x="380.30" y="219.80" width="6.40" height="3.00" fill="#1b0c8f" />
<rect x="380.30" y="220.90" width="6.40" height="1.90" fill="#1d0b8f" />
<rect x="380.30" y="222.00" width="6.40" height="2.80" fill="#8a16b2" />
<rect x="380.30" y="223.00" width="6.40" height="1.80" fill="#a31fae" />
<rect x="380.30" y="224.00" width="6.40" height="2.30" fill="#e4684f" />
<rect x="380.30" y="224.75" width="6.40" height="1.55" fill="#e9744c" />
<rect x="380.30" y="225.50" width="6.40" height="1.10" fill="#e4f23e" />
<rect x="380.30" y="226.05" width="6.40" height="0.55" fill="#e2f53e" />
<rect x="384.00" y="216.20" width="6.00" height="3.60" fill="#1b0c8f" />
<rect x="384.00" y="217.60" width="6.00" height="2.20" fill="#1d0b8f" />
<rect x="384.00" y="219.00" width="6.00" height="2.80" fill="#8a16b2" />
<rect x="384.00" y="220.00" width="6.00" height="1.80" fill="#a31fae" />
<rect x="384.00" y="221.00" width="6.00" height="2.80" fill="#e4684f" />
<rect x="384.00" y="222.00" width="6.00" height="1.80" fill="#e9744c" />
<rect x="384.00" y="223.00" width="6.00" height="0.90" fill="#e4f23e" />
<rect x="384.00" y="223.45" width="6.00" height="0.45" fill="#e2f53e" />
<rect x="394.00" y="209.20" width="6.50" height="4.60" fill="#1b0c8f" />
<rect x="394.00" y="211.10" width="6.50" height="2.70" fill="#1d0b8f" />
<rect x="394.00" y="213.00" width="6.50" height="3.30" fill="#8a16b2" />
<rect x="394.00" y="214.25" width="6.50" height="2.05" fill="#a31fae" />
<rect x="394.00" y="215.50" width="6.50" height="3.30" fill="#e4684f" />
<rect x="394.00" y="216.75" width="6.50" height="2.05" fill="#e9744c" />
<rect x="394.00" y="218.00" width="6.50" height="1.80" fill="#e4f23e" />
<rect x="394.00" y="218.90" width="6.50" height="0.90" fill="#e2f53e" />
<line x1="394.00" y1="217.40" x2="400.50" y2="217.40" stroke="#000000" stroke-width="0.6" stroke-opacity="0.7"/>
<rect x="417.30" y="203.80" width="6.70" height="5.00" fill="#1b0c8f" />
<rect x="417.30" y="205.90" width="6.70" height="2.90" fill="#1d0b8f" />
<rect x="417.30" y="208.00" width="6.70" height="3.30" fill="#8a16b2" />
<rect x="417.30" y="209.25" width="6.70" height="2.05" fill="#a31fae" />
<rect x="417.30" y="210.50" width="6.70" height="3.30" fill="#e4684f" />
<rect x="417.30" y="211.75" width="6.70" height="2.05" fill="#e9744c" />
<rect x="417.30" y="213.00" width="6.70" height="2.50" fill="#e4f23e" />
<rect x="417.30" y="214.25" width="6.70" height="1.25" fill="#e2f53e" />
<line x1="417.30" y1="205.69" x2="424.00" y2="205.69" stroke="#000000" stroke-width="0.6" stroke-opacity="0.8"/>
<line x1="417.30" y1="206.82" x2="424.00" y2="206.82" stroke="#000000" stroke-width="0.6" stroke-opacity="0.8"/>
<line x1="417.30" y1="212.40" x2="424.00" y2="212.40" stroke="#000000" stroke-width="0.6" stroke-opacity="0.7"/>
<rect x="432.30" y="200.00" width="6.70" height="7.10" fill="#1b0c8f" />
<rect x="432.30" y="203.15" width="6.70" height="3.95" fill="#1d0b8f" />
<rect x="432.30" y="206.30" width="6.70" height="3.00" fill="#8a16b2" />
<rect x="432.30" y="207.40" width="6.70" height="1.90" fill="#a31fae" />
<rect x="432.30" y="208.50" width="6.70" height="3.80" fill="#e4684f" />
<rect x="432.30" y="210.00" width="6.70" height="2.30" fill="#e9744c" />
<rect x="432.30" y="211.50" width="6.70" height="2.30" fill="#e4f23e" />
<rect x="432.30" y="212.65" width="6.70" height="1.15" fill="#e2f53e" />
<line x1="432.30" y1="202.84" x2="439.00" y2="202.84" stroke="#000000" stroke-width="0.6" stroke-opacity="0.8"/>
<line x1="432.30" y1="204.54" x2="439.00" y2="204.54" stroke="#000000" stroke-width="0.6" stroke-opacity="0.8"/>
<line x1="432.30" y1="210.90" x2="439.00" y2="210.90" stroke="#000000" stroke-width="0.6" stroke-opacity="0.7"/>
<rect x="457.30" y="192.00" width="6.70" height="6.80" fill="#1b0c8f" />
<rect x="457.30" y="195.00" width="6.70" height="3.80" fill="#1d0b8f" />
<rect x="457.30" y="198.00" width="6.70" height="4.10" fill="#8a16b2" />
<rect x="457.30" y="199.65" width="6.70" height="2.45" fill="#a31fae" />
<rect x="457.30" y="201.30" width="6.70" height="5.80" fill="#e4684f" />
<rect x="457.30" y="203.80" width="6.70" height="3.30" fill="#e9744c" />
<rect x="457.30" y="206.30" width="6.70" height="3.70" fill="#e4f23e" />
<rect x="457.30" y="208.15" width="6.70" height="1.85" fill="#e2f53e" />
<line x1="457.30" y1="194.70" x2="464.00" y2="194.70" stroke="#000000" stroke-width="0.6" stroke-opacity="0.8"/>
<line x1="457.30" y1="196.32" x2="464.00" y2="196.32" stroke="#000000" stroke-width="0.6" stroke-opacity="0.8"/>
<line x1="457.30" y1="205.70" x2="464.00" y2="205.70" stroke="#000000" stroke-width="0.6" stroke-opacity="0.7"/>
<rect x="467.30" y="188.80" width="6.70" height="9.50" fill="#1b0c8f" />
<rect x="467.30" y="193.15" width="6.70" height="5.15" fill="#1d0b8f" />
<rect x="467.30" y="197.50" width="6.70" height="4.30" fill="#8a16b2" />
<rect x="467.30" y="199.25" width="6.70" height="2.55" fill="#a31fae" />
<rect x="467.30" y="201.00" width="6.70" height="5.30" fill="#e4684f" />
<rect x="467.30" y="203.25" width="6.70" height="3.05" fill="#e9744c" />
<rect x="467.30" y="205.50" width="6.70" height="4.00" fill="#e4f23e" />
<rect x="467.30" y="207.50" width="6.70" height="2.00" fill="#e2f53e" />
<line x1="467.30" y1="192.72" x2="474.00" y2="192.72" stroke="#000000" stroke-width="0.6" stroke-opacity="0.8"/>
<line x1="467.30" y1="195.06" x2="474.00" y2="195.06" stroke="#000000" stroke-width="0.6" stroke-opacity="0.8"/>
<line x1="467.30" y1="204.90" x2="474.00" y2="204.90" stroke="#000000" stroke-width="0.6" stroke-opacity="0.7"/>
<rect x="489.30" y="180.00" width="6.70" height="14.60" fill="#1b0c8f" />
<rect x="489.30" y="186.90" width="6.70" height="7.70" fill="#1d0b8f" />
<rect x="489.30" y="193.80" width="6.70" height="5.00" fill="#8a16b2" />
<rect x="489.30" y="195.90" width="6.70" height="2.90" fill="#a31fae" />
<rect x="489.30" y="198.00" width="6.70" height="4.10" fill="#e4684f" />
<rect x="489.30" y="199.65" width="6.70" height="2.45" fill="#e9744c" />
<rect x="489.30" y="201.30" width="6.70" height="5.00" fill="#e4f23e" />
<rect x="489.30" y="203.80" width="6.70" height="2.50" fill="#e2f53e" />
<line x1="489.30" y1="186.21" x2="496.00" y2="186.21" stroke="#000000" stroke-width="0.6" stroke-opacity="0.8"/>
<line x1="489.30" y1="189.94" x2="496.00" y2="189.94" stroke="#000000" stroke-width="0.6" stroke-opacity="0.8"/>
<line x1="489.30" y1="200.70" x2="496.00" y2="200.70" stroke="#000000" stroke-width="0.6" stroke-opacity="0.7"/>
<rect x="501.00" y="175.00" width="7.00" height="18.30" fill="#1b0c8f" />
<rect x="501.00" y="183.75" width="7.00" height="9.55" fill="#1d0b8f" />
<rect x="501.00" y="192.50" width="7.00" height="4.60" fill="#8a16b2" />
<rect x="501.00" y="194.40" width="7.00" height="2.70" fill="#a31fae" />
<rect x="501.00" y="196.30" width="7.00" height="5.80" fill="#e4684f" />
<rect x="501.00" y="198.80" width="7.00" height="3.30" fill="#e9744c" />
<rect x="501.00" y="201.30" width="7.00" height="5.70" fill="#e4f23e" />
<rect x="501.00" y="204.15" width="7.00" height="2.85" fill="#e2f53e" />
<line x1="501.00" y1="182.88" x2="508.00" y2="182.88" stroke="#000000" stroke-width="0.6" stroke-opacity="0.8"/>
<line x1="501.00" y1="187.60" x2="508.00" y2="187.60" stroke="#000000" stroke-width="0.6" stroke-opacity="0.8"/>
<line x1="501.00" y1="200.70" x2="508.00" y2="200.70" stroke="#000000" stroke-width="0.6" stroke-opacity="0.7"/>
<rect x="516.30" y="174.30" width="6.70" height="19.50" fill="#1b0c8f" />
<rect x="516.30" y="183.65" width="6.70" height="10.15" fill="#1d0b8f" />
<rect x="516.30" y="193.00" width="6.70" height="2.80" fill="#8a16b2" />
<rect x="516.30" y="194.00" width="6.70" height="1.80" fill="#a31fae" />
<rect x="516.30" y="195.00" width="6.70" height="6.30" fill="#e4684f" />
<rect x="516.30" y="197.75" width="6.70" height="3.55" fill="#e9744c" />
<rect x="516.30" y="200.50" width="6.70" height="5.00" fill="#e4f23e" />
<rect x="516.30" y="203.00" width="6.70" height="2.50" fill="#e2f53e" />
<line x1="516.30" y1="182.72" x2="523.00" y2="182.72" stroke="#000000" stroke-width="0.6" stroke-opacity="0.8"/>
<line x1="516.30" y1="187.76" x2="523.00" y2="187.76" stroke="#000000" stroke-width="0.6" stroke-opacity="0.8"/>
<line x1="516.30" y1="199.90" x2="523.00" y2="199.90" stroke="#000000" stroke-width="0.6" stroke-opacity="0.7"/>
<rect x="528.00" y="176.80" width="6.50" height="16.00" fill="#1b0c8f" />
<rect x="528.00" y="184.40" width="6.50" height="8.40" fill="#1d0b8f" />
<rect x="528.00" y="192.00" width="6.50" height="2.60" fill="#8a16b2" />
<rect x="528.00" y="192.90" width="6.50" height="1.70" fill="#a31fae" />
<rect x="528.00" y="193.80" width="6.50" height="7.00" fill="#e4684f" />
<rect x="528.00" y="196.90" width="6.50" height="3.90" fill="#e9744c" />
<rect x="528.00" y="200.00" width="6.50" height="5.50" fill="#e4f23e" />
<rect x="528.00" y="202.75" width="6.50" height="2.75" fill="#e2f53e" />
<line x1="528.00" y1="183.64" x2="534.50" y2="183.64" stroke="#000000" stroke-width="0.6" stroke-opacity="0.8"/>
<line x1="528.00" y1="187.74" x2="534.50" y2="187.74" stroke="#000000" stroke-width="0.6" stroke-opacity="0.8"/>
<line x1="528.00" y1="199.40" x2="534.50" y2="199.40" stroke="#000000" stroke-width="0.6" stroke-opacity="0.7"/>
<rect x="539.50" y="180.00" width="6.80" height="3.30" fill="#8a16b2" />
<rect x="539.50" y="181.25" width="6.80" height="2.05" fill="#a31fae" />
<rect x="539.50" y="182.50" width="6.80" height="17.10" fill="#1b0c8f" />
<rect x="539.50" y="190.65" width="6.80" height="8.95" fill="#1d0b8f" />
<rect x="539.50" y="198.80" width="6.80" height="2.50" fill="#e4684f" />
<rect x="539.50" y="199.65" width="6.80" height="1.65" fill="#e9744c" />
<rect x="539.50" y="200.50" width="6.80" height="4.50" fill="#e4f23e" />
<rect x="539.50" y="202.75" width="6.80" height="2.25" fill="#e2f53e" />
<line x1="539.50" y1="189.84" x2="546.30" y2="189.84" stroke="#000000" stroke-width="0.6" stroke-opacity="0.8"/>
<line x1="539.50" y1="194.24" x2="546.30" y2="194.24" stroke="#000000" stroke-width="0.6" stroke-opacity="0.8"/>
<rect x="549.50" y="183.80" width="6.80" height="2.00" fill="#8a16b2" />
<rect x="549.50" y="184.40" width="6.80" height="1.40" fill="#a31fae" />
<rect x="549.50" y="185.00" width="6.80" height="9.60" fill="#1b0c8f" />
<rect x="549.50" y="189.40" width="6.80" height="5.20" fill="#1d0b8f" />
<rect x="549.50" y="193.80" width="6.80" height="4.00" fill="#e4684f" />
<rect x="549.50" y="195.40" width="6.80" height="2.40" fill="#e9744c" />
<rect x="549.50" y="197.00" width="6.80" height="4.30" fill="#e4f23e" />
<rect x="549.50" y="199.15" width="6.80" height="2.15" fill="#e2f53e" />
<line x1="549.50" y1="188.96" x2="556.30" y2="188.96" stroke="#000000" stroke-width="0.6" stroke-opacity="0.8"/>
<line x1="549.50" y1="191.34" x2="556.30" y2="191.34" stroke="#000000" stroke-width="0.6" stroke-opacity="0.8"/>
<line x1="549.50" y1="196.40" x2="556.30" y2="196.40" stroke="#000000" stroke-width="0.6" stroke-opacity="0.7"/>
<rect x="558.00" y="179.30" width="7.00" height="14.50" fill="#1b0c8f" />
<rect x="558.00" y="186.15" width="7.00" height="7.65" fill="#1d0b8f" />
<rect x="558.00" y="193.00" width="7.00" height="6.60" fill="#e4684f" />
<rect x="558.00" y="195.90" width="7.00" height="3.70" fill="#e9744c" />
<rect x="558.00" y="198.80" width="7.00" height="3.70" fill="#e4f23e" />
<rect x="558.00" y="200.65" width="7.00" height="1.85" fill="#e2f53e" />
<line x1="558.00" y1="185.47" x2="565.00" y2="185.47" stroke="#000000" stroke-width="0.6" stroke-opacity="0.8"/>
<line x1="558.00" y1="189.16" x2="565.00" y2="189.16" stroke="#000000" stroke-width="0.6" stroke-opacity="0.8"/>
<line x1="558.00" y1="198.20" x2="565.00" y2="198.20" stroke="#000000" stroke-width="0.6" stroke-opacity="0.7"/>
<rect x="576.80" y="178.00" width="7.00" height="6.60" fill="#1b0c8f" />
<rect x="576.80" y="180.90" width="7.00" height="3.70" fill="#1d0b8f" />
<rect x="576.80" y="183.80" width="7.00" height="7.00" fill="#8a16b2" />
<rect x="576.80" y="186.90" width="7.00" height="3.90" fill="#a31fae" />
<rect x="576.80" y="190.00" width="7.00" height="8.30" fill="#e4684f" />
<rect x="576.80" y="193.75" width="7.00" height="4.55" fill="#e9744c" />
<rect x="576.80" y="197.50" width="7.00" height="3.80" fill="#e4f23e" />
<rect x="576.80" y="199.40" width="7.00" height="1.90" fill="#e2f53e" />
<line x1="576.80" y1="180.61" x2="583.80" y2="180.61" stroke="#000000" stroke-width="0.6" stroke-opacity="0.8"/>
<line x1="576.80" y1="182.18" x2="583.80" y2="182.18" stroke="#000000" stroke-width="0.6" stroke-opacity="0.8"/>
<line x1="576.80" y1="196.90" x2="583.80" y2="196.90" stroke="#000000" stroke-width="0.6" stroke-opacity="0.7"/>
<rect x="583.00" y="176.80" width="7.00" height="7.80" fill="#1b0c8f" />
<rect x="583.00" y="180.30" width="7.00" height="4.30" fill="#1d0b8f" />
<rect x="583.00" y="183.80" width="7.00" height="7.00" fill="#8a16b2" />
<rect x="583.00" y="186.90" width="7.00" height="3.90" fill="#a31fae" />
<rect x="583.00" y="190.00" width="7.00" height="8.30" fill="#e4684f" />
<rect x="583.00" y="193.75" width="7.00" height="4.55" fill="#e9744c" />
<rect x="583.00" y="197.50" width="7.00" height="5.00" fill="#e4f23e" />
<rect x="583.00" y="200.00" width="7.00" height="2.50" fill="#e2f53e" />
<line x1="583.00" y1="179.95" x2="590.00" y2="179.95" stroke="#000000" stroke-width="0.6" stroke-opacity="0.8"/>
<line x1="583.00" y1="181.84" x2="590.00" y2="181.84" stroke="#000000" stroke-width="0.6" stroke-opacity="0.8"/>
<line x1="583.00" y1="196.90" x2="590.00" y2="196.90" stroke="#000000" stroke-width="0.6" stroke-opacity="0.7"/>
<rect x="591.30" y="178.00" width="6.70" height="7.00" fill="#1b0c8f" />
<rect x="591.30" y="181.50" width="6.70" height="3.50" fill="#1d0b8f" />
<rect x="591.30" y="186.30" width="6.70" height="7.00" fill="#8a16b2" />
<rect x="591.30" y="189.40" width="6.70" height="3.90" fill="#a31fae" />
<rect x="591.30" y="192.50" width="6.70" height="8.30" fill="#e4684f" />
<rect x="591.30" y="196.25" width="6.70" height="4.55" fill="#e9744c" />
<rect x="591.30" y="200.00" width="6.70" height="3.80" fill="#e4f23e" />
<rect x="591.30" y="201.90" width="6.70" height="1.90" fill="#e2f53e" />
<line x1="591.30" y1="181.15" x2="598.00" y2="181.15" stroke="#000000" stroke-width="0.6" stroke-opacity="0.8"/>
<line x1="591.30" y1="183.04" x2="598.00" y2="183.04" stroke="#000000" stroke-width="0.6" stroke-opacity="0.8"/>
<line x1="591.30" y1="199.40" x2="598.00" y2="199.40" stroke="#000000" stroke-width="0.6" stroke-opacity="0.7"/>
<rect x="603.00" y="180.80" width="7.00" height="10.00" fill="#1b0c8f" />
<rect x="603.00" y="185.40" width="7.00" height="5.40" fill="#1d0b8f" />
<rect x="603.00" y="190.00" width="7.00" height="7.10" fill="#8a16b2" />
<rect x="603.00" y="193.15" width="7.00" height="3.95" fill="#a31fae" />
<rect x="603.00" y="196.30" width="7.00" height="8.30" fill="#e4684f" />
<rect x="603.00" y="200.05" width="7.00" height="4.55" fill="#e9744c" />
<rect x="603.00" y="203.80" width="7.00" height="3.20" fill="#e4f23e" />
<rect x="603.00" y="205.40" width="7.00" height="1.60" fill="#e2f53e" />
<line x1="603.00" y1="184.94" x2="610.00" y2="184.94" stroke="#000000" stroke-width="0.6" stroke-opacity="0.8"/>
<line x1="603.00" y1="187.42" x2="610.00" y2="187.42" stroke="#000000" stroke-width="0.6" stroke-opacity="0.8"/>
<line x1="603.00" y1="203.20" x2="610.00" y2="203.20" stroke="#000000" stroke-width="0.6" stroke-opacity="0.7"/>
<rect x="619.50" y="193.80" width="7.30" height="7.00" fill="#1b0c8f" />
<rect x="619.50" y="196.90" width="7.30" height="3.90" fill="#1d0b8f" />
<rect x="619.50" y="200.00" width="7.30" height="5.80" fill="#8a16b2" />
<rect x="619.50" y="202.50" width="7.30" height="3.30" fill="#a31fae" />
<rect x="619.50" y="205.00" width="7.30" height="3.30" fill="#e4684f" />
<rect x="619.50" y="206.25" width="7.30" height="2.05" fill="#e9744c" />
<rect x="619.50" y="207.50" width="7.30" height="3.00" fill="#e4f23e" />
<rect x="619.50" y="209.00" width="7.30" height="1.50" fill="#e2f53e" />
<line x1="619.50" y1="196.59" x2="626.80" y2="196.59" stroke="#000000" stroke-width="0.6" stroke-opacity="0.8"/>
<line x1="619.50" y1="198.26" x2="626.80" y2="198.26" stroke="#000000" stroke-width="0.6" stroke-opacity="0.8"/>
<line x1="619.50" y1="206.90" x2="626.80" y2="206.90" stroke="#000000" stroke-width="0.6" stroke-opacity="0.7"/>
<rect x="638.30" y="208.80" width="6.70" height="7.00" fill="#1b0c8f" />
<rect x="638.30" y="211.90" width="6.70" height="3.90" fill="#1d0b8f" />
<rect x="638.30" y="215.00" width="6.70" height="2.00" fill="#e4f23e" />
<rect x="638.30" y="216.00" width="6.70" height="1.00" fill="#e2f53e" />
<line x1="638.30" y1="211.59" x2="645.00" y2="211.59" stroke="#000000" stroke-width="0.6" stroke-opacity="0.8"/>
<line x1="638.30" y1="213.26" x2="645.00" y2="213.26" stroke="#000000" stroke-width="0.6" stroke-opacity="0.8"/>
<rect x="656.80" y="227.50" width="7.00" height="2.10" fill="#e4684f" />
<rect x="656.80" y="228.15" width="7.00" height="1.45" fill="#e9744c" />
<rect x="656.80" y="228.80" width="7.00" height="2.00" fill="#8a16b2" />
<rect x="656.80" y="229.40" width="7.00" height="1.40" fill="#a31fae" />
<rect x="656.80" y="230.00" width="7.00" height="3.80" fill="#1b0c8f" />
<rect x="656.80" y="231.90" width="7.00" height="1.90" fill="#1d0b8f" />
<rect x="32.90" y="18.60" width="301.50" height="86.90" fill="none" stroke="#2b2b2b" stroke-width="0.85"/>
<line x1="32.45" y1="105.50" x2="32.45" y2="108.30" stroke="#2b2b2b" stroke-width="0.8" />
<text x="32.45" y="116.20" font-family="Liberation Sans, sans-serif" font-size="8.4" text-anchor="middle" fill="#1a1a1a" stroke="#1a1a1a" stroke-width="0.14" >0</text>
<line x1="49.23" y1="105.50" x2="49.23" y2="108.30" stroke="#2b2b2b" stroke-width="0.8" />
<text x="49.23" y="116.20" font-family="Liberation Sans, sans-serif" font-size="8.4" text-anchor="middle" fill="#1a1a1a" stroke="#1a1a1a" stroke-width="0.14" >10</text>
<line x1="66.01" y1="105.50" x2="66.01" y2="108.30" stroke="#2b2b2b" stroke-width="0.8" />
<text x="66.01" y="116.20" font-family="Liberation Sans, sans-serif" font-size="8.4" text-anchor="middle" fill="#1a1a1a" stroke="#1a1a1a" stroke-width="0.14" >20</text>
<line x1="82.79" y1="105.50" x2="82.79" y2="108.30" stroke="#2b2b2b" stroke-width="0.8" />
<text x="82.79" y="116.20" font-family="Liberation Sans, sans-serif" font-size="8.4" text-anchor="middle" fill="#1a1a1a" stroke="#1a1a1a" stroke-width="0.14" >30</text>
<line x1="99.57" y1="105.50" x2="99.57" y2="108.30" stroke="#2b2b2b" stroke-width="0.8" />
<text x="99.57" y="116.20" font-family="Liberation Sans, sans-serif" font-size="8.4" text-anchor="middle" fill="#1a1a1a" stroke="#1a1a1a" stroke-width="0.14" >40</text>
<line x1="116.35" y1="105.50" x2="116.35" y2="108.30" stroke="#2b2b2b" stroke-width="0.8" />
<text x="116.35" y="116.20" font-family="Liberation Sans, sans-serif" font-size="8.4" text-anchor="middle" fill="#1a1a1a" stroke="#1a1a1a" stroke-width="0.14" >50</text>
<line x1="133.13" y1="105.50" x2="133.13" y2="108.30" stroke="#2b2b2b" stroke-width="0.8" />
<text x="133.13" y="116.20" font-family="Liberation Sans, sans-serif" font-size="8.4" text-anchor="middle" fill="#1a1a1a" stroke="#1a1a1a" stroke-width="0.14" >60</text>
<line x1="149.91" y1="105.50" x2="149.91" y2="108.30" stroke="#2b2b2b" stroke-width="0.8" />
<text x="149.91" y="116.20" font-family="Liberation Sans, sans-serif" font-size="8.4" text-anchor="middle" fill="#1a1a1a" stroke="#1a1a1a" stroke-width="0.14" >70</text>
<line x1="166.69" y1="105.50" x2="166.69" y2="108.30" stroke="#2b2b2b" stroke-width="0.8" />
<text x="166.69" y="116.20" font-family="Liberation Sans, sans-serif" font-size="8.4" text-anchor="middle" fill="#1a1a1a" stroke="#1a1a1a" stroke-width="0.14" >80</text>
<line x1="183.47" y1="105.50" x2="183.47" y2="108.30" stroke="#2b2b2b" stroke-width="0.8" />
<text x="183.47" y="116.20" font-family="Liberation Sans, sans-serif" font-size="8.4" text-anchor="middle" fill="#1a1a1a" stroke="#1a1a1a" stroke-width="0.14" >90</text>
<line x1="200.25" y1="105.50" x2="200.25" y2="108.30" stroke="#2b2b2b" stroke-width="0.8" />
<text x="200.25" y="116.20" font-family="Liberation Sans, sans-serif" font-size="8.4" text-anchor="middle" fill="#1a1a1a" stroke="#1a1a1a" stroke-width="0.14" >100</text>
<line x1="217.03" y1="105.50" x2="217.03" y2="108.30" stroke="#2b2b2b" stroke-width="0.8" />
<text x="217.03" y="116.20" font-family="Liberation Sans, sans-serif" font-size="8.4" text-anchor="middle" fill="#1a1a1a" stroke="#1a1a1a" stroke-width="0.14" >110</text>
<line x1="233.81" y1="105.50" x2="233.81" y2="108.30" stroke="#2b2b2b" stroke-width="0.8" />
<text x="233.81" y="116.20" font-family="Liberation Sans, sans-serif" font-size="8.4" text-anchor="middle" fill="#1a1a1a" stroke="#1a1a1a" stroke-width="0.14" >120</text>
<line x1="250.59" y1="105.50" x2="250.59" y2="108.30" stroke="#2b2b2b" stroke-width="0.8" />
<text x="250.59" y="116.20" font-family="Liberation Sans, sans-serif" font-size="8.4" text-anchor="middle" fill="#1a1a1a" stroke="#1a1a1a" stroke-width="0.14" >130</text>
<line x1="267.37" y1="105.50" x2="267.37" y2="108.30" stroke="#2b2b2b" stroke-width="0.8" />
<text x="267.37" y="116.20" font-family="Liberation Sans, sans-serif" font-size="8.4" text-anchor="middle" fill="#1a1a1a" stroke="#1a1a1a" stroke-width="0.14" >140</text>
<line x1="284.15" y1="105.50" x2="284.15" y2="108.30" stroke="#2b2b2b" stroke-width="0.8" />
<text x="284.15" y="116.20" font-family="Liberation Sans, sans-serif" font-size="8.4" text-anchor="middle" fill="#1a1a1a" stroke="#1a1a1a" stroke-width="0.14" >150</text>
<line x1="300.93" y1="105.50" x2="300.93" y2="108.30" stroke="#2b2b2b" stroke-width="0.8" />
<text x="300.93" y="116.20" font-family="Liberation Sans, sans-serif" font-size="8.4" text-anchor="middle" fill="#1a1a1a" stroke="#1a1a1a" stroke-width="0.14" >160</text>
<line x1="317.71" y1="105.50" x2="317.71" y2="108.30" stroke="#2b2b2b" stroke-width="0.8" />
<text x="317.71" y="116.20" font-family="Liberation Sans, sans-serif" font-size="8.4" text-anchor="middle" fill="#1a1a1a" stroke="#1a1a1a" stroke-width="0.14" >170</text>
<line x1="30.10" y1="101.90" x2="32.90" y2="101.90" stroke="#2b2b2b" stroke-width="0.8" />
<text x="28.60" y="105.10" font-family="Liberation Sans, sans-serif" font-size="8.4" text-anchor="end" fill="#1a1a1a" stroke="#1a1a1a" stroke-width="0.14" >0</text>
<line x1="334.40" y1="101.90" x2="337.20" y2="101.90" stroke="#2b2b2b" stroke-width="0.8" />
<line x1="30.10" y1="78.65" x2="32.90" y2="78.65" stroke="#2b2b2b" stroke-width="0.8" />
<text x="28.60" y="81.85" font-family="Liberation Sans, sans-serif" font-size="8.4" text-anchor="end" fill="#1a1a1a" stroke="#1a1a1a" stroke-width="0.14" >10</text>
<line x1="334.40" y1="78.65" x2="337.20" y2="78.65" stroke="#2b2b2b" stroke-width="0.8" />
<line x1="30.10" y1="55.40" x2="32.90" y2="55.40" stroke="#2b2b2b" stroke-width="0.8" />
<text x="28.60" y="58.60" font-family="Liberation Sans, sans-serif" font-size="8.4" text-anchor="end" fill="#1a1a1a" stroke="#1a1a1a" stroke-width="0.14" >20</text>
<line x1="334.40" y1="55.40" x2="337.20" y2="55.40" stroke="#2b2b2b" stroke-width="0.8" />
<line x1="30.10" y1="32.15" x2="32.90" y2="32.15" stroke="#2b2b2b" stroke-width="0.8" />
<text x="28.60" y="35.35" font-family="Liberation Sans, sans-serif" font-size="8.4" text-anchor="end" fill="#1a1a1a" stroke="#1a1a1a" stroke-width="0.14" >30</text>
<line x1="334.40" y1="32.15" x2="337.20" y2="32.15" stroke="#2b2b2b" stroke-width="0.8" />
<rect x="369.00" y="18.60" width="301.40" height="86.90" fill="none" stroke="#2b2b2b" stroke-width="0.85"/>
<line x1="368.90" y1="105.50" x2="368.90" y2="108.30" stroke="#2b2b2b" stroke-width="0.8" />
<text x="368.90" y="116.20" font-family="Liberation Sans, sans-serif" font-size="8.4" text-anchor="middle" fill="#1a1a1a" stroke="#1a1a1a" stroke-width="0.14" >0</text>
<line x1="385.66" y1="105.50" x2="385.66" y2="108.30" stroke="#2b2b2b" stroke-width="0.8" />
<text x="385.66" y="116.20" font-family="Liberation Sans, sans-serif" font-size="8.4" text-anchor="middle" fill="#1a1a1a" stroke="#1a1a1a" stroke-width="0.14" >10</text>
<line x1="402.42" y1="105.50" x2="402.42" y2="108.30" stroke="#2b2b2b" stroke-width="0.8" />
<text x="402.42" y="116.20" font-family="Liberation Sans, sans-serif" font-size="8.4" text-anchor="middle" fill="#1a1a1a" stroke="#1a1a1a" stroke-width="0.14" >20</text>
<line x1="419.18" y1="105.50" x2="419.18" y2="108.30" stroke="#2b2b2b" stroke-width="0.8" />
<text x="419.18" y="116.20" font-family="Liberation Sans, sans-serif" font-size="8.4" text-anchor="middle" fill="#1a1a1a" stroke="#1a1a1a" stroke-width="0.14" >30</text>
<line x1="435.94" y1="105.50" x2="435.94" y2="108.30" stroke="#2b2b2b" stroke-width="0.8" />
<text x="435.94" y="116.20" font-family="Liberation Sans, sans-serif" font-size="8.4" text-anchor="middle" fill="#1a1a1a" stroke="#1a1a1a" stroke-width="0.14" >40</text>
<line x1="452.70" y1="105.50" x2="452.70" y2="108.30" stroke="#2b2b2b" stroke-width="0.8" />
<text x="452.70" y="116.20" font-family="Liberation Sans, sans-serif" font-size="8.4" text-anchor="middle" fill="#1a1a1a" stroke="#1a1a1a" stroke-width="0.14" >50</text>
<line x1="469.46" y1="105.50" x2="469.46" y2="108.30" stroke="#2b2b2b" stroke-width="0.8" />
<text x="469.46" y="116.20" font-family="Liberation Sans, sans-serif" font-size="8.4" text-anchor="middle" fill="#1a1a1a" stroke="#1a1a1a" stroke-width="0.14" >60</text>
<line x1="486.22" y1="105.50" x2="486.22" y2="108.30" stroke="#2b2b2b" stroke-width="0.8" />
<text x="486.22" y="116.20" font-family="Liberation Sans, sans-serif" font-size="8.4" text-anchor="middle" fill="#1a1a1a" stroke="#1a1a1a" stroke-width="0.14" >70</text>
<line x1="502.98" y1="105.50" x2="502.98" y2="108.30" stroke="#2b2b2b" stroke-width="0.8" />
<text x="502.98" y="116.20" font-family="Liberation Sans, sans-serif" font-size="8.4" text-anchor="middle" fill="#1a1a1a" stroke="#1a1a1a" stroke-width="0.14" >80</text>
<line x1="519.74" y1="105.50" x2="519.74" y2="108.30" stroke="#2b2b2b" stroke-width="0.8" />
<text x="519.74" y="116.20" font-family="Liberation Sans, sans-serif" font-size="8.4" text-anchor="middle" fill="#1a1a1a" stroke="#1a1a1a" stroke-width="0.14" >90</text>
<line x1="536.50" y1="105.50" x2="536.50" y2="108.30" stroke="#2b2b2b" stroke-width="0.8" />
<text x="536.50" y="116.20" font-family="Liberation Sans, sans-serif" font-size="8.4" text-anchor="middle" fill="#1a1a1a" stroke="#1a1a1a" stroke-width="0.14" >100</text>
<line x1="553.26" y1="105.50" x2="553.26" y2="108.30" stroke="#2b2b2b" stroke-width="0.8" />
<text x="553.26" y="116.20" font-family="Liberation Sans, sans-serif" font-size="8.4" text-anchor="middle" fill="#1a1a1a" stroke="#1a1a1a" stroke-width="0.14" >110</text>
<line x1="570.02" y1="105.50" x2="570.02" y2="108.30" stroke="#2b2b2b" stroke-width="0.8" />
<text x="570.02" y="116.20" font-family="Liberation Sans, sans-serif" font-size="8.4" text-anchor="middle" fill="#1a1a1a" stroke="#1a1a1a" stroke-width="0.14" >120</text>
<line x1="586.78" y1="105.50" x2="586.78" y2="108.30" stroke="#2b2b2b" stroke-width="0.8" />
<text x="586.78" y="116.20" font-family="Liberation Sans, sans-serif" font-size="8.4" text-anchor="middle" fill="#1a1a1a" stroke="#1a1a1a" stroke-width="0.14" >130</text>
<line x1="603.54" y1="105.50" x2="603.54" y2="108.30" stroke="#2b2b2b" stroke-width="0.8" />
<text x="603.54" y="116.20" font-family="Liberation Sans, sans-serif" font-size="8.4" text-anchor="middle" fill="#1a1a1a" stroke="#1a1a1a" stroke-width="0.14" >140</text>
<line x1="620.30" y1="105.50" x2="620.30" y2="108.30" stroke="#2b2b2b" stroke-width="0.8" />
<text x="620.30" y="116.20" font-family="Liberation Sans, sans-serif" font-size="8.4" text-anchor="middle" fill="#1a1a1a" stroke="#1a1a1a" stroke-width="0.14" >150</text>
<line x1="637.06" y1="105.50" x2="637.06" y2="108.30" stroke="#2b2b2b" stroke-width="0.8" />
<text x="637.06" y="116.20" font-family="Liberation Sans, sans-serif" font-size="8.4" text-anchor="middle" fill="#1a1a1a" stroke="#1a1a1a" stroke-width="0.14" >160</text>
<line x1="653.82" y1="105.50" x2="653.82" y2="108.30" stroke="#2b2b2b" stroke-width="0.8" />
<text x="653.82" y="116.20" font-family="Liberation Sans, sans-serif" font-size="8.4" text-anchor="middle" fill="#1a1a1a" stroke="#1a1a1a" stroke-width="0.14" >170</text>
<line x1="366.20" y1="101.30" x2="369.00" y2="101.30" stroke="#2b2b2b" stroke-width="0.8" />
<text x="363.60" y="104.50" font-family="Liberation Sans, sans-serif" font-size="8.4" text-anchor="end" fill="#1a1a1a" stroke="#1a1a1a" stroke-width="0.14" >0</text>
<line x1="670.40" y1="101.30" x2="673.20" y2="101.30" stroke="#2b2b2b" stroke-width="0.8" />
<line x1="366.20" y1="77.70" x2="369.00" y2="77.70" stroke="#2b2b2b" stroke-width="0.8" />
<text x="363.60" y="80.90" font-family="Liberation Sans, sans-serif" font-size="8.4" text-anchor="end" fill="#1a1a1a" stroke="#1a1a1a" stroke-width="0.14" >10</text>
<line x1="670.40" y1="77.70" x2="673.20" y2="77.70" stroke="#2b2b2b" stroke-width="0.8" />
<line x1="366.20" y1="54.10" x2="369.00" y2="54.10" stroke="#2b2b2b" stroke-width="0.8" />
<text x="363.60" y="57.30" font-family="Liberation Sans, sans-serif" font-size="8.4" text-anchor="end" fill="#1a1a1a" stroke="#1a1a1a" stroke-width="0.14" >20</text>
<line x1="670.40" y1="54.10" x2="673.20" y2="54.10" stroke="#2b2b2b" stroke-width="0.8" />
<line x1="366.20" y1="30.50" x2="369.00" y2="30.50" stroke="#2b2b2b" stroke-width="0.8" />
<text x="363.60" y="33.70" font-family="Liberation Sans, sans-serif" font-size="8.4" text-anchor="end" fill="#1a1a1a" stroke="#1a1a1a" stroke-width="0.14" >30</text>
<line x1="670.40" y1="30.50" x2="673.20" y2="30.50" stroke="#2b2b2b" stroke-width="0.8" />
<rect x="33.00" y="155.50" width="301.50" height="88.10" fill="none" stroke="#2b2b2b" stroke-width="0.85"/>
<line x1="41.10" y1="243.60" x2="41.10" y2="246.40" stroke="#2b2b2b" stroke-width="0.8" />
<text x="41.10" y="253.90" font-family="Liberation Sans, sans-serif" font-size="8.4" text-anchor="middle" fill="#1a1a1a" stroke="#1a1a1a" stroke-width="0.14" >0</text>
<line x1="56.94" y1="243.60" x2="56.94" y2="246.40" stroke="#2b2b2b" stroke-width="0.8" />
<text x="56.94" y="253.90" font-family="Liberation Sans, sans-serif" font-size="8.4" text-anchor="middle" fill="#1a1a1a" stroke="#1a1a1a" stroke-width="0.14" >10</text>
<line x1="72.78" y1="243.60" x2="72.78" y2="246.40" stroke="#2b2b2b" stroke-width="0.8" />
<text x="72.78" y="253.90" font-family="Liberation Sans, sans-serif" font-size="8.4" text-anchor="middle" fill="#1a1a1a" stroke="#1a1a1a" stroke-width="0.14" >20</text>
<line x1="88.62" y1="243.60" x2="88.62" y2="246.40" stroke="#2b2b2b" stroke-width="0.8" />
<text x="88.62" y="253.90" font-family="Liberation Sans, sans-serif" font-size="8.4" text-anchor="middle" fill="#1a1a1a" stroke="#1a1a1a" stroke-width="0.14" >30</text>
<line x1="104.46" y1="243.60" x2="104.46" y2="246.40" stroke="#2b2b2b" stroke-width="0.8" />
<text x="104.46" y="253.90" font-family="Liberation Sans, sans-serif" font-size="8.4" text-anchor="middle" fill="#1a1a1a" stroke="#1a1a1a" stroke-width="0.14" >40</text>
<line x1="120.30" y1="243.60" x2="120.30" y2="246.40" stroke="#2b2b2b" stroke-width="0.8" />
<text x="120.30" y="253.90" font-family="Liberation Sans, sans-serif" font-size="8.4" text-anchor="middle" fill="#1a1a1a" stroke="#1a1a1a" stroke-width="0.14" >50</text>
<line x1="136.14" y1="243.60" x2="136.14" y2="246.40" stroke="#2b2b2b" stroke-width="0.8" />
<text x="136.14" y="253.90" font-family="Liberation Sans, sans-serif" font-size="8.4" text-anchor="middle" fill="#1a1a1a" stroke="#1a1a1a" stroke-width="0.14" >60</text>
<line x1="151.98" y1="243.60" x2="151.98" y2="246.40" stroke="#2b2b2b" stroke-width="0.8" />
<text x="151.98" y="253.90" font-family="Liberation Sans, sans-serif" font-size="8.4" text-anchor="middle" fill="#1a1a1a" stroke="#1a1a1a" stroke-width="0.14" >70</text>
<line x1="167.82" y1="243.60" x2="167.82" y2="246.40" stroke="#2b2b2b" stroke-width="0.8" />
<text x="167.82" y="253.90" font-family="Liberation Sans, sans-serif" font-size="8.4" text-anchor="middle" fill="#1a1a1a" stroke="#1a1a1a" stroke-width="0.14" >80</text>
<line x1="183.66" y1="243.60" x2="183.66" y2="246.40" stroke="#2b2b2b" stroke-width="0.8" />
<text x="183.66" y="253.90" font-family="Liberation Sans, sans-serif" font-size="8.4" text-anchor="middle" fill="#1a1a1a" stroke="#1a1a1a" stroke-width="0.14" >90</text>
<line x1="199.50" y1="243.60" x2="199.50" y2="246.40" stroke="#2b2b2b" stroke-width="0.8" />
<text x="199.50" y="253.90" font-family="Liberation Sans, sans-serif" font-size="8.4" text-anchor="middle" fill="#1a1a1a" stroke="#1a1a1a" stroke-width="0.14" >100</text>
<line x1="215.34" y1="243.60" x2="215.34" y2="246.40" stroke="#2b2b2b" stroke-width="0.8" />
<text x="215.34" y="253.90" font-family="Liberation Sans, sans-serif" font-size="8.4" text-anchor="middle" fill="#1a1a1a" stroke="#1a1a1a" stroke-width="0.14" >110</text>
<line x1="231.18" y1="243.60" x2="231.18" y2="246.40" stroke="#2b2b2b" stroke-width="0.8" />
<text x="231.18" y="253.90" font-family="Liberation Sans, sans-serif" font-size="8.4" text-anchor="middle" fill="#1a1a1a" stroke="#1a1a1a" stroke-width="0.14" >120</text>
<line x1="247.02" y1="243.60" x2="247.02" y2="246.40" stroke="#2b2b2b" stroke-width="0.8" />
<text x="247.02" y="253.90" font-family="Liberation Sans, sans-serif" font-size="8.4" text-anchor="middle" fill="#1a1a1a" stroke="#1a1a1a" stroke-width="0.14" >130</text>
<line x1="262.86" y1="243.60" x2="262.86" y2="246.40" stroke="#2b2b2b" stroke-width="0.8" />
<text x="262.86" y="253.90" font-family="Liberation Sans, sans-serif" font-size="8.4" text-anchor="middle" fill="#1a1a1a" stroke="#1a1a1a" stroke-width="0.14" >140</text>
<line x1="278.70" y1="243.60" x2="278.70" y2="246.40" stroke="#2b2b2b" stroke-width="0.8" />
<text x="278.70" y="253.90" font-family="Liberation Sans, sans-serif" font-size="8.4" text-anchor="middle" fill="#1a1a1a" stroke="#1a1a1a" stroke-width="0.14" >150</text>
<line x1="294.54" y1="243.60" x2="294.54" y2="246.40" stroke="#2b2b2b" stroke-width="0.8" />
<text x="294.54" y="253.90" font-family="Liberation Sans, sans-serif" font-size="8.4" text-anchor="middle" fill="#1a1a1a" stroke="#1a1a1a" stroke-width="0.14" >160</text>
<line x1="310.38" y1="243.60" x2="310.38" y2="246.40" stroke="#2b2b2b" stroke-width="0.8" />
<text x="310.38" y="253.90" font-family="Liberation Sans, sans-serif" font-size="8.4" text-anchor="middle" fill="#1a1a1a" stroke="#1a1a1a" stroke-width="0.14" >170</text>
<line x1="326.22" y1="243.60" x2="326.22" y2="246.40" stroke="#2b2b2b" stroke-width="0.8" />
<text x="326.22" y="253.90" font-family="Liberation Sans, sans-serif" font-size="8.4" text-anchor="middle" fill="#1a1a1a" stroke="#1a1a1a" stroke-width="0.14" >180</text>
<line x1="30.20" y1="239.40" x2="33.00" y2="239.40" stroke="#2b2b2b" stroke-width="0.8" />
<text x="28.30" y="242.60" font-family="Liberation Sans, sans-serif" font-size="8.4" text-anchor="end" fill="#1a1a1a" stroke="#1a1a1a" stroke-width="0.14" >0.00</text>
<line x1="334.50" y1="239.40" x2="337.30" y2="239.40" stroke="#2b2b2b" stroke-width="0.8" />
<line x1="30.20" y1="219.55" x2="33.00" y2="219.55" stroke="#2b2b2b" stroke-width="0.8" />
<text x="28.30" y="222.75" font-family="Liberation Sans, sans-serif" font-size="8.4" text-anchor="end" fill="#1a1a1a" stroke="#1a1a1a" stroke-width="0.14" >0.25</text>
<line x1="334.50" y1="219.55" x2="337.30" y2="219.55" stroke="#2b2b2b" stroke-width="0.8" />
<line x1="30.20" y1="199.70" x2="33.00" y2="199.70" stroke="#2b2b2b" stroke-width="0.8" />
<text x="28.30" y="202.90" font-family="Liberation Sans, sans-serif" font-size="8.4" text-anchor="end" fill="#1a1a1a" stroke="#1a1a1a" stroke-width="0.14" >0.50</text>
<line x1="334.50" y1="199.70" x2="337.30" y2="199.70" stroke="#2b2b2b" stroke-width="0.8" />
<line x1="30.20" y1="179.85" x2="33.00" y2="179.85" stroke="#2b2b2b" stroke-width="0.8" />
<text x="28.30" y="183.05" font-family="Liberation Sans, sans-serif" font-size="8.4" text-anchor="end" fill="#1a1a1a" stroke="#1a1a1a" stroke-width="0.14" >0.75</text>
<line x1="334.50" y1="179.85" x2="337.30" y2="179.85" stroke="#2b2b2b" stroke-width="0.8" />
<line x1="30.20" y1="160.00" x2="33.00" y2="160.00" stroke="#2b2b2b" stroke-width="0.8" />
<text x="28.30" y="163.20" font-family="Liberation Sans, sans-serif" font-size="8.4" text-anchor="end" fill="#1a1a1a" stroke="#1a1a1a" stroke-width="0.14" >1.00</text>
<line x1="334.50" y1="160.00" x2="337.30" y2="160.00" stroke="#2b2b2b" stroke-width="0.8" />
<rect x="369.30" y="155.50" width="301.00" height="88.10" fill="none" stroke="#2b2b2b" stroke-width="0.85"/>
<line x1="368.90" y1="243.60" x2="368.90" y2="246.40" stroke="#2b2b2b" stroke-width="0.8" />
<text x="368.90" y="253.90" font-family="Liberation Sans, sans-serif" font-size="8.4" text-anchor="middle" fill="#1a1a1a" stroke="#1a1a1a" stroke-width="0.14" >0</text>
<line x1="385.66" y1="243.60" x2="385.66" y2="246.40" stroke="#2b2b2b" stroke-width="0.8" />
<text x="385.66" y="253.90" font-family="Liberation Sans, sans-serif" font-size="8.4" text-anchor="middle" fill="#1a1a1a" stroke="#1a1a1a" stroke-width="0.14" >10</text>
<line x1="402.42" y1="243.60" x2="402.42" y2="246.40" stroke="#2b2b2b" stroke-width="0.8" />
<text x="402.42" y="253.90" font-family="Liberation Sans, sans-serif" font-size="8.4" text-anchor="middle" fill="#1a1a1a" stroke="#1a1a1a" stroke-width="0.14" >20</text>
<line x1="419.18" y1="243.60" x2="419.18" y2="246.40" stroke="#2b2b2b" stroke-width="0.8" />
<text x="419.18" y="253.90" font-family="Liberation Sans, sans-serif" font-size="8.4" text-anchor="middle" fill="#1a1a1a" stroke="#1a1a1a" stroke-width="0.14" >30</text>
<line x1="435.94" y1="243.60" x2="435.94" y2="246.40" stroke="#2b2b2b" stroke-width="0.8" />
<text x="435.94" y="253.90" font-family="Liberation Sans, sans-serif" font-size="8.4" text-anchor="middle" fill="#1a1a1a" stroke="#1a1a1a" stroke-width="0.14" >40</text>
<line x1="452.70" y1="243.60" x2="452.70" y2="246.40" stroke="#2b2b2b" stroke-width="0.8" />
<text x="452.70" y="253.90" font-family="Liberation Sans, sans-serif" font-size="8.4" text-anchor="middle" fill="#1a1a1a" stroke="#1a1a1a" stroke-width="0.14" >50</text>
<line x1="469.46" y1="243.60" x2="469.46" y2="246.40" stroke="#2b2b2b" stroke-width="0.8" />
<text x="469.46" y="253.90" font-family="Liberation Sans, sans-serif" font-size="8.4" text-anchor="middle" fill="#1a1a1a" stroke="#1a1a1a" stroke-width="0.14" >60</text>
<line x1="486.22" y1="243.60" x2="486.22" y2="246.40" stroke="#2b2b2b" stroke-width="0.8" />
<text x="486.22" y="253.90" font-family="Liberation Sans, sans-serif" font-size="8.4" text-anchor="middle" fill="#1a1a1a" stroke="#1a1a1a" stroke-width="0.14" >70</text>
<line x1="502.98" y1="243.60" x2="502.98" y2="246.40" stroke="#2b2b2b" stroke-width="0.8" />
<text x="502.98" y="253.90" font-family="Liberation Sans, sans-serif" font-size="8.4" text-anchor="middle" fill="#1a1a1a" stroke="#1a1a1a" stroke-width="0.14" >80</text>
<line x1="519.74" y1="243.60" x2="519.74" y2="246.40" stroke="#2b2b2b" stroke-width="0.8" />
<text x="519.74" y="253.90" font-family="Liberation Sans, sans-serif" font-size="8.4" text-anchor="middle" fill="#1a1a1a" stroke="#1a1a1a" stroke-width="0.14" >90</text>
<line x1="536.50" y1="243.60" x2="536.50" y2="246.40" stroke="#2b2b2b" stroke-width="0.8" />
<text x="536.50" y="253.90" font-family="Liberation Sans, sans-serif" font-size="8.4" text-anchor="middle" fill="#1a1a1a" stroke="#1a1a1a" stroke-width="0.14" >100</text>
<line x1="553.26" y1="243.60" x2="553.26" y2="246.40" stroke="#2b2b2b" stroke-width="0.8" />
<text x="553.26" y="253.90" font-family="Liberation Sans, sans-serif" font-size="8.4" text-anchor="middle" fill="#1a1a1a" stroke="#1a1a1a" stroke-width="0.14" >110</text>
<line x1="570.02" y1="243.60" x2="570.02" y2="246.40" stroke="#2b2b2b" stroke-width="0.8" />
<text x="570.02" y="253.90" font-family="Liberation Sans, sans-serif" font-size="8.4" text-anchor="middle" fill="#1a1a1a" stroke="#1a1a1a" stroke-width="0.14" >120</text>
<line x1="586.78" y1="243.60" x2="586.78" y2="246.40" stroke="#2b2b2b" stroke-width="0.8" />
<text x="586.78" y="253.90" font-family="Liberation Sans, sans-serif" font-size="8.4" text-anchor="middle" fill="#1a1a1a" stroke="#1a1a1a" stroke-width="0.14" >130</text>
<line x1="603.54" y1="243.60" x2="603.54" y2="246.40" stroke="#2b2b2b" stroke-width="0.8" />
<text x="603.54" y="253.90" font-family="Liberation Sans, sans-serif" font-size="8.4" text-anchor="middle" fill="#1a1a1a" stroke="#1a1a1a" stroke-width="0.14" >140</text>
<line x1="620.30" y1="243.60" x2="620.30" y2="246.40" stroke="#2b2b2b" stroke-width="0.8" />
<text x="620.30" y="253.90" font-family="Liberation Sans, sans-serif" font-size="8.4" text-anchor="middle" fill="#1a1a1a" stroke="#1a1a1a" stroke-width="0.14" >150</text>
<line x1="637.06" y1="243.60" x2="637.06" y2="246.40" stroke="#2b2b2b" stroke-width="0.8" />
<text x="637.06" y="253.90" font-family="Liberation Sans, sans-serif" font-size="8.4" text-anchor="middle" fill="#1a1a1a" stroke="#1a1a1a" stroke-width="0.14" >160</text>
<line x1="653.82" y1="243.60" x2="653.82" y2="246.40" stroke="#2b2b2b" stroke-width="0.8" />
<text x="653.82" y="253.90" font-family="Liberation Sans, sans-serif" font-size="8.4" text-anchor="middle" fill="#1a1a1a" stroke="#1a1a1a" stroke-width="0.14" >170</text>
<line x1="366.50" y1="240.80" x2="369.30" y2="240.80" stroke="#2b2b2b" stroke-width="0.8" />
<text x="364.00" y="244.00" font-family="Liberation Sans, sans-serif" font-size="8.4" text-anchor="end" fill="#1a1a1a" stroke="#1a1a1a" stroke-width="0.14" >0</text>
<line x1="366.50" y1="214.30" x2="369.30" y2="214.30" stroke="#2b2b2b" stroke-width="0.8" />
<text x="364.00" y="217.50" font-family="Liberation Sans, sans-serif" font-size="8.4" text-anchor="end" fill="#1a1a1a" stroke="#1a1a1a" stroke-width="0.14" >5</text>
<line x1="366.50" y1="187.80" x2="369.30" y2="187.80" stroke="#2b2b2b" stroke-width="0.8" />
<text x="364.00" y="191.00" font-family="Liberation Sans, sans-serif" font-size="8.4" text-anchor="end" fill="#1a1a1a" stroke="#1a1a1a" stroke-width="0.14" >10</text>
<line x1="366.50" y1="161.30" x2="369.30" y2="161.30" stroke="#2b2b2b" stroke-width="0.8" />
<text x="364.00" y="164.50" font-family="Liberation Sans, sans-serif" font-size="8.4" text-anchor="end" fill="#1a1a1a" stroke="#1a1a1a" stroke-width="0.14" >15</text>
<text x="674.80" y="244.00" font-family="Liberation Sans, sans-serif" font-size="8.4" text-anchor="start" fill="#1a1a1a" stroke="#1a1a1a" stroke-width="0.14" >0</text>
<text x="674.80" y="217.50" font-family="Liberation Sans, sans-serif" font-size="8.4" text-anchor="start" fill="#1a1a1a" stroke="#1a1a1a" stroke-width="0.14" >5</text>
<text x="674.80" y="191.00" font-family="Liberation Sans, sans-serif" font-size="8.4" text-anchor="start" fill="#1a1a1a" stroke="#1a1a1a" stroke-width="0.14" >10</text>
<text x="674.80" y="164.50" font-family="Liberation Sans, sans-serif" font-size="8.4" text-anchor="start" fill="#1a1a1a" stroke="#1a1a1a" stroke-width="0.14" >15</text>
<rect x="384.20" y="155.60" width="60.60" height="25.90" fill="#ffffff" />
<rect x="409.70" y="169.00" width="3.30" height="12.10" fill="#9d21b0" />
<rect x="420.80" y="166.00" width="3.30" height="15.10" fill="#e7714f" />
<rect x="437.10" y="166.00" width="3.30" height="14.80" fill="#e2f53e" />
<line x1="409.70" y1="175.30" x2="413.00" y2="175.30" stroke="#333" stroke-width="0.5" />
<line x1="420.80" y1="173.50" x2="424.10" y2="173.50" stroke="#333" stroke-width="0.5" />
<line x1="437.10" y1="173.50" x2="440.40" y2="173.50" stroke="#333" stroke-width="0.5" />
<rect x="387.60" y="180.60" width="3.00" height="0.70" fill="#1b0c8f" />
<rect x="384.2" y="155.6" width="60.60" height="25.90" fill="none" stroke="#2b2b2b" stroke-width="0.85"/>
<line x1="382.40" y1="161.10" x2="384.20" y2="161.10" stroke="#2b2b2b" stroke-width="0.5" />
<line x1="382.40" y1="181.20" x2="384.20" y2="181.20" stroke="#2b2b2b" stroke-width="0.5" />
<text x="379.80" y="162.90" font-family="Liberation Sans, sans-serif" font-size="4.6" text-anchor="end" fill="#1a1a1a" stroke="#1a1a1a" stroke-width="0.14" >2</text>
<text x="379.80" y="182.90" font-family="Liberation Sans, sans-serif" font-size="4.6" text-anchor="end" fill="#1a1a1a" stroke="#1a1a1a" stroke-width="0.14" >0</text>
<line x1="389.00" y1="181.50" x2="389.00" y2="183.00" stroke="#2b2b2b" stroke-width="0.5" />
<text x="389.00" y="190.30" font-family="Liberation Sans, sans-serif" font-size="4.9" text-anchor="middle" fill="#1a1a1a" stroke="#1a1a1a" stroke-width="0.14" >100</text>
<line x1="411.40" y1="181.50" x2="411.40" y2="183.00" stroke="#2b2b2b" stroke-width="0.5" />
<text x="411.40" y="190.30" font-family="Liberation Sans, sans-serif" font-size="4.9" text-anchor="middle" fill="#1a1a1a" stroke="#1a1a1a" stroke-width="0.14" >500</text>
<line x1="422.40" y1="181.50" x2="422.40" y2="183.00" stroke="#2b2b2b" stroke-width="0.5" />
<text x="422.40" y="190.30" font-family="Liberation Sans, sans-serif" font-size="4.9" text-anchor="middle" fill="#1a1a1a" stroke="#1a1a1a" stroke-width="0.14" >700</text>
<line x1="438.30" y1="181.50" x2="438.30" y2="183.00" stroke="#2b2b2b" stroke-width="0.5" />
<text x="438.30" y="190.30" font-family="Liberation Sans, sans-serif" font-size="4.9" text-anchor="middle" fill="#1a1a1a" stroke="#1a1a1a" stroke-width="0.14" >1000</text>
<rect x="369.3" y="228.5" width="9.6" height="15.0" fill="none" stroke="#1a1a1a" stroke-width="1.0"/>
<line x1="384.20" y1="155.60" x2="369.30" y2="228.50" stroke="#1a1a1a" stroke-width="1.0" />
<line x1="444.80" y1="181.50" x2="378.90" y2="243.50" stroke="#1a1a1a" stroke-width="1.0" />
<text x="135.70" y="130.60" font-family="Liberation Sans, sans-serif" font-size="10.2" text-anchor="start" fill="#1a1a1a" stroke="#1a1a1a" stroke-width="0.14" textLength="30.9" lengthAdjust="spacingAndGlyphs">Angle(</text>
<text x="166.60" y="130.60" font-family="Liberation Serif, serif" font-style="italic" font-size="10.6" fill="#1a1a1a">b</text>
<text x="172.40" y="130.60" font-family="Liberation Sans, sans-serif" font-size="10.2" text-anchor="start" fill="#1a1a1a" stroke="#1a1a1a" stroke-width="0.14" >,</text>
<text x="177.80" y="130.60" font-family="Liberation Serif, serif" font-style="italic" font-size="10.6" fill="#1a1a1a">s</text>
<text x="183.40" y="130.60" font-family="Liberation Sans, sans-serif" font-size="10.2" text-anchor="start" fill="#1a1a1a" stroke="#1a1a1a" stroke-width="0.14" >)</text>
<text x="189.50" y="130.60" font-family="Liberation Sans, sans-serif" font-size="10.2" text-anchor="start" fill="#1a1a1a" stroke="#1a1a1a" stroke-width="0.14" textLength="42.0" lengthAdjust="spacingAndGlyphs">(Degree)</text>
<path d="M167.50 121.70 h4.0 M170.40 120.70 L171.70 121.70 L170.40 122.70" stroke="#1a1a1a" stroke-width="0.6" fill="none"/>
<path d="M178.40 123.20 h4.0 M181.30 122.20 L182.60 123.20 L181.30 124.20" stroke="#1a1a1a" stroke-width="0.6" fill="none"/>
<text x="471.60" y="130.60" font-family="Liberation Sans, sans-serif" font-size="10.2" text-anchor="start" fill="#1a1a1a" stroke="#1a1a1a" stroke-width="0.14" textLength="30.9" lengthAdjust="spacingAndGlyphs">Angle(</text>
<text x="502.50" y="130.60" font-family="Liberation Serif, serif" font-style="italic" font-size="10.6" fill="#1a1a1a">b</text>
<text x="508.30" y="130.60" font-family="Liberation Sans, sans-serif" font-size="10.2" text-anchor="start" fill="#1a1a1a" stroke="#1a1a1a" stroke-width="0.14" >,</text>
<text x="513.70" y="130.60" font-family="Liberation Serif, serif" font-style="italic" font-size="10.6" fill="#1a1a1a">s</text>
<text x="519.30" y="130.60" font-family="Liberation Sans, sans-serif" font-size="10.2" text-anchor="start" fill="#1a1a1a" stroke="#1a1a1a" stroke-width="0.14" >)</text>
<text x="525.40" y="130.60" font-family="Liberation Sans, sans-serif" font-size="10.2" text-anchor="start" fill="#1a1a1a" stroke="#1a1a1a" stroke-width="0.14" textLength="42.0" lengthAdjust="spacingAndGlyphs">(Degree)</text>
<path d="M503.40 121.70 h4.0 M506.30 120.70 L507.60 121.70 L506.30 122.70" stroke="#1a1a1a" stroke-width="0.6" fill="none"/>
<path d="M514.30 123.20 h4.0 M517.20 122.20 L518.50 123.20 L517.20 124.20" stroke="#1a1a1a" stroke-width="0.6" fill="none"/>
<text x="135.90" y="268.50" font-family="Liberation Sans, sans-serif" font-size="10.2" text-anchor="start" fill="#1a1a1a" stroke="#1a1a1a" stroke-width="0.14" textLength="30.9" lengthAdjust="spacingAndGlyphs">Angle(</text>
<text x="166.80" y="268.50" font-family="Liberation Serif, serif" font-style="italic" font-size="10.6" fill="#1a1a1a">b</text>
<text x="172.60" y="268.50" font-family="Liberation Sans, sans-serif" font-size="10.2" text-anchor="start" fill="#1a1a1a" stroke="#1a1a1a" stroke-width="0.14" >,</text>
<text x="178.00" y="268.50" font-family="Liberation Serif, serif" font-style="italic" font-size="10.6" fill="#1a1a1a">s</text>
<text x="183.60" y="268.50" font-family="Liberation Sans, sans-serif" font-size="10.2" text-anchor="start" fill="#1a1a1a" stroke="#1a1a1a" stroke-width="0.14" >)</text>
<text x="189.70" y="268.50" font-family="Liberation Sans, sans-serif" font-size="10.2" text-anchor="start" fill="#1a1a1a" stroke="#1a1a1a" stroke-width="0.14" textLength="42.0" lengthAdjust="spacingAndGlyphs">(Degree)</text>
<path d="M167.70 259.60 h4.0 M170.60 258.60 L171.90 259.60 L170.60 260.60" stroke="#1a1a1a" stroke-width="0.6" fill="none"/>
<path d="M178.60 261.10 h4.0 M181.50 260.10 L182.80 261.10 L181.50 262.10" stroke="#1a1a1a" stroke-width="0.6" fill="none"/>
<text x="471.50" y="268.40" font-family="Liberation Sans, sans-serif" font-size="10.2" text-anchor="start" fill="#1a1a1a" stroke="#1a1a1a" stroke-width="0.14" textLength="30.9" lengthAdjust="spacingAndGlyphs">Angle(</text>
<text x="502.40" y="268.40" font-family="Liberation Serif, serif" font-style="italic" font-size="10.6" fill="#1a1a1a">b</text>
<text x="508.20" y="268.40" font-family="Liberation Sans, sans-serif" font-size="10.2" text-anchor="start" fill="#1a1a1a" stroke="#1a1a1a" stroke-width="0.14" >,</text>
<text x="513.60" y="268.40" font-family="Liberation Serif, serif" font-style="italic" font-size="10.6" fill="#1a1a1a">s</text>
<text x="519.20" y="268.40" font-family="Liberation Sans, sans-serif" font-size="10.2" text-anchor="start" fill="#1a1a1a" stroke="#1a1a1a" stroke-width="0.14" >)</text>
<text x="525.30" y="268.40" font-family="Liberation Sans, sans-serif" font-size="10.2" text-anchor="start" fill="#1a1a1a" stroke="#1a1a1a" stroke-width="0.14" textLength="42.0" lengthAdjust="spacingAndGlyphs">(Degree)</text>
<path d="M503.30 259.50 h4.0 M506.20 258.50 L507.50 259.50 L506.20 260.50" stroke="#1a1a1a" stroke-width="0.6" fill="none"/>
<path d="M514.20 261.00 h4.0 M517.10 260.00 L518.40 261.00 L517.10 262.00" stroke="#1a1a1a" stroke-width="0.6" fill="none"/>
<text x="0" y="0" transform="translate(15.10,62.00) rotate(-90)" font-family="Liberation Sans, sans-serif" font-size="10.2" text-anchor="middle" fill="#1a1a1a" textLength="50.0" lengthAdjust="spacingAndGlyphs">F-net/B-net</text>
<text x="0" y="0" transform="translate(350.90,62.30) rotate(-90)" font-family="Liberation Sans, sans-serif" font-size="10.2" text-anchor="middle" fill="#1a1a1a" textLength="50.0" lengthAdjust="spacingAndGlyphs">F-net/B-net</text>
<text x="0" y="0" transform="translate(7.90,200.20) rotate(-90)" font-family="Liberation Sans, sans-serif" font-size="10.2" text-anchor="middle" fill="#1a1a1a" textLength="22.8" lengthAdjust="spacingAndGlyphs">E-net</text>
<text x="0" y="0" transform="translate(350.40,201.00) rotate(-90)" font-family="Liberation Sans, sans-serif" font-size="10.2" text-anchor="middle" fill="#1a1a1a" textLength="68.8" lengthAdjust="spacingAndGlyphs">Total/Angstrom</text>
</svg>
</body></html>
